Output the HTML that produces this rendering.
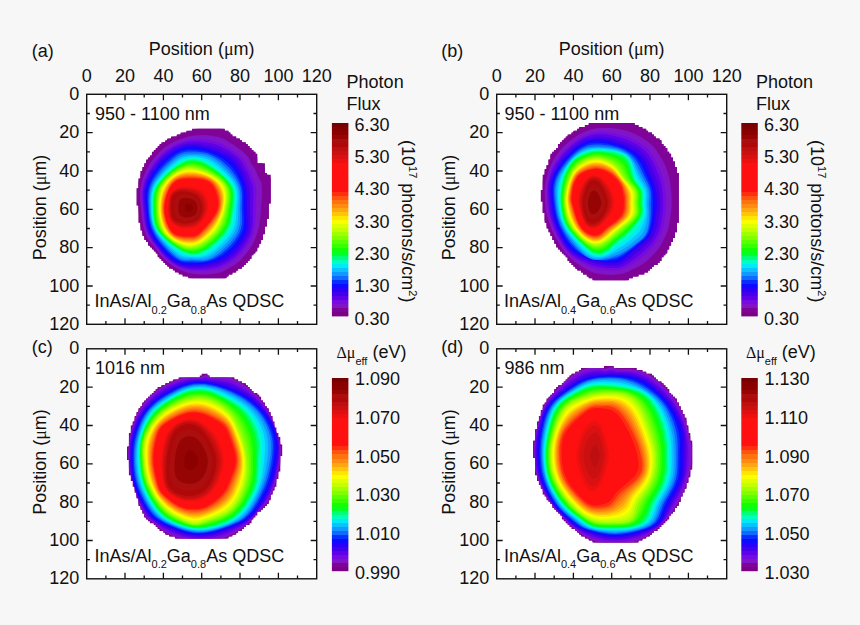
<!DOCTYPE html>
<html><head><meta charset="utf-8"><title>Figure</title>
<style>html,body{margin:0;padding:0;background:#f7f7f7;}svg{display:block;}</style></head>
<body><svg width="860" height="625" viewBox="0 0 860 625" font-family='"Liberation Sans", Arial, sans-serif' fill="#111">
<defs><clipPath id="clip0"><path d="M224.7,128.8 224.7,130.7 228.5,130.7 228.5,132.6 230.4,132.6 230.4,134.6 232.4,134.6 232.4,136.5 236.2,136.5 236.2,138.4 240.0,138.4 240.0,140.3 241.9,140.3 241.9,142.2 245.8,142.2 245.8,144.1 247.7,144.1 247.7,146.1 249.6,146.1 249.6,148.0 251.5,148.0 251.5,149.9 253.4,149.9 253.4,151.8 255.4,151.8 255.4,153.7 257.3,153.7 257.3,155.6 257.3,155.6 257.3,157.6 257.3,157.6 257.3,159.5 257.3,159.5 257.3,161.4 257.3,161.4 257.3,163.3 264.9,163.3 264.9,165.2 264.9,165.2 264.9,167.1 264.9,167.1 264.9,169.1 264.9,169.1 264.9,171.0 264.9,171.0 264.9,172.9 266.9,172.9 266.9,174.8 270.7,174.8 270.7,176.7 270.7,176.7 270.7,178.6 270.7,178.6 270.7,180.6 270.7,180.6 270.7,182.5 270.7,182.5 270.7,184.4 270.7,184.4 270.7,186.3 270.7,186.3 270.7,188.2 270.7,188.2 270.7,190.1 270.7,190.1 270.7,192.1 270.7,192.1 270.7,194.0 270.7,194.0 270.7,195.9 270.7,195.9 270.7,197.8 270.7,197.8 270.7,199.7 270.7,199.7 270.7,201.6 270.7,201.6 270.7,203.6 268.8,203.6 268.8,205.5 268.8,205.5 268.8,207.4 268.8,207.4 268.8,209.3 268.8,209.3 268.8,211.2 268.8,211.2 268.8,213.1 268.8,213.1 268.8,215.1 268.8,215.1 268.8,217.0 268.8,217.0 268.8,218.9 266.9,218.9 266.9,220.8 266.9,220.8 266.9,222.7 266.9,222.7 266.9,224.6 266.9,224.6 266.9,226.6 264.9,226.6 264.9,228.5 264.9,228.5 264.9,230.4 264.9,230.4 264.9,232.3 264.9,232.3 264.9,234.2 263.0,234.2 263.0,236.1 263.0,236.1 263.0,238.1 263.0,238.1 263.0,240.0 261.1,240.0 261.1,241.9 261.1,241.9 261.1,243.8 259.2,243.8 259.2,245.7 259.2,245.7 259.2,247.6 257.3,247.6 257.3,249.6 257.3,249.6 257.3,251.5 255.4,251.5 255.4,253.4 253.4,253.4 253.4,255.3 251.5,255.3 251.5,257.2 251.5,257.2 251.5,259.1 249.6,259.1 249.6,261.1 247.7,261.1 247.7,263.0 245.8,263.0 245.8,264.9 243.9,264.9 243.9,266.8 241.9,266.8 241.9,268.7 238.1,268.7 238.1,270.6 236.2,270.6 236.2,272.6 232.4,272.6 232.4,274.5 228.5,274.5 228.5,276.4 226.6,276.4 226.6,278.3 188.3,278.3 188.3,276.4 182.5,276.4 182.5,274.5 178.7,274.5 178.7,272.6 174.9,272.6 174.9,270.6 172.9,270.6 172.9,268.7 169.1,268.7 169.1,266.8 167.2,266.8 167.2,264.9 165.3,264.9 165.3,263.0 163.4,263.0 163.4,261.1 161.4,261.1 161.4,259.1 159.5,259.1 159.5,257.2 157.6,257.2 157.6,255.3 157.6,255.3 157.6,253.4 155.7,253.4 155.7,251.5 153.8,251.5 153.8,249.6 151.9,249.6 151.9,247.6 149.9,247.6 149.9,245.7 148.0,245.7 148.0,243.8 148.0,243.8 148.0,241.9 146.1,241.9 146.1,240.0 144.2,240.0 144.2,238.1 144.2,238.1 144.2,236.1 142.3,236.1 142.3,234.2 142.3,234.2 142.3,232.3 142.3,232.3 142.3,230.4 140.4,230.4 140.4,228.5 140.4,228.5 140.4,226.6 140.4,226.6 140.4,224.6 140.4,224.6 140.4,222.7 138.4,222.7 138.4,220.8 138.4,220.8 138.4,218.9 138.4,218.9 138.4,217.0 138.4,217.0 138.4,215.1 138.4,215.1 138.4,213.1 138.4,213.1 138.4,211.2 138.4,211.2 138.4,209.3 138.4,209.3 138.4,207.4 138.4,207.4 138.4,205.5 136.5,205.5 136.5,203.6 136.5,203.6 136.5,201.6 136.5,201.6 136.5,199.7 136.5,199.7 136.5,197.8 136.5,197.8 136.5,195.9 136.5,195.9 136.5,194.0 136.5,194.0 136.5,192.1 136.5,192.1 136.5,190.1 136.5,190.1 136.5,188.2 138.4,188.2 138.4,186.3 138.4,186.3 138.4,184.4 138.4,184.4 138.4,182.5 138.4,182.5 138.4,180.6 138.4,180.6 138.4,178.6 140.4,178.6 140.4,176.7 140.4,176.7 140.4,174.8 140.4,174.8 140.4,172.9 140.4,172.9 140.4,171.0 142.3,171.0 142.3,169.1 142.3,169.1 142.3,167.1 144.2,167.1 144.2,165.2 144.2,165.2 144.2,163.3 146.1,163.3 146.1,161.4 146.1,161.4 146.1,159.5 148.0,159.5 148.0,157.6 149.9,157.6 149.9,155.6 151.9,155.6 151.9,153.7 151.9,153.7 151.9,151.8 153.8,151.8 153.8,149.9 155.7,149.9 155.7,148.0 157.6,148.0 157.6,146.1 159.5,146.1 159.5,144.1 161.4,144.1 161.4,142.2 165.3,142.2 165.3,140.3 167.2,140.3 167.2,138.4 171.0,138.4 171.0,136.5 176.8,136.5 176.8,134.6 180.6,134.6 180.6,132.6 186.4,132.6 186.4,130.7 192.1,130.7 192.1,128.8Z"/></clipPath>
<linearGradient id="cb0" x1="0" y1="0" x2="0" y2="1"><stop offset="0.0000" stop-color="#770000"/><stop offset="0.0208" stop-color="#770000"/><stop offset="0.0208" stop-color="#850000"/><stop offset="0.0417" stop-color="#850000"/><stop offset="0.0417" stop-color="#8c0000"/><stop offset="0.0625" stop-color="#8c0000"/><stop offset="0.0625" stop-color="#970404"/><stop offset="0.0833" stop-color="#970404"/><stop offset="0.0833" stop-color="#aa0e0e"/><stop offset="0.1042" stop-color="#aa0e0e"/><stop offset="0.1042" stop-color="#b00808"/><stop offset="0.1250" stop-color="#b00808"/><stop offset="0.1250" stop-color="#bd0f0f"/><stop offset="0.1458" stop-color="#bd0f0f"/><stop offset="0.1458" stop-color="#ca1010"/><stop offset="0.1667" stop-color="#ca1010"/><stop offset="0.1667" stop-color="#db1010"/><stop offset="0.1875" stop-color="#db1010"/><stop offset="0.1875" stop-color="#ed1010"/><stop offset="0.2083" stop-color="#ed1010"/><stop offset="0.2083" stop-color="#fc1010"/><stop offset="0.2292" stop-color="#fc1010"/><stop offset="0.2292" stop-color="#ff1010"/><stop offset="0.2500" stop-color="#ff1010"/><stop offset="0.2500" stop-color="#ff1010"/><stop offset="0.2708" stop-color="#ff1010"/><stop offset="0.2708" stop-color="#ff1010"/><stop offset="0.2917" stop-color="#ff1010"/><stop offset="0.2917" stop-color="#ff1010"/><stop offset="0.3125" stop-color="#ff1010"/><stop offset="0.3125" stop-color="#ff1010"/><stop offset="0.3333" stop-color="#ff1010"/><stop offset="0.3333" stop-color="#ff1010"/><stop offset="0.3542" stop-color="#ff1010"/><stop offset="0.3542" stop-color="#ff2e10"/><stop offset="0.3750" stop-color="#ff2e10"/><stop offset="0.3750" stop-color="#ff5410"/><stop offset="0.3958" stop-color="#ff5410"/><stop offset="0.3958" stop-color="#ff7210"/><stop offset="0.4167" stop-color="#ff7210"/><stop offset="0.4167" stop-color="#ff8c10"/><stop offset="0.4375" stop-color="#ff8c10"/><stop offset="0.4375" stop-color="#ffa610"/><stop offset="0.4583" stop-color="#ffa610"/><stop offset="0.4583" stop-color="#ffc509"/><stop offset="0.4792" stop-color="#ffc509"/><stop offset="0.4792" stop-color="#ffe601"/><stop offset="0.5000" stop-color="#ffe601"/><stop offset="0.5000" stop-color="#faff00"/><stop offset="0.5208" stop-color="#faff00"/><stop offset="0.5208" stop-color="#deff00"/><stop offset="0.5417" stop-color="#deff00"/><stop offset="0.5417" stop-color="#c2ff00"/><stop offset="0.5625" stop-color="#c2ff00"/><stop offset="0.5625" stop-color="#a2ff00"/><stop offset="0.5833" stop-color="#a2ff00"/><stop offset="0.5833" stop-color="#7fff00"/><stop offset="0.6042" stop-color="#7fff00"/><stop offset="0.6042" stop-color="#5aff00"/><stop offset="0.6250" stop-color="#5aff00"/><stop offset="0.6250" stop-color="#36ff00"/><stop offset="0.6458" stop-color="#36ff00"/><stop offset="0.6458" stop-color="#11ff00"/><stop offset="0.6667" stop-color="#11ff00"/><stop offset="0.6667" stop-color="#03ff26"/><stop offset="0.6875" stop-color="#03ff26"/><stop offset="0.6875" stop-color="#00ff77"/><stop offset="0.7083" stop-color="#00ff77"/><stop offset="0.7083" stop-color="#00ffc0"/><stop offset="0.7292" stop-color="#00ffc0"/><stop offset="0.7292" stop-color="#00eaf5"/><stop offset="0.7500" stop-color="#00eaf5"/><stop offset="0.7500" stop-color="#0cc1ff"/><stop offset="0.7708" stop-color="#0cc1ff"/><stop offset="0.7708" stop-color="#1099ff"/><stop offset="0.7917" stop-color="#1099ff"/><stop offset="0.7917" stop-color="#106aff"/><stop offset="0.8125" stop-color="#106aff"/><stop offset="0.8125" stop-color="#062eff"/><stop offset="0.8333" stop-color="#062eff"/><stop offset="0.8333" stop-color="#0e09ff"/><stop offset="0.8542" stop-color="#0e09ff"/><stop offset="0.8542" stop-color="#2800f9"/><stop offset="0.8750" stop-color="#2800f9"/><stop offset="0.8750" stop-color="#4200e8"/><stop offset="0.8958" stop-color="#4200e8"/><stop offset="0.8958" stop-color="#5f00e8"/><stop offset="0.9167" stop-color="#5f00e8"/><stop offset="0.9167" stop-color="#750be1"/><stop offset="0.9375" stop-color="#750be1"/><stop offset="0.9375" stop-color="#8014c6"/><stop offset="0.9583" stop-color="#8014c6"/><stop offset="0.9583" stop-color="#800397"/><stop offset="0.9792" stop-color="#800397"/><stop offset="0.9792" stop-color="#7b0086"/><stop offset="1.0000" stop-color="#7b0086"/></linearGradient>
<clipPath id="clip1"><path d="M634.7,123.0 634.7,125.0 638.5,125.0 638.5,126.9 642.4,126.9 642.4,128.8 646.2,128.8 646.2,130.7 648.1,130.7 648.1,132.6 652.0,132.6 652.0,134.6 653.9,134.6 653.9,136.5 655.8,136.5 655.8,138.4 659.6,138.4 659.6,140.3 661.5,140.3 661.5,142.2 661.5,142.2 661.5,144.1 663.5,144.1 663.5,146.1 665.4,146.1 665.4,148.0 667.3,148.0 667.3,149.9 667.3,149.9 667.3,151.8 669.2,151.8 669.2,153.7 671.1,153.7 671.1,155.6 671.1,155.6 671.1,157.6 673.0,157.6 673.0,159.5 673.0,159.5 673.0,161.4 675.0,161.4 675.0,163.3 675.0,163.3 675.0,165.2 675.0,165.2 675.0,167.1 676.9,167.1 676.9,169.1 676.9,169.1 676.9,171.0 676.9,171.0 676.9,172.9 678.8,172.9 678.8,174.8 678.8,174.8 678.8,176.7 678.8,176.7 678.8,178.6 678.8,178.6 678.8,180.6 678.8,180.6 678.8,182.5 678.8,182.5 678.8,184.4 678.8,184.4 678.8,186.3 678.8,186.3 678.8,188.2 678.8,188.2 678.8,190.1 678.8,190.1 678.8,192.1 678.8,192.1 678.8,194.0 678.8,194.0 678.8,195.9 678.8,195.9 678.8,197.8 678.8,197.8 678.8,199.7 678.8,199.7 678.8,201.6 678.8,201.6 678.8,203.6 678.8,203.6 678.8,205.5 678.8,205.5 678.8,207.4 678.8,207.4 678.8,209.3 678.8,209.3 678.8,211.2 678.8,211.2 678.8,213.1 678.8,213.1 678.8,215.1 678.8,215.1 678.8,217.0 678.8,217.0 678.8,218.9 678.8,218.9 678.8,220.8 678.8,220.8 678.8,222.7 676.9,222.7 676.9,224.6 676.9,224.6 676.9,226.6 676.9,226.6 676.9,228.5 676.9,228.5 676.9,230.4 676.9,230.4 676.9,232.3 675.0,232.3 675.0,234.2 675.0,234.2 675.0,236.1 675.0,236.1 675.0,238.1 673.0,238.1 673.0,240.0 673.0,240.0 673.0,241.9 671.1,241.9 671.1,243.8 671.1,243.8 671.1,245.7 669.2,245.7 669.2,247.6 669.2,247.6 669.2,249.6 667.3,249.6 667.3,251.5 667.3,251.5 667.3,253.4 665.4,253.4 665.4,255.3 663.5,255.3 663.5,257.2 661.5,257.2 661.5,259.1 661.5,259.1 661.5,261.1 659.6,261.1 659.6,263.0 657.7,263.0 657.7,264.9 653.9,264.9 653.9,266.8 652.0,266.8 652.0,268.7 650.0,268.7 650.0,270.6 648.1,270.6 648.1,272.6 644.3,272.6 644.3,274.5 638.5,274.5 638.5,276.4 632.8,276.4 632.8,278.3 629.0,278.3 629.0,280.2 592.5,280.2 592.5,278.3 588.7,278.3 588.7,276.4 586.8,276.4 586.8,274.5 583.0,274.5 583.0,272.6 581.0,272.6 581.0,270.6 577.2,270.6 577.2,268.7 575.3,268.7 575.3,266.8 573.4,266.8 573.4,264.9 571.5,264.9 571.5,263.0 569.5,263.0 569.5,261.1 567.6,261.1 567.6,259.1 567.6,259.1 567.6,257.2 565.7,257.2 565.7,255.3 563.8,255.3 563.8,253.4 561.9,253.4 561.9,251.5 560.0,251.5 560.0,249.6 558.0,249.6 558.0,247.6 556.1,247.6 556.1,245.7 556.1,245.7 556.1,243.8 554.2,243.8 554.2,241.9 554.2,241.9 554.2,240.0 552.3,240.0 552.3,238.1 552.3,238.1 552.3,236.1 550.4,236.1 550.4,234.2 550.4,234.2 550.4,232.3 548.5,232.3 548.5,230.4 548.5,230.4 548.5,228.5 546.5,228.5 546.5,226.6 546.5,226.6 546.5,224.6 546.5,224.6 546.5,222.7 544.6,222.7 544.6,220.8 544.6,220.8 544.6,218.9 544.6,218.9 544.6,217.0 544.6,217.0 544.6,215.1 544.6,215.1 544.6,213.1 542.7,213.1 542.7,211.2 542.7,211.2 542.7,209.3 542.7,209.3 542.7,207.4 542.7,207.4 542.7,205.5 542.7,205.5 542.7,203.6 542.7,203.6 542.7,201.6 540.8,201.6 540.8,199.7 540.8,199.7 540.8,197.8 540.8,197.8 540.8,195.9 540.8,195.9 540.8,194.0 540.8,194.0 540.8,192.1 540.8,192.1 540.8,190.1 542.7,190.1 542.7,188.2 542.7,188.2 542.7,186.3 542.7,186.3 542.7,184.4 542.7,184.4 542.7,182.5 542.7,182.5 542.7,180.6 542.7,180.6 542.7,178.6 542.7,178.6 542.7,176.7 542.7,176.7 542.7,174.8 544.6,174.8 544.6,172.9 544.6,172.9 544.6,171.0 544.6,171.0 544.6,169.1 546.5,169.1 546.5,167.1 546.5,167.1 546.5,165.2 548.5,165.2 548.5,163.3 548.5,163.3 548.5,161.4 548.5,161.4 548.5,159.5 550.4,159.5 550.4,157.6 550.4,157.6 550.4,155.6 550.4,155.6 550.4,153.7 552.3,153.7 552.3,151.8 554.2,151.8 554.2,149.9 556.1,149.9 556.1,148.0 558.0,148.0 558.0,146.1 558.0,146.1 558.0,144.1 560.0,144.1 560.0,142.2 561.9,142.2 561.9,140.3 563.8,140.3 563.8,138.4 565.7,138.4 565.7,136.5 567.6,136.5 567.6,134.6 571.5,134.6 571.5,132.6 573.4,132.6 573.4,130.7 577.2,130.7 577.2,128.8 579.1,128.8 579.1,126.9 584.9,126.9 584.9,125.0 588.7,125.0 588.7,123.0Z"/></clipPath>
<linearGradient id="cb1" x1="0" y1="0" x2="0" y2="1"><stop offset="0.0000" stop-color="#770000"/><stop offset="0.0208" stop-color="#770000"/><stop offset="0.0208" stop-color="#850000"/><stop offset="0.0417" stop-color="#850000"/><stop offset="0.0417" stop-color="#8c0000"/><stop offset="0.0625" stop-color="#8c0000"/><stop offset="0.0625" stop-color="#970404"/><stop offset="0.0833" stop-color="#970404"/><stop offset="0.0833" stop-color="#aa0e0e"/><stop offset="0.1042" stop-color="#aa0e0e"/><stop offset="0.1042" stop-color="#b00808"/><stop offset="0.1250" stop-color="#b00808"/><stop offset="0.1250" stop-color="#bd0f0f"/><stop offset="0.1458" stop-color="#bd0f0f"/><stop offset="0.1458" stop-color="#ca1010"/><stop offset="0.1667" stop-color="#ca1010"/><stop offset="0.1667" stop-color="#db1010"/><stop offset="0.1875" stop-color="#db1010"/><stop offset="0.1875" stop-color="#ed1010"/><stop offset="0.2083" stop-color="#ed1010"/><stop offset="0.2083" stop-color="#fc1010"/><stop offset="0.2292" stop-color="#fc1010"/><stop offset="0.2292" stop-color="#ff1010"/><stop offset="0.2500" stop-color="#ff1010"/><stop offset="0.2500" stop-color="#ff1010"/><stop offset="0.2708" stop-color="#ff1010"/><stop offset="0.2708" stop-color="#ff1010"/><stop offset="0.2917" stop-color="#ff1010"/><stop offset="0.2917" stop-color="#ff1010"/><stop offset="0.3125" stop-color="#ff1010"/><stop offset="0.3125" stop-color="#ff1010"/><stop offset="0.3333" stop-color="#ff1010"/><stop offset="0.3333" stop-color="#ff1010"/><stop offset="0.3542" stop-color="#ff1010"/><stop offset="0.3542" stop-color="#ff2e10"/><stop offset="0.3750" stop-color="#ff2e10"/><stop offset="0.3750" stop-color="#ff5410"/><stop offset="0.3958" stop-color="#ff5410"/><stop offset="0.3958" stop-color="#ff7210"/><stop offset="0.4167" stop-color="#ff7210"/><stop offset="0.4167" stop-color="#ff8c10"/><stop offset="0.4375" stop-color="#ff8c10"/><stop offset="0.4375" stop-color="#ffa610"/><stop offset="0.4583" stop-color="#ffa610"/><stop offset="0.4583" stop-color="#ffc509"/><stop offset="0.4792" stop-color="#ffc509"/><stop offset="0.4792" stop-color="#ffe601"/><stop offset="0.5000" stop-color="#ffe601"/><stop offset="0.5000" stop-color="#faff00"/><stop offset="0.5208" stop-color="#faff00"/><stop offset="0.5208" stop-color="#deff00"/><stop offset="0.5417" stop-color="#deff00"/><stop offset="0.5417" stop-color="#c2ff00"/><stop offset="0.5625" stop-color="#c2ff00"/><stop offset="0.5625" stop-color="#a2ff00"/><stop offset="0.5833" stop-color="#a2ff00"/><stop offset="0.5833" stop-color="#7fff00"/><stop offset="0.6042" stop-color="#7fff00"/><stop offset="0.6042" stop-color="#5aff00"/><stop offset="0.6250" stop-color="#5aff00"/><stop offset="0.6250" stop-color="#36ff00"/><stop offset="0.6458" stop-color="#36ff00"/><stop offset="0.6458" stop-color="#11ff00"/><stop offset="0.6667" stop-color="#11ff00"/><stop offset="0.6667" stop-color="#03ff26"/><stop offset="0.6875" stop-color="#03ff26"/><stop offset="0.6875" stop-color="#00ff77"/><stop offset="0.7083" stop-color="#00ff77"/><stop offset="0.7083" stop-color="#00ffc0"/><stop offset="0.7292" stop-color="#00ffc0"/><stop offset="0.7292" stop-color="#00eaf5"/><stop offset="0.7500" stop-color="#00eaf5"/><stop offset="0.7500" stop-color="#0cc1ff"/><stop offset="0.7708" stop-color="#0cc1ff"/><stop offset="0.7708" stop-color="#1099ff"/><stop offset="0.7917" stop-color="#1099ff"/><stop offset="0.7917" stop-color="#106aff"/><stop offset="0.8125" stop-color="#106aff"/><stop offset="0.8125" stop-color="#062eff"/><stop offset="0.8333" stop-color="#062eff"/><stop offset="0.8333" stop-color="#0e09ff"/><stop offset="0.8542" stop-color="#0e09ff"/><stop offset="0.8542" stop-color="#2800f9"/><stop offset="0.8750" stop-color="#2800f9"/><stop offset="0.8750" stop-color="#4200e8"/><stop offset="0.8958" stop-color="#4200e8"/><stop offset="0.8958" stop-color="#5f00e8"/><stop offset="0.9167" stop-color="#5f00e8"/><stop offset="0.9167" stop-color="#750be1"/><stop offset="0.9375" stop-color="#750be1"/><stop offset="0.9375" stop-color="#8014c6"/><stop offset="0.9583" stop-color="#8014c6"/><stop offset="0.9583" stop-color="#800397"/><stop offset="0.9792" stop-color="#800397"/><stop offset="0.9792" stop-color="#7b0086"/><stop offset="1.0000" stop-color="#7b0086"/></linearGradient>
<clipPath id="clip2"><path d="M207.4,373.7 207.4,375.6 209.4,375.6 209.4,377.6 234.3,377.6 234.3,379.5 238.1,379.5 238.1,381.4 241.9,381.4 241.9,383.3 245.8,383.3 245.8,385.2 247.7,385.2 247.7,387.1 249.6,387.1 249.6,389.1 251.5,389.1 251.5,391.0 253.4,391.0 253.4,392.9 257.3,392.9 257.3,394.8 259.2,394.8 259.2,396.7 261.1,396.7 261.1,398.6 261.1,398.6 261.1,400.6 263.0,400.6 263.0,402.5 264.9,402.5 264.9,404.4 264.9,404.4 264.9,406.3 266.9,406.3 266.9,408.2 268.8,408.2 268.8,410.1 268.8,410.1 268.8,412.1 270.7,412.1 270.7,414.0 270.7,414.0 270.7,415.9 272.6,415.9 272.6,417.8 272.6,417.8 272.6,419.7 272.6,419.7 272.6,421.6 274.5,421.6 274.5,423.6 274.5,423.6 274.5,425.5 274.5,425.5 274.5,427.4 276.4,427.4 276.4,429.3 276.4,429.3 276.4,431.2 276.4,431.2 276.4,433.1 278.4,433.1 278.4,435.1 278.4,435.1 278.4,437.0 280.3,437.0 280.3,438.9 280.3,438.9 280.3,440.8 280.3,440.8 280.3,442.7 280.3,442.7 280.3,444.6 282.2,444.6 282.2,446.6 282.2,446.6 282.2,448.5 282.2,448.5 282.2,450.4 282.2,450.4 282.2,452.3 282.2,452.3 282.2,454.2 282.2,454.2 282.2,456.1 280.3,456.1 280.3,458.1 280.3,458.1 280.3,460.0 280.3,460.0 280.3,461.9 280.3,461.9 280.3,463.8 280.3,463.8 280.3,465.7 280.3,465.7 280.3,467.6 280.3,467.6 280.3,469.6 280.3,469.6 280.3,471.5 278.4,471.5 278.4,473.4 278.4,473.4 278.4,475.3 278.4,475.3 278.4,477.2 278.4,477.2 278.4,479.1 276.4,479.1 276.4,481.1 276.4,481.1 276.4,483.0 276.4,483.0 276.4,484.9 276.4,484.9 276.4,486.8 274.5,486.8 274.5,488.7 274.5,488.7 274.5,490.6 272.6,490.6 272.6,492.6 272.6,492.6 272.6,494.5 270.7,494.5 270.7,496.4 270.7,496.4 270.7,498.3 270.7,498.3 270.7,500.2 268.8,500.2 268.8,502.1 268.8,502.1 268.8,504.1 266.9,504.1 266.9,506.0 264.9,506.0 264.9,507.9 263.0,507.9 263.0,509.8 261.1,509.8 261.1,511.7 257.3,511.7 257.3,513.6 257.3,513.6 257.3,515.5 255.4,515.5 255.4,517.5 253.4,517.5 253.4,519.4 251.5,519.4 251.5,521.3 251.5,521.3 251.5,523.2 249.6,523.2 249.6,525.1 245.8,525.1 245.8,527.0 243.9,527.0 243.9,529.0 241.9,529.0 241.9,530.9 238.1,530.9 238.1,532.8 236.2,532.8 236.2,534.7 232.4,534.7 232.4,536.6 228.5,536.6 228.5,538.5 174.9,538.5 174.9,536.6 169.1,536.6 169.1,534.7 165.3,534.7 165.3,532.8 163.4,532.8 163.4,530.9 159.5,530.9 159.5,529.0 157.6,529.0 157.6,527.0 155.7,527.0 155.7,525.1 153.8,525.1 153.8,523.2 149.9,523.2 149.9,521.3 148.0,521.3 148.0,519.4 146.1,519.4 146.1,517.5 144.2,517.5 144.2,515.5 144.2,515.5 144.2,513.6 142.3,513.6 142.3,511.7 142.3,511.7 142.3,509.8 140.4,509.8 140.4,507.9 140.4,507.9 140.4,506.0 138.4,506.0 138.4,504.1 138.4,504.1 138.4,502.1 138.4,502.1 138.4,500.2 138.4,500.2 138.4,498.3 136.5,498.3 136.5,496.4 136.5,496.4 136.5,494.5 136.5,494.5 136.5,492.6 134.6,492.6 134.6,490.6 134.6,490.6 134.6,488.7 134.6,488.7 134.6,486.8 132.7,486.8 132.7,484.9 132.7,484.9 132.7,483.0 132.7,483.0 132.7,481.1 130.8,481.1 130.8,479.1 130.8,479.1 130.8,477.2 130.8,477.2 130.8,475.3 128.9,475.3 128.9,473.4 128.9,473.4 128.9,471.5 128.9,471.5 128.9,469.6 128.9,469.6 128.9,467.6 128.9,467.6 128.9,465.7 128.9,465.7 128.9,463.8 128.9,463.8 128.9,461.9 128.9,461.9 128.9,460.0 127.0,460.0 127.0,458.1 127.0,458.1 127.0,456.1 127.0,456.1 127.0,454.2 127.0,454.2 127.0,452.3 127.0,452.3 127.0,450.4 127.0,450.4 127.0,448.5 127.0,448.5 127.0,446.6 128.9,446.6 128.9,444.6 128.9,444.6 128.9,442.7 128.9,442.7 128.9,440.8 128.9,440.8 128.9,438.9 128.9,438.9 128.9,437.0 128.9,437.0 128.9,435.1 128.9,435.1 128.9,433.1 130.8,433.1 130.8,431.2 130.8,431.2 130.8,429.3 130.8,429.3 130.8,427.4 130.8,427.4 130.8,425.5 132.7,425.5 132.7,423.6 132.7,423.6 132.7,421.6 134.6,421.6 134.6,419.7 134.6,419.7 134.6,417.8 134.6,417.8 134.6,415.9 136.5,415.9 136.5,414.0 136.5,414.0 136.5,412.1 138.4,412.1 138.4,410.1 138.4,410.1 138.4,408.2 140.4,408.2 140.4,406.3 142.3,406.3 142.3,404.4 142.3,404.4 142.3,402.5 144.2,402.5 144.2,400.6 146.1,400.6 146.1,398.6 148.0,398.6 148.0,396.7 149.9,396.7 149.9,394.8 151.9,394.8 151.9,392.9 153.8,392.9 153.8,391.0 155.7,391.0 155.7,389.1 157.6,389.1 157.6,387.1 161.4,387.1 161.4,385.2 165.3,385.2 165.3,383.3 169.1,383.3 169.1,381.4 172.9,381.4 172.9,379.5 178.7,379.5 178.7,377.6 199.8,377.6 199.8,375.6 201.7,375.6 201.7,373.7Z"/></clipPath>
<linearGradient id="cb2" x1="0" y1="0" x2="0" y2="1"><stop offset="0.0000" stop-color="#770000"/><stop offset="0.0208" stop-color="#770000"/><stop offset="0.0208" stop-color="#850000"/><stop offset="0.0417" stop-color="#850000"/><stop offset="0.0417" stop-color="#8c0000"/><stop offset="0.0625" stop-color="#8c0000"/><stop offset="0.0625" stop-color="#970404"/><stop offset="0.0833" stop-color="#970404"/><stop offset="0.0833" stop-color="#aa0e0e"/><stop offset="0.1042" stop-color="#aa0e0e"/><stop offset="0.1042" stop-color="#b00808"/><stop offset="0.1250" stop-color="#b00808"/><stop offset="0.1250" stop-color="#bd0f0f"/><stop offset="0.1458" stop-color="#bd0f0f"/><stop offset="0.1458" stop-color="#ca1010"/><stop offset="0.1667" stop-color="#ca1010"/><stop offset="0.1667" stop-color="#db1010"/><stop offset="0.1875" stop-color="#db1010"/><stop offset="0.1875" stop-color="#ed1010"/><stop offset="0.2083" stop-color="#ed1010"/><stop offset="0.2083" stop-color="#fc1010"/><stop offset="0.2292" stop-color="#fc1010"/><stop offset="0.2292" stop-color="#ff1010"/><stop offset="0.2500" stop-color="#ff1010"/><stop offset="0.2500" stop-color="#ff1010"/><stop offset="0.2708" stop-color="#ff1010"/><stop offset="0.2708" stop-color="#ff1010"/><stop offset="0.2917" stop-color="#ff1010"/><stop offset="0.2917" stop-color="#ff1010"/><stop offset="0.3125" stop-color="#ff1010"/><stop offset="0.3125" stop-color="#ff1010"/><stop offset="0.3333" stop-color="#ff1010"/><stop offset="0.3333" stop-color="#ff1010"/><stop offset="0.3542" stop-color="#ff1010"/><stop offset="0.3542" stop-color="#ff2e10"/><stop offset="0.3750" stop-color="#ff2e10"/><stop offset="0.3750" stop-color="#ff5410"/><stop offset="0.3958" stop-color="#ff5410"/><stop offset="0.3958" stop-color="#ff7210"/><stop offset="0.4167" stop-color="#ff7210"/><stop offset="0.4167" stop-color="#ff8c10"/><stop offset="0.4375" stop-color="#ff8c10"/><stop offset="0.4375" stop-color="#ffa610"/><stop offset="0.4583" stop-color="#ffa610"/><stop offset="0.4583" stop-color="#ffc509"/><stop offset="0.4792" stop-color="#ffc509"/><stop offset="0.4792" stop-color="#ffe601"/><stop offset="0.5000" stop-color="#ffe601"/><stop offset="0.5000" stop-color="#faff00"/><stop offset="0.5208" stop-color="#faff00"/><stop offset="0.5208" stop-color="#deff00"/><stop offset="0.5417" stop-color="#deff00"/><stop offset="0.5417" stop-color="#c2ff00"/><stop offset="0.5625" stop-color="#c2ff00"/><stop offset="0.5625" stop-color="#a2ff00"/><stop offset="0.5833" stop-color="#a2ff00"/><stop offset="0.5833" stop-color="#7fff00"/><stop offset="0.6042" stop-color="#7fff00"/><stop offset="0.6042" stop-color="#5aff00"/><stop offset="0.6250" stop-color="#5aff00"/><stop offset="0.6250" stop-color="#36ff00"/><stop offset="0.6458" stop-color="#36ff00"/><stop offset="0.6458" stop-color="#11ff00"/><stop offset="0.6667" stop-color="#11ff00"/><stop offset="0.6667" stop-color="#03ff26"/><stop offset="0.6875" stop-color="#03ff26"/><stop offset="0.6875" stop-color="#00ff77"/><stop offset="0.7083" stop-color="#00ff77"/><stop offset="0.7083" stop-color="#00ffc0"/><stop offset="0.7292" stop-color="#00ffc0"/><stop offset="0.7292" stop-color="#00eaf5"/><stop offset="0.7500" stop-color="#00eaf5"/><stop offset="0.7500" stop-color="#0cc1ff"/><stop offset="0.7708" stop-color="#0cc1ff"/><stop offset="0.7708" stop-color="#1099ff"/><stop offset="0.7917" stop-color="#1099ff"/><stop offset="0.7917" stop-color="#106aff"/><stop offset="0.8125" stop-color="#106aff"/><stop offset="0.8125" stop-color="#062eff"/><stop offset="0.8333" stop-color="#062eff"/><stop offset="0.8333" stop-color="#0e09ff"/><stop offset="0.8542" stop-color="#0e09ff"/><stop offset="0.8542" stop-color="#2800f9"/><stop offset="0.8750" stop-color="#2800f9"/><stop offset="0.8750" stop-color="#4200e8"/><stop offset="0.8958" stop-color="#4200e8"/><stop offset="0.8958" stop-color="#5f00e8"/><stop offset="0.9167" stop-color="#5f00e8"/><stop offset="0.9167" stop-color="#750be1"/><stop offset="0.9375" stop-color="#750be1"/><stop offset="0.9375" stop-color="#8014c6"/><stop offset="0.9583" stop-color="#8014c6"/><stop offset="0.9583" stop-color="#800397"/><stop offset="0.9792" stop-color="#800397"/><stop offset="0.9792" stop-color="#7b0086"/><stop offset="1.0000" stop-color="#7b0086"/></linearGradient>
<clipPath id="clip3"><path d="M613.6,366.1 613.6,368.0 636.6,368.0 636.6,369.9 642.4,369.9 642.4,371.8 646.2,371.8 646.2,373.7 652.0,373.7 652.0,375.6 653.9,375.6 653.9,377.6 655.8,377.6 655.8,379.5 657.7,379.5 657.7,381.4 661.5,381.4 661.5,383.3 663.5,383.3 663.5,385.2 665.4,385.2 665.4,387.1 667.3,387.1 667.3,389.1 669.2,389.1 669.2,391.0 669.2,391.0 669.2,392.9 671.1,392.9 671.1,394.8 673.0,394.8 673.0,396.7 675.0,396.7 675.0,398.6 676.9,398.6 676.9,400.6 676.9,400.6 676.9,402.5 678.8,402.5 678.8,404.4 678.8,404.4 678.8,406.3 680.7,406.3 680.7,408.2 680.7,408.2 680.7,410.1 682.6,410.1 682.6,412.1 682.6,412.1 682.6,414.0 684.5,414.0 684.5,415.9 684.5,415.9 684.5,417.8 686.5,417.8 686.5,419.7 686.5,419.7 686.5,421.6 686.5,421.6 686.5,423.6 686.5,423.6 686.5,425.5 688.4,425.5 688.4,427.4 688.4,427.4 688.4,429.3 688.4,429.3 688.4,431.2 688.4,431.2 688.4,433.1 690.3,433.1 690.3,435.1 690.3,435.1 690.3,437.0 690.3,437.0 690.3,438.9 690.3,438.9 690.3,440.8 692.2,440.8 692.2,442.7 692.2,442.7 692.2,444.6 692.2,444.6 692.2,446.6 692.2,446.6 692.2,448.5 692.2,448.5 692.2,450.4 692.2,450.4 692.2,452.3 692.2,452.3 692.2,454.2 692.2,454.2 692.2,456.1 692.2,456.1 692.2,458.1 692.2,458.1 692.2,460.0 692.2,460.0 692.2,461.9 692.2,461.9 692.2,463.8 692.2,463.8 692.2,465.7 692.2,465.7 692.2,467.6 692.2,467.6 692.2,469.6 690.3,469.6 690.3,471.5 690.3,471.5 690.3,473.4 690.3,473.4 690.3,475.3 690.3,475.3 690.3,477.2 688.4,477.2 688.4,479.1 688.4,479.1 688.4,481.1 688.4,481.1 688.4,483.0 686.5,483.0 686.5,484.9 686.5,484.9 686.5,486.8 686.5,486.8 686.5,488.7 684.5,488.7 684.5,490.6 684.5,490.6 684.5,492.6 682.6,492.6 682.6,494.5 682.6,494.5 682.6,496.4 680.7,496.4 680.7,498.3 680.7,498.3 680.7,500.2 680.7,500.2 680.7,502.1 678.8,502.1 678.8,504.1 678.8,504.1 678.8,506.0 676.9,506.0 676.9,507.9 675.0,507.9 675.0,509.8 675.0,509.8 675.0,511.7 673.0,511.7 673.0,513.6 671.1,513.6 671.1,515.5 669.2,515.5 669.2,517.5 669.2,517.5 669.2,519.4 667.3,519.4 667.3,521.3 665.4,521.3 665.4,523.2 663.5,523.2 663.5,525.1 661.5,525.1 661.5,527.0 659.6,527.0 659.6,529.0 657.7,529.0 657.7,530.9 653.9,530.9 653.9,532.8 652.0,532.8 652.0,534.7 650.0,534.7 650.0,536.6 646.2,536.6 646.2,538.5 642.4,538.5 642.4,540.5 638.5,540.5 638.5,542.4 592.5,542.4 592.5,540.5 588.7,540.5 588.7,538.5 584.9,538.5 584.9,536.6 581.0,536.6 581.0,534.7 579.1,534.7 579.1,532.8 577.2,532.8 577.2,530.9 575.3,530.9 575.3,529.0 571.5,529.0 571.5,527.0 569.5,527.0 569.5,525.1 567.6,525.1 567.6,523.2 565.7,523.2 565.7,521.3 563.8,521.3 563.8,519.4 561.9,519.4 561.9,517.5 561.9,517.5 561.9,515.5 560.0,515.5 560.0,513.6 558.0,513.6 558.0,511.7 556.1,511.7 556.1,509.8 554.2,509.8 554.2,507.9 552.3,507.9 552.3,506.0 552.3,506.0 552.3,504.1 550.4,504.1 550.4,502.1 548.5,502.1 548.5,500.2 546.5,500.2 546.5,498.3 546.5,498.3 546.5,496.4 544.6,496.4 544.6,494.5 542.7,494.5 542.7,492.6 542.7,492.6 542.7,490.6 542.7,490.6 542.7,488.7 540.8,488.7 540.8,486.8 540.8,486.8 540.8,484.9 538.9,484.9 538.9,483.0 538.9,483.0 538.9,481.1 537.0,481.1 537.0,479.1 537.0,479.1 537.0,477.2 537.0,477.2 537.0,475.3 535.0,475.3 535.0,473.4 535.0,473.4 535.0,471.5 535.0,471.5 535.0,469.6 535.0,469.6 535.0,467.6 535.0,467.6 535.0,465.7 535.0,465.7 535.0,463.8 535.0,463.8 535.0,461.9 535.0,461.9 535.0,460.0 535.0,460.0 535.0,458.1 533.1,458.1 533.1,456.1 533.1,456.1 533.1,454.2 533.1,454.2 533.1,452.3 533.1,452.3 533.1,450.4 533.1,450.4 533.1,448.5 533.1,448.5 533.1,446.6 533.1,446.6 533.1,444.6 533.1,444.6 533.1,442.7 533.1,442.7 533.1,440.8 535.0,440.8 535.0,438.9 535.0,438.9 535.0,437.0 535.0,437.0 535.0,435.1 535.0,435.1 535.0,433.1 535.0,433.1 535.0,431.2 535.0,431.2 535.0,429.3 537.0,429.3 537.0,427.4 537.0,427.4 537.0,425.5 537.0,425.5 537.0,423.6 537.0,423.6 537.0,421.6 538.9,421.6 538.9,419.7 538.9,419.7 538.9,417.8 538.9,417.8 538.9,415.9 540.8,415.9 540.8,414.0 540.8,414.0 540.8,412.1 540.8,412.1 540.8,410.1 542.7,410.1 542.7,408.2 542.7,408.2 542.7,406.3 542.7,406.3 542.7,404.4 544.6,404.4 544.6,402.5 546.5,402.5 546.5,400.6 546.5,400.6 546.5,398.6 548.5,398.6 548.5,396.7 550.4,396.7 550.4,394.8 552.3,394.8 552.3,392.9 554.2,392.9 554.2,391.0 554.2,391.0 554.2,389.1 556.1,389.1 556.1,387.1 558.0,387.1 558.0,385.2 561.9,385.2 561.9,383.3 563.8,383.3 563.8,381.4 565.7,381.4 565.7,379.5 567.6,379.5 567.6,377.6 569.5,377.6 569.5,375.6 571.5,375.6 571.5,373.7 575.3,373.7 575.3,371.8 579.1,371.8 579.1,369.9 581.0,369.9 581.0,368.0 604.0,368.0 604.0,366.1Z"/></clipPath>
<linearGradient id="cb3" x1="0" y1="0" x2="0" y2="1"><stop offset="0.0000" stop-color="#770000"/><stop offset="0.0208" stop-color="#770000"/><stop offset="0.0208" stop-color="#850000"/><stop offset="0.0417" stop-color="#850000"/><stop offset="0.0417" stop-color="#8c0000"/><stop offset="0.0625" stop-color="#8c0000"/><stop offset="0.0625" stop-color="#970404"/><stop offset="0.0833" stop-color="#970404"/><stop offset="0.0833" stop-color="#aa0e0e"/><stop offset="0.1042" stop-color="#aa0e0e"/><stop offset="0.1042" stop-color="#b00808"/><stop offset="0.1250" stop-color="#b00808"/><stop offset="0.1250" stop-color="#bd0f0f"/><stop offset="0.1458" stop-color="#bd0f0f"/><stop offset="0.1458" stop-color="#ca1010"/><stop offset="0.1667" stop-color="#ca1010"/><stop offset="0.1667" stop-color="#db1010"/><stop offset="0.1875" stop-color="#db1010"/><stop offset="0.1875" stop-color="#ed1010"/><stop offset="0.2083" stop-color="#ed1010"/><stop offset="0.2083" stop-color="#fc1010"/><stop offset="0.2292" stop-color="#fc1010"/><stop offset="0.2292" stop-color="#ff1010"/><stop offset="0.2500" stop-color="#ff1010"/><stop offset="0.2500" stop-color="#ff1010"/><stop offset="0.2708" stop-color="#ff1010"/><stop offset="0.2708" stop-color="#ff1010"/><stop offset="0.2917" stop-color="#ff1010"/><stop offset="0.2917" stop-color="#ff1010"/><stop offset="0.3125" stop-color="#ff1010"/><stop offset="0.3125" stop-color="#ff1010"/><stop offset="0.3333" stop-color="#ff1010"/><stop offset="0.3333" stop-color="#ff1010"/><stop offset="0.3542" stop-color="#ff1010"/><stop offset="0.3542" stop-color="#ff2e10"/><stop offset="0.3750" stop-color="#ff2e10"/><stop offset="0.3750" stop-color="#ff5410"/><stop offset="0.3958" stop-color="#ff5410"/><stop offset="0.3958" stop-color="#ff7210"/><stop offset="0.4167" stop-color="#ff7210"/><stop offset="0.4167" stop-color="#ff8c10"/><stop offset="0.4375" stop-color="#ff8c10"/><stop offset="0.4375" stop-color="#ffa610"/><stop offset="0.4583" stop-color="#ffa610"/><stop offset="0.4583" stop-color="#ffc509"/><stop offset="0.4792" stop-color="#ffc509"/><stop offset="0.4792" stop-color="#ffe601"/><stop offset="0.5000" stop-color="#ffe601"/><stop offset="0.5000" stop-color="#faff00"/><stop offset="0.5208" stop-color="#faff00"/><stop offset="0.5208" stop-color="#deff00"/><stop offset="0.5417" stop-color="#deff00"/><stop offset="0.5417" stop-color="#c2ff00"/><stop offset="0.5625" stop-color="#c2ff00"/><stop offset="0.5625" stop-color="#a2ff00"/><stop offset="0.5833" stop-color="#a2ff00"/><stop offset="0.5833" stop-color="#7fff00"/><stop offset="0.6042" stop-color="#7fff00"/><stop offset="0.6042" stop-color="#5aff00"/><stop offset="0.6250" stop-color="#5aff00"/><stop offset="0.6250" stop-color="#36ff00"/><stop offset="0.6458" stop-color="#36ff00"/><stop offset="0.6458" stop-color="#11ff00"/><stop offset="0.6667" stop-color="#11ff00"/><stop offset="0.6667" stop-color="#03ff26"/><stop offset="0.6875" stop-color="#03ff26"/><stop offset="0.6875" stop-color="#00ff77"/><stop offset="0.7083" stop-color="#00ff77"/><stop offset="0.7083" stop-color="#00ffc0"/><stop offset="0.7292" stop-color="#00ffc0"/><stop offset="0.7292" stop-color="#00eaf5"/><stop offset="0.7500" stop-color="#00eaf5"/><stop offset="0.7500" stop-color="#0cc1ff"/><stop offset="0.7708" stop-color="#0cc1ff"/><stop offset="0.7708" stop-color="#1099ff"/><stop offset="0.7917" stop-color="#1099ff"/><stop offset="0.7917" stop-color="#106aff"/><stop offset="0.8125" stop-color="#106aff"/><stop offset="0.8125" stop-color="#062eff"/><stop offset="0.8333" stop-color="#062eff"/><stop offset="0.8333" stop-color="#0e09ff"/><stop offset="0.8542" stop-color="#0e09ff"/><stop offset="0.8542" stop-color="#2800f9"/><stop offset="0.8750" stop-color="#2800f9"/><stop offset="0.8750" stop-color="#4200e8"/><stop offset="0.8958" stop-color="#4200e8"/><stop offset="0.8958" stop-color="#5f00e8"/><stop offset="0.9167" stop-color="#5f00e8"/><stop offset="0.9167" stop-color="#750be1"/><stop offset="0.9375" stop-color="#750be1"/><stop offset="0.9375" stop-color="#8014c6"/><stop offset="0.9583" stop-color="#8014c6"/><stop offset="0.9583" stop-color="#800397"/><stop offset="0.9792" stop-color="#800397"/><stop offset="0.9792" stop-color="#7b0086"/><stop offset="1.0000" stop-color="#7b0086"/></linearGradient></defs>
<rect width="860" height="625" fill="#f7f7f7"/>
<rect x="86.7" y="94.3" width="230" height="230" fill="#fff"/>
<g clip-path="url(#clip0)">
<rect x="86" y="94" width="231" height="231" fill="#7b0086"/>
<path d="M270.4,208.0 269.5,213.6 268.6,219.0 267.3,224.4 265.8,229.7 264.2,235.0 262.2,240.1 259.9,245.1 257.2,250.0 254.2,254.6 250.8,259.0 247.2,263.2 243.2,267.1 238.8,270.5 234.1,273.4 229.2,275.9 224.5,278.8 219.1,280.0 213.6,280.6 208.2,280.8 202.8,280.6 197.6,280.0 192.5,279.0 187.6,277.2 182.9,275.1 178.5,273.0 174.4,270.6 170.5,268.1 166.8,265.3 163.5,262.4 160.5,259.2 157.8,255.8 155.4,252.3 152.9,249.2 150.2,246.4 147.7,243.5 145.4,240.4 143.5,237.0 142.2,233.4 141.1,229.8 140.2,226.1 139.5,222.5 139.1,218.8 138.9,215.2 138.5,211.6 137.9,208.0 137.5,204.3 137.3,200.6 137.0,196.7 137.0,192.8 137.2,188.8 137.8,184.7 138.6,180.7 139.7,176.6 141.1,172.5 142.8,168.4 144.7,164.3 147.0,160.3 149.6,156.3 152.6,152.6 155.9,148.9 159.4,145.3 163.4,142.1 167.7,139.2 172.2,136.8 177.1,134.8 182.1,133.1 187.3,131.0 192.8,129.2 198.4,128.1 204.2,127.5 210.1,127.3 216.1,127.6 222.2,128.3 227.9,130.3 232.6,134.2 237.8,137.2 242.4,141.0 247.6,144.0 252.0,148.1 256.1,152.5 258.0,158.6 262.2,162.9 264.9,168.2 267.5,173.5 271.4,178.4 271.9,184.5 271.9,190.6 271.5,196.5 270.9,202.3Z" fill="#800397"/>
<path d="M261.1,208.0 260.7,212.9 260.3,217.9 259.6,222.8 258.8,227.7 257.6,232.6 255.9,237.3 253.8,241.9 251.4,246.4 248.6,250.6 245.5,254.6 242.1,258.4 238.5,261.9 234.5,265.0 230.2,267.6 225.7,269.9 221.3,272.2 216.4,273.4 211.5,274.1 206.6,274.5 201.7,274.6 197.0,274.3 192.3,273.8 187.7,272.7 183.4,271.2 179.2,269.5 175.2,267.4 171.5,265.1 168.0,262.5 164.8,259.6 161.9,256.6 159.3,253.5 157.0,250.2 154.7,247.3 152.2,244.5 149.9,241.6 147.9,238.6 146.2,235.4 144.8,232.0 143.8,228.6 143.0,225.1 142.4,221.7 141.9,218.2 141.7,214.8 141.4,211.4 140.9,208.0 140.6,204.5 140.4,201.0 140.1,197.4 140.1,193.7 140.3,189.9 140.8,186.1 141.6,182.3 142.7,178.5 144.2,174.7 145.9,171.0 147.8,167.3 150.0,163.6 152.5,160.1 155.3,156.6 158.4,153.3 161.7,150.0 165.3,147.0 169.3,144.3 173.5,141.9 178.0,140.0 182.7,138.4 187.5,136.8 192.5,135.7 197.7,135.2 202.9,135.1 208.1,135.3 213.4,135.9 218.7,136.9 223.8,138.7 228.3,141.7 232.9,144.3 237.2,147.6 241.7,150.5 245.6,154.3 249.1,158.4 251.1,163.6 254.3,167.8 256.6,172.6 258.6,177.4 261.4,182.0 261.9,187.4 262.0,192.7 261.8,197.9 261.4,203.0Z" fill="#8014c6"/>
<path d="M255.7,208.0 255.6,212.6 255.5,217.2 255.2,221.9 254.7,226.5 253.7,231.2 252.3,235.7 250.3,240.1 248.0,244.2 245.3,248.2 242.4,252.0 239.2,255.6 235.8,258.9 232.0,261.8 228.0,264.3 223.7,266.4 219.5,268.4 214.9,269.6 210.3,270.3 205.7,270.8 201.1,271.1 196.6,271.1 192.2,270.8 187.8,270.0 183.6,268.9 179.5,267.5 175.6,265.6 172.0,263.4 168.7,260.8 165.6,258.1 162.8,255.1 160.2,252.1 157.9,249.1 155.6,246.2 153.4,243.4 151.3,240.5 149.3,237.5 147.7,234.4 146.4,231.2 145.4,227.9 144.6,224.5 144.0,221.2 143.6,217.9 143.4,214.6 143.1,211.3 142.7,208.0 142.4,204.7 142.2,201.3 141.9,197.8 141.9,194.2 142.1,190.5 142.6,186.9 143.4,183.2 144.5,179.6 146.0,176.0 147.7,172.5 149.6,169.0 151.8,165.6 154.2,162.2 156.9,159.0 159.9,155.8 163.0,152.7 166.5,149.8 170.3,147.2 174.3,144.9 178.5,143.0 183.0,141.5 187.6,140.2 192.4,139.5 197.2,139.3 202.1,139.5 207.0,140.0 211.8,140.8 216.7,141.8 221.4,143.5 225.7,146.1 230.1,148.5 234.2,151.4 238.3,154.3 241.9,157.9 245.0,161.8 247.0,166.6 249.7,170.7 251.7,175.2 253.5,179.7 255.6,184.1 256.1,189.0 256.3,193.9 256.1,198.7 255.9,203.4Z" fill="#750be1"/>
<path d="M252.9,208.0 252.9,212.4 253.0,216.9 252.9,221.4 252.6,225.9 251.8,230.5 250.4,234.9 248.5,239.1 246.2,243.1 243.7,247.0 240.8,250.6 237.7,254.1 234.4,257.3 230.7,260.1 226.8,262.6 222.7,264.6 218.5,266.4 214.1,267.6 209.6,268.4 205.2,269.0 200.8,269.3 196.5,269.4 192.1,269.2 187.9,268.7 183.7,267.8 179.7,266.5 175.9,264.7 172.3,262.5 169.0,259.9 166.0,257.2 163.2,254.4 160.7,251.4 158.4,248.5 156.2,245.6 154.0,242.8 151.9,239.9 150.1,237.0 148.5,233.9 147.2,230.8 146.2,227.5 145.4,224.2 144.8,221.0 144.4,217.7 144.2,214.4 143.9,211.2 143.6,208.0 143.3,204.7 143.1,201.4 142.8,198.0 142.8,194.5 143.0,190.9 143.5,187.3 144.3,183.7 145.4,180.1 146.9,176.7 148.6,173.3 150.5,169.9 152.7,166.6 155.1,163.3 157.7,160.2 160.6,157.1 163.7,154.1 167.1,151.3 170.7,148.7 174.6,146.4 178.8,144.5 183.2,143.1 187.7,142.0 192.3,141.4 197.0,141.4 201.7,141.8 206.4,142.4 211.0,143.3 215.7,144.4 220.2,146.1 224.4,148.4 228.7,150.6 232.7,153.4 236.6,156.3 240.0,159.8 242.9,163.6 245.0,168.1 247.4,172.1 249.2,176.5 250.9,180.9 252.6,185.2 253.1,189.9 253.3,194.5 253.2,199.1 253.0,203.6Z" fill="#5f00e8"/>
<path d="M250.0,208.0 250.1,212.2 250.4,216.5 250.5,220.9 250.3,225.3 249.7,229.7 248.4,234.0 246.6,238.1 244.4,242.0 241.9,245.7 239.1,249.2 236.2,252.6 232.9,255.7 229.4,258.4 225.6,260.7 221.6,262.7 217.5,264.3 213.2,265.5 209.0,266.3 204.7,267.0 200.5,267.4 196.3,267.6 192.1,267.6 187.9,267.3 183.8,266.5 179.9,265.4 176.1,263.7 172.6,261.5 169.4,259.0 166.4,256.4 163.7,253.6 161.2,250.7 158.9,247.8 156.7,245.0 154.6,242.2 152.7,239.3 150.9,236.4 149.3,233.4 148.1,230.3 147.0,227.1 146.3,223.9 145.7,220.7 145.3,217.5 145.1,214.3 144.8,211.2 144.5,208.0 144.3,204.8 144.0,201.5 143.8,198.2 143.8,194.7 143.9,191.2 144.4,187.7 145.2,184.2 146.4,180.8 147.9,177.4 149.6,174.1 151.5,170.8 153.7,167.6 156.0,164.5 158.6,161.5 161.4,158.5 164.4,155.6 167.7,152.9 171.3,150.3 175.0,148.0 179.1,146.2 183.4,144.8 187.8,143.9 192.3,143.5 196.8,143.7 201.3,144.2 205.7,144.9 210.2,145.9 214.6,147.1 218.9,148.7 223.0,150.8 227.2,152.9 231.0,155.5 234.7,158.3 237.9,161.7 240.7,165.5 242.8,169.7 244.9,173.7 246.6,177.9 248.1,182.1 249.5,186.4 250.0,190.8 250.2,195.2 250.1,199.6 250.0,203.8Z" fill="#4200e8"/>
<path d="M247.0,208.0 247.2,212.0 247.6,216.1 248.0,220.3 248.0,224.6 247.5,228.9 246.4,233.1 244.6,237.0 242.5,240.8 240.1,244.4 237.4,247.8 234.5,251.0 231.4,254.0 228.0,256.6 224.3,258.9 220.4,260.7 216.4,262.2 212.4,263.3 208.3,264.2 204.2,264.9 200.1,265.4 196.1,265.8 192.0,265.9 188.0,265.8 184.0,265.3 180.1,264.2 176.4,262.6 172.9,260.5 169.8,258.1 166.8,255.5 164.2,252.8 161.7,250.0 159.4,247.2 157.3,244.4 155.3,241.6 153.4,238.7 151.7,235.8 150.2,232.9 148.9,229.8 147.9,226.7 147.2,223.6 146.6,220.4 146.3,217.3 146.0,214.2 145.8,211.1 145.5,208.0 145.3,204.9 145.0,201.7 144.8,198.4 144.8,195.0 144.9,191.6 145.4,188.1 146.2,184.7 147.4,181.4 148.9,178.1 150.6,174.9 152.5,171.8 154.7,168.7 157.0,165.7 159.5,162.8 162.2,159.9 165.2,157.1 168.4,154.5 171.8,152.0 175.5,149.7 179.4,147.8 183.5,146.5 187.8,145.8 192.2,145.6 196.5,146.0 200.8,146.6 205.1,147.6 209.3,148.7 213.5,149.9 217.6,151.4 221.6,153.2 225.6,155.2 229.4,157.6 232.8,160.4 235.8,163.7 238.4,167.4 240.5,171.3 242.3,175.3 243.9,179.3 245.2,183.4 246.2,187.5 246.7,191.7 246.9,195.9 246.9,200.0 246.9,204.0Z" fill="#2800f9"/>
<path d="M245.0,208.0 245.3,211.9 245.6,215.8 245.9,219.9 246.0,224.1 245.5,228.2 244.4,232.2 242.7,236.0 240.6,239.6 238.3,243.1 235.7,246.3 232.9,249.4 229.9,252.3 226.6,254.9 223.2,257.2 219.5,259.1 215.7,260.7 211.8,261.9 207.8,262.9 203.9,263.6 199.9,264.0 195.9,264.3 192.0,264.3 188.0,264.3 184.1,263.9 180.3,263.0 176.7,261.4 173.3,259.3 170.3,256.8 167.4,254.3 164.8,251.6 162.4,248.9 160.2,246.2 158.1,243.5 156.1,240.7 154.3,238.0 152.6,235.2 151.2,232.3 149.9,229.3 148.9,226.3 148.2,223.2 147.6,220.1 147.3,217.1 147.0,214.0 146.8,211.0 146.6,208.0 146.3,204.9 146.1,201.8 146.0,198.6 145.9,195.4 146.1,192.0 146.6,188.7 147.4,185.4 148.6,182.1 150.1,179.0 151.8,175.9 153.7,172.9 155.8,170.0 158.1,167.1 160.5,164.3 163.2,161.5 166.0,158.9 169.1,156.3 172.4,153.8 175.9,151.5 179.7,149.6 183.7,148.3 187.9,147.7 192.1,147.6 196.3,147.9 200.5,148.5 204.6,149.4 208.7,150.5 212.7,151.8 216.6,153.4 220.5,155.2 224.3,157.2 227.8,159.6 231.1,162.4 234.0,165.5 236.5,169.0 238.6,172.7 240.5,176.5 242.1,180.3 243.4,184.2 244.3,188.2 244.8,192.3 245.0,196.3 245.0,200.3 245.0,204.2Z" fill="#0e09ff"/>
<path d="M243.4,208.0 243.5,211.7 243.8,215.6 244.0,219.5 244.0,223.5 243.5,227.5 242.4,231.3 240.8,235.0 238.8,238.5 236.5,241.8 234.0,244.9 231.3,247.8 228.4,250.6 225.3,253.2 222.1,255.5 218.6,257.6 215.0,259.3 211.3,260.8 207.5,261.8 203.6,262.5 199.7,262.8 195.8,262.9 191.9,262.8 188.1,262.8 184.3,262.6 180.5,261.8 177.0,260.1 173.8,257.9 170.8,255.5 168.1,252.9 165.6,250.3 163.2,247.7 161.0,245.1 158.9,242.5 157.0,239.9 155.2,237.2 153.6,234.5 152.2,231.6 150.9,228.8 150.0,225.8 149.2,222.8 148.7,219.8 148.3,216.9 148.0,213.9 147.8,211.0 147.6,208.0 147.4,205.0 147.2,202.0 147.1,198.9 147.1,195.7 147.4,192.5 147.9,189.2 148.7,186.0 149.9,182.9 151.3,179.9 153.0,177.0 154.9,174.1 157.0,171.3 159.2,168.6 161.6,165.9 164.2,163.2 166.9,160.6 169.8,158.1 173.0,155.6 176.4,153.3 180.0,151.4 183.9,150.2 188.0,149.6 192.0,149.5 196.1,149.8 200.2,150.3 204.2,151.0 208.2,152.0 212.1,153.4 215.8,155.0 219.5,156.9 223.0,159.1 226.3,161.5 229.4,164.2 232.2,167.2 234.7,170.5 236.9,173.9 238.9,177.5 240.5,181.1 241.9,184.9 242.8,188.8 243.3,192.7 243.5,196.6 243.4,200.5 243.4,204.3Z" fill="#062eff"/>
<path d="M241.7,208.0 241.8,211.6 242.0,215.3 242.1,219.1 242.0,222.9 241.5,226.7 240.4,230.5 238.9,234.0 236.9,237.3 234.7,240.5 232.2,243.4 229.6,246.3 226.9,249.0 224.0,251.5 221.0,253.9 217.8,256.1 214.4,258.0 210.8,259.6 207.1,260.8 203.3,261.4 199.4,261.6 195.6,261.5 191.9,261.3 188.1,261.4 184.4,261.3 180.7,260.5 177.3,258.8 174.2,256.6 171.4,254.1 168.7,251.6 166.3,249.1 164.0,246.6 161.8,244.1 159.8,241.5 157.9,239.0 156.1,236.4 154.5,233.8 153.1,231.0 152.0,228.2 151.0,225.4 150.3,222.5 149.7,219.6 149.3,216.6 149.0,213.8 148.8,210.9 148.6,208.0 148.5,205.1 148.3,202.1 148.3,199.1 148.4,196.1 148.6,192.9 149.2,189.8 150.0,186.7 151.1,183.7 152.6,180.8 154.3,178.0 156.1,175.3 158.2,172.7 160.4,170.1 162.7,167.5 165.1,164.9 167.8,162.4 170.6,159.9 173.6,157.4 176.8,155.1 180.3,153.2 184.1,152.1 188.0,151.6 192.0,151.5 195.9,151.6 199.9,152.0 203.8,152.6 207.7,153.6 211.4,154.9 215.0,156.7 218.5,158.7 221.7,161.0 224.8,163.4 227.7,166.1 230.5,168.9 232.9,172.0 235.2,175.2 237.2,178.5 239.0,182.0 240.4,185.6 241.3,189.3 241.8,193.1 242.0,197.0 241.9,200.7 241.8,204.4Z" fill="#106aff"/>
<path d="M240.1,208.0 240.1,211.5 240.2,215.1 240.2,218.7 240.1,222.4 239.5,226.0 238.5,229.6 237.0,233.0 235.1,236.2 232.9,239.1 230.5,242.0 228.0,244.7 225.4,247.3 222.7,249.8 219.9,252.3 216.9,254.6 213.7,256.7 210.4,258.4 206.8,259.7 203.0,260.3 199.2,260.3 195.5,260.1 191.8,259.8 188.2,259.9 184.5,259.9 181.0,259.3 177.6,257.6 174.6,255.2 171.9,252.8 169.4,250.3 167.0,247.8 164.8,245.4 162.7,243.0 160.7,240.6 158.8,238.1 157.1,235.6 155.5,233.1 154.1,230.4 153.0,227.7 152.1,224.9 151.3,222.1 150.7,219.3 150.3,216.4 150.0,213.6 149.8,210.8 149.7,208.0 149.5,205.2 149.4,202.3 149.4,199.4 149.6,196.4 149.9,193.4 150.4,190.4 151.3,187.4 152.4,184.5 153.8,181.7 155.5,179.1 157.4,176.5 159.4,174.0 161.5,171.5 163.7,169.1 166.1,166.6 168.6,164.2 171.3,161.7 174.2,159.3 177.3,157.0 180.7,155.1 184.3,153.9 188.1,153.5 191.9,153.4 195.7,153.5 199.6,153.7 203.4,154.2 207.2,155.1 210.8,156.5 214.2,158.3 217.4,160.5 220.5,162.8 223.3,165.3 226.1,167.9 228.7,170.6 231.1,173.5 233.5,176.4 235.6,179.5 237.4,182.8 238.9,186.2 239.8,189.9 240.3,193.6 240.4,197.3 240.3,200.9 240.2,204.5Z" fill="#1099ff"/>
<path d="M238.3,208.0 238.3,211.4 238.3,214.8 238.2,218.2 237.9,221.7 237.3,225.2 236.3,228.6 234.9,231.9 233.0,234.9 230.9,237.7 228.7,240.4 226.3,243.0 223.8,245.5 221.2,248.0 218.5,250.3 215.7,252.6 212.8,254.7 209.6,256.5 206.2,257.9 202.6,258.6 199.0,258.8 195.3,258.7 191.8,258.5 188.2,258.4 184.7,258.2 181.3,257.4 178.1,255.7 175.2,253.6 172.5,251.2 170.0,248.9 167.7,246.6 165.5,244.3 163.4,242.0 161.4,239.7 159.5,237.4 157.8,235.0 156.2,232.6 154.8,230.0 153.7,227.3 152.7,224.6 152.0,221.8 151.5,219.0 151.1,216.3 150.8,213.5 150.7,210.8 150.5,208.0 150.4,205.2 150.4,202.4 150.4,199.6 150.5,196.7 150.8,193.7 151.4,190.8 152.2,187.9 153.4,185.1 154.8,182.4 156.5,179.9 158.3,177.4 160.3,175.0 162.4,172.7 164.6,170.3 166.9,168.0 169.4,165.7 172.0,163.3 174.7,161.0 177.7,158.8 181.0,156.9 184.5,155.7 188.2,155.2 191.9,155.0 195.6,155.0 199.3,155.3 203.0,155.9 206.6,156.9 210.0,158.4 213.3,160.2 216.4,162.3 219.3,164.6 222.1,167.0 224.7,169.5 227.3,172.0 229.7,174.7 232.0,177.5 234.2,180.4 236.0,183.5 237.4,186.9 238.4,190.4 238.8,194.0 238.9,197.6 238.7,201.2 238.5,204.6Z" fill="#0cc1ff"/>
<path d="M236.6,208.0 236.4,211.2 236.3,214.5 236.1,217.8 235.7,221.1 235.1,224.4 234.1,227.6 232.7,230.7 230.9,233.6 228.9,236.3 226.8,238.9 224.5,241.3 222.2,243.7 219.7,246.0 217.2,248.3 214.5,250.5 211.7,252.5 208.7,254.3 205.5,255.8 202.2,256.8 198.7,257.3 195.2,257.3 191.7,257.1 188.3,256.8 184.9,256.4 181.6,255.4 178.6,253.7 175.8,251.7 173.2,249.6 170.7,247.5 168.4,245.4 166.2,243.3 164.1,241.1 162.1,239.0 160.2,236.8 158.4,234.5 156.8,232.1 155.4,229.6 154.2,227.0 153.3,224.4 152.6,221.6 152.1,218.9 151.8,216.1 151.6,213.4 151.4,210.7 151.3,208.0 151.3,205.3 151.2,202.5 151.2,199.8 151.3,196.9 151.7,194.0 152.2,191.2 153.1,188.4 154.3,185.7 155.7,183.1 157.4,180.6 159.2,178.3 161.2,176.0 163.2,173.7 165.4,171.5 167.7,169.3 170.0,167.1 172.6,164.9 175.3,162.7 178.2,160.6 181.3,158.8 184.7,157.5 188.2,156.8 191.8,156.5 195.4,156.5 199.0,156.9 202.5,157.7 206.0,158.8 209.3,160.3 212.4,162.1 215.3,164.1 218.1,166.3 220.8,168.5 223.4,170.9 225.9,173.3 228.3,175.8 230.6,178.5 232.8,181.3 234.6,184.3 236.0,187.5 236.9,190.9 237.3,194.4 237.3,197.9 237.1,201.4 236.8,204.7Z" fill="#00eaf5"/>
<path d="M234.8,208.0 234.5,211.1 234.3,214.2 234.0,217.4 233.6,220.5 232.9,223.6 231.8,226.6 230.5,229.5 228.8,232.3 226.9,234.8 224.9,237.3 222.7,239.6 220.5,241.9 218.2,244.1 215.8,246.3 213.3,248.4 210.7,250.3 207.8,252.2 204.9,253.7 201.7,254.9 198.4,255.7 195.0,256.0 191.7,255.8 188.3,255.3 185.1,254.5 182.0,253.3 179.1,251.8 176.4,249.9 173.8,248.0 171.4,246.1 169.1,244.2 166.9,242.2 164.8,240.2 162.8,238.2 160.9,236.1 159.0,234.0 157.4,231.7 155.9,229.3 154.7,226.7 153.8,224.1 153.2,221.4 152.7,218.7 152.5,216.0 152.3,213.3 152.2,210.6 152.1,208.0 152.1,205.3 152.0,202.7 152.0,199.9 152.2,197.2 152.5,194.4 153.1,191.6 154.0,188.8 155.1,186.2 156.6,183.7 158.3,181.4 160.1,179.1 162.1,177.0 164.1,174.8 166.2,172.7 168.4,170.6 170.7,168.5 173.2,166.4 175.8,164.4 178.6,162.4 181.7,160.7 184.9,159.3 188.3,158.4 191.7,157.9 195.3,158.0 198.7,158.5 202.1,159.5 205.4,160.7 208.5,162.3 211.4,164.0 214.3,166.0 217.0,168.0 219.6,170.1 222.1,172.3 224.6,174.6 227.0,177.0 229.3,179.5 231.4,182.1 233.2,185.0 234.6,188.1 235.4,191.5 235.8,194.9 235.7,198.3 235.4,201.6 235.1,204.8Z" fill="#00ffc0"/>
<path d="M233.1,208.0 232.7,211.0 232.4,214.0 232.0,216.9 231.5,219.9 230.7,222.8 229.7,225.7 228.4,228.4 226.8,231.0 225.0,233.4 223.1,235.7 221.0,238.0 218.9,240.1 216.8,242.3 214.5,244.3 212.1,246.3 209.6,248.3 207.0,250.1 204.2,251.7 201.2,253.1 198.1,254.1 194.9,254.6 191.6,254.5 188.4,253.8 185.3,252.8 182.3,251.4 179.6,249.9 176.9,248.2 174.4,246.5 172.1,244.8 169.8,243.0 167.6,241.2 165.5,239.3 163.5,237.5 161.5,235.5 159.7,233.5 158.0,231.3 156.5,228.9 155.3,226.5 154.4,223.9 153.8,221.2 153.4,218.5 153.1,215.8 153.0,213.2 153.0,210.6 153.0,208.0 152.9,205.4 152.9,202.8 152.9,200.1 153.0,197.4 153.4,194.7 153.9,191.9 154.8,189.3 156.0,186.8 157.5,184.4 159.2,182.1 161.0,180.0 162.9,177.9 164.9,175.8 166.9,173.8 169.1,171.8 171.4,169.8 173.8,167.9 176.3,166.0 179.1,164.2 182.0,162.5 185.1,161.0 188.3,160.0 191.7,159.4 195.1,159.5 198.4,160.1 201.7,161.2 204.8,162.6 207.7,164.2 210.5,165.9 213.3,167.7 215.9,169.6 218.4,171.6 220.9,173.7 223.3,175.8 225.7,178.0 228.0,180.4 230.1,183.0 231.9,185.7 233.2,188.8 234.0,192.0 234.3,195.3 234.2,198.6 233.8,201.8 233.4,205.0Z" fill="#00ff77"/>
<path d="M231.9,208.0 231.5,210.9 231.2,213.8 230.7,216.7 230.2,219.5 229.4,222.3 228.4,225.1 227.1,227.7 225.6,230.3 223.9,232.7 222.1,234.9 220.1,237.1 218.1,239.2 216.0,241.3 213.8,243.3 211.5,245.2 209.1,247.1 206.5,248.9 203.8,250.5 200.9,251.8 197.9,252.9 194.8,253.4 191.6,253.4 188.4,252.8 185.4,251.8 182.5,250.6 179.7,249.1 177.1,247.6 174.7,245.9 172.3,244.2 170.1,242.5 167.9,240.7 165.9,238.9 163.9,237.0 162.0,235.1 160.2,233.0 158.6,230.8 157.2,228.5 156.0,226.1 155.2,223.5 154.6,220.9 154.2,218.3 154.0,215.7 153.8,213.1 153.8,210.5 153.7,208.0 153.7,205.5 153.7,202.9 153.7,200.3 153.8,197.6 154.2,195.0 154.7,192.3 155.5,189.7 156.7,187.2 158.1,184.8 159.7,182.5 161.4,180.4 163.3,178.3 165.2,176.3 167.3,174.3 169.4,172.4 171.7,170.5 174.1,168.6 176.6,166.8 179.3,165.0 182.1,163.5 185.2,162.1 188.4,161.2 191.7,160.7 195.0,160.8 198.2,161.4 201.4,162.5 204.4,163.8 207.3,165.3 210.1,166.9 212.7,168.6 215.3,170.4 217.9,172.3 220.3,174.3 222.7,176.4 225.1,178.6 227.3,180.9 229.3,183.4 231.0,186.2 232.2,189.2 232.9,192.4 233.2,195.6 233.0,198.9 232.7,202.0 232.3,205.0Z" fill="#03ff26"/>
<path d="M230.7,208.0 230.3,210.8 229.9,213.6 229.5,216.4 228.9,219.1 228.1,221.9 227.1,224.5 225.9,227.1 224.5,229.5 222.8,231.9 221.1,234.1 219.2,236.2 217.3,238.3 215.2,240.3 213.1,242.2 210.9,244.1 208.5,245.9 206.0,247.6 203.4,249.2 200.6,250.6 197.7,251.6 194.6,252.2 191.5,252.3 188.5,251.8 185.5,250.9 182.6,249.8 179.9,248.4 177.4,246.9 174.9,245.3 172.6,243.7 170.4,242.0 168.2,240.2 166.2,238.4 164.3,236.6 162.4,234.6 160.7,232.6 159.1,230.4 157.8,228.1 156.8,225.7 156.0,223.2 155.4,220.6 155.0,218.0 154.8,215.5 154.6,213.0 154.6,210.5 154.5,208.0 154.5,205.5 154.5,203.0 154.5,200.5 154.6,197.9 155.0,195.2 155.5,192.6 156.3,190.1 157.3,187.6 158.6,185.2 160.2,183.0 161.9,180.8 163.7,178.8 165.6,176.8 167.6,174.9 169.8,173.0 172.0,171.1 174.4,169.3 176.9,167.5 179.5,165.9 182.3,164.4 185.3,163.2 188.4,162.4 191.6,162.0 194.8,162.1 198.0,162.7 201.0,163.7 204.0,165.0 206.8,166.4 209.6,167.9 212.2,169.5 214.8,171.2 217.3,173.1 219.7,175.0 222.1,177.0 224.4,179.1 226.6,181.4 228.5,183.9 230.1,186.7 231.2,189.6 231.9,192.8 232.0,195.9 231.9,199.1 231.5,202.2 231.1,205.1Z" fill="#11ff00"/>
<path d="M229.5,208.0 229.1,210.7 228.7,213.4 228.2,216.1 227.5,218.8 226.8,221.4 225.8,223.9 224.6,226.4 223.3,228.8 221.8,231.1 220.1,233.2 218.3,235.3 216.4,237.3 214.4,239.3 212.4,241.2 210.2,243.0 207.9,244.8 205.5,246.4 203.0,248.0 200.3,249.3 197.5,250.3 194.5,251.0 191.5,251.1 188.5,250.8 185.6,250.0 182.8,248.9 180.1,247.7 177.6,246.2 175.2,244.7 172.9,243.1 170.7,241.5 168.6,239.8 166.6,238.0 164.7,236.2 162.9,234.2 161.2,232.2 159.7,230.0 158.5,227.7 157.5,225.3 156.7,222.8 156.2,220.3 155.8,217.8 155.6,215.3 155.4,212.9 155.3,210.4 155.3,208.0 155.3,205.6 155.2,203.1 155.3,200.6 155.4,198.1 155.8,195.5 156.3,193.0 157.0,190.4 158.0,188.0 159.2,185.6 160.7,183.4 162.3,181.3 164.1,179.2 166.0,177.3 168.0,175.4 170.1,173.5 172.3,171.7 174.6,170.0 177.1,168.3 179.7,166.8 182.5,165.4 185.4,164.3 188.4,163.6 191.6,163.3 194.7,163.4 197.7,164.1 200.7,165.0 203.6,166.1 206.4,167.5 209.1,168.9 211.7,170.4 214.2,172.1 216.7,173.8 219.2,175.6 221.5,177.6 223.8,179.6 225.9,181.9 227.8,184.4 229.2,187.1 230.2,190.1 230.8,193.2 230.9,196.3 230.7,199.3 230.4,202.3 230.0,205.2Z" fill="#36ff00"/>
<path d="M228.4,208.0 227.9,210.7 227.5,213.3 226.9,215.8 226.2,218.4 225.5,220.9 224.5,223.4 223.4,225.8 222.1,228.1 220.7,230.3 219.1,232.4 217.4,234.4 215.6,236.4 213.7,238.3 211.7,240.1 209.6,241.9 207.4,243.6 205.0,245.2 202.6,246.7 200.0,248.0 197.2,249.1 194.4,249.8 191.5,250.0 188.5,249.8 185.7,249.1 182.9,248.1 180.3,246.9 177.8,245.6 175.4,244.1 173.1,242.6 171.0,241.0 168.9,239.3 166.9,237.5 165.0,235.7 163.3,233.8 161.7,231.7 160.3,229.6 159.2,227.3 158.2,224.9 157.5,222.5 157.0,220.0 156.6,217.6 156.4,215.1 156.2,212.7 156.1,210.4 156.1,208.0 156.0,205.6 156.0,203.2 156.1,200.8 156.3,198.3 156.6,195.8 157.0,193.3 157.7,190.8 158.6,188.4 159.8,186.0 161.2,183.8 162.8,181.7 164.5,179.7 166.4,177.8 168.3,175.9 170.4,174.1 172.6,172.3 174.9,170.7 177.4,169.1 179.9,167.7 182.7,166.4 185.5,165.4 188.5,164.8 191.5,164.5 194.5,164.8 197.5,165.4 200.4,166.2 203.2,167.3 205.9,168.6 208.6,169.9 211.2,171.3 213.7,172.9 216.2,174.5 218.6,176.3 220.9,178.1 223.2,180.2 225.2,182.4 227.0,184.9 228.4,187.6 229.3,190.5 229.7,193.5 229.8,196.6 229.6,199.6 229.2,202.5 228.8,205.3Z" fill="#5aff00"/>
<path d="M227.2,208.0 226.7,210.6 226.2,213.1 225.6,215.6 224.9,218.0 224.1,220.4 223.2,222.8 222.2,225.1 220.9,227.3 219.6,229.5 218.1,231.6 216.5,233.6 214.7,235.5 212.9,237.3 211.0,239.1 208.9,240.8 206.8,242.4 204.6,244.0 202.2,245.5 199.7,246.8 197.0,247.8 194.3,248.6 191.4,248.9 188.6,248.7 185.8,248.2 183.1,247.3 180.5,246.2 178.0,244.9 175.7,243.5 173.4,242.0 171.3,240.5 169.2,238.8 167.3,237.1 165.4,235.3 163.7,233.4 162.2,231.3 160.9,229.1 159.8,226.8 159.0,224.5 158.3,222.1 157.8,219.7 157.4,217.3 157.2,215.0 157.0,212.6 156.9,210.3 156.9,208.0 156.8,205.7 156.8,203.3 156.9,201.0 157.1,198.6 157.4,196.1 157.8,193.7 158.4,191.2 159.3,188.8 160.4,186.5 161.7,184.2 163.2,182.1 164.9,180.1 166.8,178.2 168.7,176.4 170.8,174.7 172.9,173.0 175.2,171.4 177.6,169.9 180.2,168.6 182.8,167.4 185.6,166.5 188.5,166.0 191.5,165.8 194.4,166.1 197.3,166.7 200.1,167.5 202.8,168.5 205.5,169.7 208.1,170.9 210.6,172.3 213.1,173.7 215.6,175.2 218.0,176.9 220.3,178.7 222.5,180.7 224.5,182.9 226.2,185.4 227.5,188.1 228.3,191.0 228.6,193.9 228.7,196.9 228.4,199.8 228.1,202.6 227.6,205.4Z" fill="#7fff00"/>
<path d="M226.0,208.0 225.5,210.5 225.0,212.9 224.4,215.3 223.6,217.6 222.8,220.0 221.9,222.2 220.9,224.4 219.8,226.6 218.5,228.7 217.1,230.7 215.6,232.7 213.9,234.5 212.1,236.3 210.3,238.0 208.3,239.7 206.2,241.3 204.1,242.8 201.8,244.2 199.3,245.5 196.8,246.6 194.1,247.3 191.4,247.7 188.6,247.7 185.9,247.3 183.2,246.5 180.7,245.4 178.2,244.2 175.9,242.9 173.7,241.5 171.6,240.0 169.5,238.3 167.6,236.6 165.8,234.8 164.2,232.9 162.7,230.9 161.5,228.7 160.5,226.4 159.7,224.1 159.1,221.8 158.6,219.4 158.2,217.1 158.0,214.8 157.8,212.5 157.7,210.3 157.6,208.0 157.6,205.7 157.6,203.5 157.7,201.1 157.9,198.8 158.2,196.4 158.6,194.0 159.1,191.6 159.9,189.2 160.9,186.9 162.2,184.7 163.7,182.6 165.3,180.6 167.1,178.7 169.0,176.9 171.1,175.2 173.2,173.6 175.5,172.1 177.9,170.7 180.4,169.4 183.0,168.4 185.8,167.6 188.6,167.2 191.4,167.1 194.3,167.4 197.1,168.0 199.8,168.8 202.4,169.7 205.0,170.8 207.6,171.9 210.1,173.2 212.6,174.5 215.0,176.0 217.4,177.6 219.7,179.3 221.9,181.2 223.9,183.4 225.5,185.8 226.6,188.5 227.3,191.4 227.6,194.3 227.5,197.2 227.3,200.1 226.9,202.8 226.5,205.4Z" fill="#a2ff00"/>
<path d="M225.1,208.0 224.6,210.4 224.1,212.8 223.4,215.1 222.7,217.4 221.8,219.6 220.9,221.8 219.9,223.9 218.8,226.0 217.6,228.0 216.2,230.0 214.7,231.9 213.1,233.7 211.4,235.4 209.6,237.1 207.7,238.7 205.7,240.3 203.6,241.8 201.4,243.2 199.1,244.4 196.6,245.5 194.0,246.3 191.4,246.7 188.6,246.7 186.0,246.3 183.4,245.6 180.9,244.7 178.5,243.5 176.1,242.3 173.9,240.9 171.8,239.5 169.8,237.9 168.0,236.2 166.2,234.4 164.6,232.5 163.3,230.4 162.1,228.3 161.1,226.0 160.4,223.8 159.8,221.5 159.3,219.2 158.9,216.9 158.7,214.7 158.5,212.4 158.4,210.2 158.3,208.0 158.3,205.8 158.3,203.5 158.4,201.3 158.6,199.0 158.9,196.7 159.3,194.3 159.9,192.0 160.6,189.6 161.6,187.3 162.8,185.1 164.2,183.1 165.8,181.1 167.5,179.3 169.4,177.5 171.4,175.8 173.5,174.2 175.8,172.8 178.1,171.5 180.6,170.3 183.2,169.3 185.9,168.6 188.6,168.3 191.4,168.3 194.1,168.5 196.9,169.1 199.5,169.8 202.1,170.7 204.7,171.6 207.2,172.7 209.7,173.9 212.1,175.2 214.5,176.6 216.9,178.2 219.1,179.9 221.2,181.8 223.1,183.9 224.6,186.4 225.7,189.0 226.3,191.8 226.6,194.7 226.6,197.5 226.4,200.3 226.0,202.9 225.6,205.5Z" fill="#c2ff00"/>
<path d="M224.4,208.0 223.9,210.4 223.3,212.7 222.6,214.9 221.9,217.1 221.0,219.3 220.1,221.4 219.1,223.5 218.0,225.5 216.8,227.5 215.5,229.4 214.0,231.2 212.5,232.9 210.8,234.6 209.1,236.3 207.2,237.9 205.3,239.4 203.3,240.9 201.1,242.3 198.9,243.5 196.4,244.5 193.9,245.3 191.3,245.7 188.7,245.7 186.1,245.3 183.5,244.7 181.1,243.8 178.7,242.8 176.4,241.7 174.2,240.4 172.1,239.0 170.2,237.4 168.3,235.7 166.6,233.9 165.1,232.0 163.8,230.0 162.6,227.9 161.7,225.7 161.0,223.4 160.4,221.2 159.9,219.0 159.6,216.7 159.3,214.5 159.1,212.3 159.0,210.2 158.9,208.0 158.9,205.8 159.0,203.6 159.1,201.4 159.3,199.2 159.6,196.9 160.0,194.6 160.6,192.3 161.3,190.1 162.2,187.8 163.4,185.7 164.7,183.6 166.3,181.7 168.0,179.8 169.8,178.1 171.8,176.4 173.8,174.9 176.1,173.5 178.4,172.2 180.8,171.1 183.3,170.3 186.0,169.6 188.6,169.3 191.4,169.3 194.0,169.5 196.7,170.0 199.3,170.7 201.9,171.5 204.4,172.4 206.9,173.4 209.3,174.5 211.7,175.8 214.1,177.2 216.4,178.7 218.5,180.4 220.6,182.4 222.4,184.5 223.8,186.9 224.8,189.5 225.5,192.2 225.7,195.0 225.8,197.7 225.6,200.4 225.3,203.0 224.9,205.6Z" fill="#deff00"/>
<path d="M223.7,208.0 223.2,210.3 222.6,212.6 221.9,214.8 221.1,216.9 220.2,219.0 219.3,221.0 218.3,223.0 217.2,225.0 216.0,226.9 214.7,228.7 213.3,230.5 211.8,232.2 210.2,233.8 208.5,235.4 206.7,237.0 204.9,238.5 202.9,240.0 200.8,241.4 198.6,242.6 196.3,243.6 193.8,244.3 191.3,244.6 188.7,244.7 186.2,244.4 183.7,243.8 181.3,243.0 178.9,242.1 176.7,241.0 174.5,239.8 172.4,238.5 170.5,236.9 168.7,235.3 167.0,233.5 165.6,231.6 164.3,229.6 163.2,227.5 162.3,225.3 161.6,223.1 161.0,220.9 160.5,218.7 160.2,216.6 159.9,214.4 159.7,212.3 159.6,210.1 159.5,208.0 159.5,205.9 159.6,203.7 159.7,201.6 160.0,199.4 160.3,197.2 160.7,195.0 161.3,192.7 162.0,190.5 162.9,188.3 164.0,186.2 165.3,184.2 166.8,182.2 168.4,180.4 170.2,178.6 172.1,177.0 174.2,175.5 176.3,174.2 178.6,173.0 181.0,172.0 183.5,171.2 186.1,170.6 188.7,170.3 191.3,170.3 193.9,170.5 196.5,171.0 199.1,171.6 201.6,172.3 204.1,173.1 206.5,174.1 209.0,175.2 211.3,176.4 213.6,177.7 215.9,179.3 217.9,181.0 219.9,182.9 221.6,185.1 223.0,187.4 224.0,189.9 224.6,192.6 224.9,195.3 224.9,198.0 224.8,200.6 224.5,203.1 224.2,205.6Z" fill="#faff00"/>
<path d="M223.0,208.0 222.5,210.3 221.9,212.5 221.1,214.6 220.3,216.7 219.4,218.7 218.5,220.7 217.5,222.6 216.4,224.5 215.2,226.3 213.9,228.1 212.5,229.8 211.1,231.4 209.5,233.0 207.9,234.6 206.2,236.1 204.4,237.6 202.6,239.1 200.5,240.5 198.4,241.7 196.1,242.7 193.7,243.3 191.2,243.6 188.8,243.6 186.3,243.4 183.8,242.9 181.5,242.2 179.2,241.4 176.9,240.4 174.8,239.3 172.7,238.0 170.8,236.5 169.0,234.8 167.5,233.0 166.0,231.1 164.8,229.1 163.8,227.1 162.9,224.9 162.2,222.8 161.6,220.6 161.2,218.5 160.8,216.4 160.5,214.3 160.3,212.2 160.2,210.1 160.2,208.0 160.2,205.9 160.3,203.8 160.4,201.7 160.6,199.6 161.0,197.4 161.4,195.3 162.0,193.1 162.7,190.9 163.5,188.8 164.6,186.7 165.9,184.7 167.3,182.8 168.9,180.9 170.6,179.2 172.5,177.6 174.5,176.2 176.6,174.9 178.9,173.8 181.2,172.8 183.7,172.1 186.2,171.6 188.7,171.3 191.3,171.3 193.8,171.5 196.4,171.9 198.9,172.5 201.3,173.1 203.8,173.9 206.2,174.8 208.6,175.8 210.9,177.0 213.2,178.3 215.3,179.8 217.4,181.6 219.2,183.5 220.8,185.6 222.1,187.9 223.1,190.4 223.7,193.0 224.0,195.6 224.1,198.2 224.0,200.8 223.8,203.3 223.5,205.7Z" fill="#ffe601"/>
<path d="M222.3,208.0 221.8,210.2 221.1,212.4 220.4,214.5 219.5,216.5 218.6,218.4 217.7,220.3 216.6,222.2 215.5,224.0 214.4,225.7 213.1,227.4 211.8,229.0 210.4,230.6 208.9,232.2 207.3,233.7 205.7,235.2 204.0,236.7 202.2,238.2 200.3,239.6 198.2,240.8 195.9,241.7 193.6,242.3 191.2,242.6 188.8,242.6 186.4,242.4 184.0,242.0 181.7,241.4 179.4,240.7 177.2,239.8 175.0,238.7 173.0,237.5 171.1,236.0 169.4,234.4 167.9,232.6 166.5,230.7 165.3,228.7 164.3,226.7 163.5,224.6 162.8,222.5 162.2,220.4 161.8,218.3 161.4,216.2 161.1,214.1 160.9,212.1 160.8,210.0 160.8,208.0 160.8,206.0 160.9,203.9 161.1,201.9 161.3,199.8 161.7,197.7 162.1,195.6 162.7,193.5 163.4,191.4 164.2,189.3 165.2,187.2 166.4,185.2 167.8,183.3 169.3,181.5 171.0,179.8 172.8,178.2 174.8,176.8 176.9,175.6 179.1,174.5 181.4,173.7 183.8,173.1 186.3,172.6 188.8,172.4 191.2,172.4 193.7,172.5 196.2,172.9 198.6,173.3 201.1,173.9 203.5,174.6 205.9,175.4 208.2,176.4 210.5,177.5 212.8,178.9 214.8,180.4 216.8,182.2 218.5,184.1 220.0,186.2 221.3,188.5 222.2,190.9 222.8,193.4 223.2,195.9 223.3,198.5 223.2,200.9 223.1,203.4 222.7,205.7Z" fill="#ffc509"/>
<path d="M221.6,208.0 221.1,210.2 220.4,212.3 219.6,214.3 218.8,216.2 217.8,218.1 216.9,220.0 215.8,221.7 214.7,223.4 213.6,225.1 212.3,226.8 211.1,228.3 209.7,229.9 208.3,231.4 206.8,232.9 205.2,234.4 203.6,235.8 201.8,237.3 200.0,238.7 197.9,239.9 195.8,240.8 193.5,241.3 191.2,241.6 188.8,241.6 186.5,241.4 184.2,241.1 181.9,240.6 179.6,239.9 177.4,239.1 175.3,238.2 173.3,237.0 171.4,235.5 169.8,233.9 168.3,232.1 167.0,230.2 165.8,228.3 164.9,226.2 164.1,224.2 163.4,222.1 162.8,220.1 162.4,218.0 162.0,216.0 161.8,214.0 161.6,212.0 161.4,210.0 161.4,208.0 161.4,206.0 161.5,204.0 161.7,202.0 162.0,200.0 162.4,197.9 162.8,195.9 163.4,193.8 164.0,191.8 164.9,189.7 165.9,187.7 167.0,185.8 168.3,183.9 169.7,182.1 171.4,180.4 173.1,178.8 175.1,177.4 177.2,176.3 179.4,175.3 181.7,174.5 184.0,174.0 186.4,173.6 188.8,173.4 191.2,173.4 193.6,173.5 196.0,173.8 198.4,174.2 200.8,174.7 203.2,175.4 205.5,176.1 207.9,177.0 210.2,178.1 212.3,179.4 214.3,181.0 216.2,182.7 217.8,184.7 219.2,186.8 220.4,189.0 221.3,191.4 221.9,193.8 222.3,196.2 222.5,198.7 222.5,201.1 222.3,203.5 222.0,205.8Z" fill="#ffa610"/>
<path d="M220.9,208.0 220.4,210.1 219.7,212.2 218.9,214.1 218.0,216.0 217.0,217.8 216.0,219.6 215.0,221.3 213.9,222.9 212.8,224.5 211.6,226.1 210.3,227.6 209.0,229.1 207.6,230.6 206.2,232.0 204.7,233.5 203.1,234.9 201.5,236.4 199.7,237.8 197.7,239.0 195.6,239.8 193.4,240.4 191.1,240.6 188.9,240.6 186.6,240.4 184.3,240.2 182.1,239.8 179.9,239.2 177.7,238.5 175.6,237.6 173.6,236.5 171.7,235.1 170.1,233.5 168.7,231.7 167.4,229.8 166.4,227.8 165.4,225.8 164.7,223.8 164.0,221.8 163.5,219.8 163.0,217.8 162.7,215.8 162.4,213.9 162.2,211.9 162.0,210.0 162.0,208.0 162.0,206.0 162.2,204.1 162.4,202.1 162.7,200.2 163.0,198.2 163.5,196.2 164.1,194.2 164.7,192.2 165.5,190.2 166.5,188.3 167.6,186.3 168.8,184.4 170.2,182.6 171.7,180.9 173.5,179.4 175.4,178.1 177.5,177.0 179.6,176.1 181.9,175.4 184.2,174.9 186.5,174.6 188.8,174.4 191.2,174.4 193.5,174.5 195.9,174.8 198.2,175.1 200.5,175.6 202.9,176.1 205.2,176.8 207.5,177.7 209.8,178.7 211.9,180.0 213.8,181.5 215.6,183.3 217.1,185.2 218.5,187.3 219.6,189.5 220.4,191.8 221.0,194.2 221.4,196.6 221.6,198.9 221.7,201.3 221.6,203.6 221.3,205.8Z" fill="#ff8c10"/>
<path d="M220.2,208.0 219.7,210.1 219.0,212.1 218.1,214.0 217.2,215.8 216.2,217.5 215.2,219.2 214.2,220.9 213.1,222.4 212.0,224.0 210.8,225.4 209.6,226.9 208.3,228.3 207.0,229.8 205.6,231.2 204.2,232.6 202.7,234.0 201.1,235.5 199.4,236.9 197.5,238.0 195.4,238.9 193.3,239.4 191.1,239.6 188.9,239.6 186.7,239.5 184.5,239.3 182.3,239.0 180.1,238.5 177.9,237.9 175.8,237.0 173.9,236.0 172.1,234.6 170.5,233.0 169.1,231.2 167.9,229.3 166.9,227.4 166.0,225.4 165.3,223.5 164.6,221.5 164.1,219.5 163.6,217.6 163.3,215.7 163.0,213.7 162.8,211.8 162.7,209.9 162.6,208.0 162.7,206.1 162.8,204.2 163.0,202.3 163.4,200.4 163.7,198.4 164.2,196.5 164.8,194.6 165.4,192.6 166.2,190.7 167.1,188.8 168.1,186.9 169.3,185.0 170.6,183.2 172.1,181.5 173.8,180.0 175.7,178.7 177.7,177.7 179.9,176.8 182.1,176.3 184.3,175.8 186.6,175.6 188.9,175.5 191.1,175.4 193.4,175.5 195.7,175.7 198.0,176.0 200.3,176.4 202.6,176.9 204.9,177.5 207.2,178.3 209.4,179.3 211.4,180.6 213.3,182.1 215.0,183.9 216.4,185.8 217.7,187.9 218.7,190.0 219.6,192.3 220.2,194.6 220.6,196.9 220.8,199.2 220.9,201.4 220.8,203.7 220.6,205.9Z" fill="#ff7210"/>
<path d="M219.5,208.0 219.0,210.0 218.2,212.0 217.4,213.8 216.4,215.6 215.4,217.3 214.4,218.9 213.4,220.4 212.3,221.9 211.2,223.4 210.0,224.8 208.8,226.2 207.6,227.6 206.4,229.0 205.1,230.3 203.7,231.7 202.3,233.1 200.7,234.6 199.1,236.0 197.3,237.1 195.3,238.0 193.2,238.4 191.1,238.5 188.9,238.5 186.8,238.5 184.6,238.4 182.5,238.1 180.3,237.8 178.2,237.2 176.1,236.5 174.1,235.5 172.4,234.1 170.8,232.5 169.5,230.8 168.4,228.9 167.4,227.0 166.6,225.0 165.8,223.1 165.2,221.2 164.7,219.3 164.3,217.4 163.9,215.5 163.6,213.6 163.4,211.7 163.3,209.9 163.2,208.0 163.3,206.1 163.5,204.3 163.7,202.4 164.0,200.6 164.4,198.7 164.9,196.8 165.5,195.0 166.1,193.1 166.9,191.2 167.7,189.3 168.7,187.4 169.8,185.6 171.1,183.8 172.5,182.1 174.2,180.6 176.0,179.3 178.0,178.3 180.1,177.6 182.3,177.1 184.5,176.8 186.7,176.6 188.9,176.5 191.1,176.5 193.3,176.5 195.5,176.7 197.8,176.9 200.0,177.2 202.3,177.6 204.5,178.2 206.8,178.9 209.0,179.9 211.0,181.1 212.8,182.7 214.4,184.4 215.8,186.4 216.9,188.4 217.9,190.6 218.7,192.8 219.3,195.0 219.7,197.2 220.0,199.4 220.1,201.6 220.1,203.8 219.9,205.9Z" fill="#ff5410"/>
<path d="M218.8,208.0 218.2,210.0 217.5,211.9 216.6,213.7 215.6,215.4 214.6,217.0 213.6,218.5 212.5,220.0 211.5,221.4 210.4,222.8 209.2,224.1 208.1,225.5 206.9,226.8 205.7,228.1 204.5,229.5 203.2,230.9 201.8,232.3 200.4,233.7 198.8,235.0 197.0,236.2 195.1,237.0 193.1,237.4 191.0,237.5 189.0,237.5 186.9,237.5 184.8,237.5 182.7,237.3 180.6,237.1 178.4,236.6 176.4,235.9 174.4,235.0 172.7,233.7 171.2,232.1 169.9,230.3 168.8,228.4 167.9,226.5 167.1,224.6 166.4,222.7 165.8,220.9 165.3,219.0 164.9,217.1 164.5,215.3 164.2,213.5 164.0,211.7 163.9,209.8 163.8,208.0 163.9,206.2 164.1,204.4 164.4,202.6 164.7,200.7 165.1,198.9 165.6,197.1 166.2,195.3 166.8,193.5 167.5,191.7 168.3,189.8 169.2,188.0 170.3,186.1 171.5,184.3 172.9,182.6 174.5,181.2 176.3,180.0 178.3,179.0 180.4,178.4 182.5,178.0 184.7,177.7 186.8,177.6 188.9,177.5 191.1,177.5 193.2,177.5 195.4,177.6 197.5,177.8 199.7,178.0 202.0,178.4 204.2,178.9 206.4,179.5 208.6,180.5 210.6,181.7 212.3,183.2 213.8,185.0 215.1,187.0 216.1,189.0 217.0,191.1 217.8,193.2 218.4,195.4 218.9,197.5 219.2,199.6 219.3,201.8 219.3,203.9 219.2,206.0Z" fill="#ff2e10"/>
<path d="M217.6,208.0 217.1,209.9 216.4,211.7 215.5,213.4 214.6,215.1 213.6,216.6 212.6,218.1 211.6,219.5 210.6,220.9 209.6,222.2 208.5,223.5 207.4,224.8 206.3,226.1 205.1,227.4 203.9,228.7 202.7,230.0 201.4,231.3 200.0,232.7 198.4,234.0 196.8,235.1 194.9,235.9 193.0,236.2 191.0,236.4 189.0,236.4 187.0,236.4 185.0,236.4 183.0,236.3 180.9,236.0 178.8,235.6 176.8,235.0 174.9,234.1 173.2,232.9 171.7,231.4 170.5,229.7 169.4,227.9 168.5,226.1 167.7,224.2 167.0,222.4 166.4,220.6 165.8,218.8 165.4,217.0 165.0,215.2 164.8,213.4 164.6,211.6 164.4,209.8 164.4,208.0 164.5,206.2 164.7,204.4 164.9,202.7 165.2,200.9 165.6,199.1 166.1,197.4 166.7,195.6 167.3,193.8 168.0,192.0 168.8,190.2 169.7,188.4 170.8,186.6 172.0,184.9 173.4,183.3 175.0,182.0 176.7,180.8 178.7,180.0 180.7,179.4 182.8,179.0 184.9,178.8 186.9,178.7 189.0,178.7 191.0,178.7 193.1,178.7 195.1,178.8 197.2,179.0 199.3,179.2 201.5,179.6 203.6,180.1 205.7,180.7 207.8,181.6 209.7,182.8 211.3,184.3 212.8,186.0 214.0,187.9 215.0,189.9 215.8,191.9 216.5,193.9 217.1,195.9 217.6,198.0 217.9,200.0 218.1,202.0 218.1,204.1 217.9,206.0Z" fill="#ff1010"/>
<path d="M216.2,208.0 215.7,209.8 215.1,211.5 214.3,213.2 213.5,214.7 212.6,216.2 211.6,217.6 210.7,219.0 209.7,220.3 208.7,221.6 207.7,222.9 206.7,224.1 205.6,225.4 204.5,226.6 203.4,227.9 202.2,229.1 200.9,230.4 199.6,231.7 198.1,232.9 196.5,233.9 194.7,234.7 192.8,235.0 190.9,235.1 189.1,235.2 187.1,235.2 185.2,235.2 183.2,235.1 181.3,234.9 179.3,234.6 177.3,234.0 175.5,233.1 173.8,232.0 172.3,230.6 171.1,229.0 170.0,227.3 169.0,225.6 168.2,223.9 167.5,222.1 166.8,220.3 166.3,218.5 165.9,216.8 165.6,215.0 165.3,213.3 165.1,211.5 165.0,209.7 165.0,208.0 165.0,206.3 165.2,204.5 165.4,202.8 165.7,201.0 166.1,199.3 166.6,197.6 167.1,195.8 167.7,194.1 168.4,192.3 169.2,190.5 170.1,188.8 171.2,187.2 172.5,185.6 173.9,184.1 175.5,182.8 177.2,181.8 179.1,181.0 181.1,180.5 183.1,180.1 185.1,180.0 187.0,179.9 189.0,179.9 191.0,179.9 192.9,180.0 194.9,180.1 196.9,180.3 198.9,180.6 200.9,180.9 203.0,181.4 205.0,182.1 206.9,183.0 208.7,184.1 210.2,185.5 211.6,187.2 212.7,189.0 213.7,190.8 214.5,192.7 215.1,194.6 215.7,196.6 216.1,198.5 216.4,200.4 216.6,202.3 216.7,204.3 216.5,206.1Z" fill="#ff1010"/>
<path d="M214.9,208.0 214.4,209.7 213.8,211.3 213.1,212.9 212.3,214.4 211.5,215.8 210.7,217.2 209.8,218.5 208.9,219.8 207.9,221.0 207.0,222.3 206.0,223.5 205.0,224.7 203.9,225.9 202.8,227.0 201.7,228.2 200.5,229.4 199.1,230.6 197.7,231.8 196.2,232.8 194.5,233.4 192.7,233.8 190.9,233.9 189.1,234.0 187.3,234.0 185.4,234.1 183.5,234.0 181.6,233.8 179.7,233.5 177.8,232.9 176.0,232.2 174.4,231.1 172.9,229.8 171.7,228.4 170.5,226.8 169.6,225.2 168.7,223.5 168.0,221.8 167.3,220.0 166.8,218.3 166.4,216.6 166.1,214.9 165.8,213.1 165.6,211.4 165.5,209.7 165.5,208.0 165.6,206.3 165.7,204.6 165.9,202.9 166.2,201.2 166.6,199.5 167.0,197.8 167.5,196.0 168.1,194.3 168.8,192.6 169.6,190.9 170.6,189.2 171.7,187.7 172.9,186.2 174.4,184.8 175.9,183.6 177.7,182.7 179.5,182.0 181.4,181.5 183.3,181.2 185.3,181.1 187.2,181.1 189.1,181.1 190.9,181.2 192.8,181.3 194.7,181.4 196.6,181.6 198.5,181.9 200.4,182.3 202.3,182.8 204.2,183.5 206.0,184.3 207.6,185.4 209.1,186.8 210.4,188.3 211.4,190.0 212.3,191.8 213.1,193.6 213.8,195.4 214.3,197.2 214.7,199.0 215.0,200.8 215.2,202.6 215.2,204.5 215.1,206.2Z" fill="#ff1010"/>
<path d="M213.5,208.0 213.1,209.6 212.5,211.2 211.9,212.7 211.2,214.1 210.4,215.4 209.7,216.8 208.8,218.0 208.0,219.3 207.1,220.5 206.3,221.6 205.3,222.8 204.4,224.0 203.4,225.1 202.3,226.2 201.2,227.4 200.0,228.5 198.7,229.6 197.4,230.7 195.9,231.6 194.3,232.2 192.6,232.6 190.9,232.7 189.1,232.8 187.4,232.9 185.6,232.9 183.8,232.8 182.0,232.7 180.1,232.4 178.3,231.9 176.6,231.2 175.0,230.2 173.6,229.0 172.3,227.7 171.1,226.2 170.1,224.7 169.2,223.1 168.5,221.5 167.8,219.8 167.3,218.1 166.9,216.4 166.6,214.7 166.3,213.0 166.2,211.4 166.1,209.7 166.0,208.0 166.1,206.3 166.2,204.7 166.4,203.0 166.7,201.3 167.0,199.6 167.4,198.0 167.9,196.3 168.5,194.6 169.2,192.9 170.0,191.2 171.0,189.7 172.2,188.2 173.4,186.8 174.9,185.5 176.4,184.5 178.1,183.6 179.9,183.0 181.8,182.6 183.6,182.4 185.5,182.3 187.3,182.3 189.1,182.3 190.9,182.4 192.7,182.6 194.5,182.7 196.2,183.0 198.0,183.3 199.8,183.7 201.6,184.2 203.4,184.8 205.1,185.7 206.6,186.7 208.0,188.0 209.2,189.5 210.2,191.1 211.0,192.7 211.8,194.4 212.4,196.1 212.9,197.8 213.3,199.5 213.6,201.2 213.7,203.0 213.8,204.7 213.7,206.3Z" fill="#ff1010"/>
<path d="M212.1,208.0 211.8,209.5 211.3,211.0 210.7,212.4 210.1,213.8 209.4,215.1 208.7,216.3 207.9,217.5 207.1,218.7 206.3,219.9 205.5,221.0 204.6,222.1 203.7,223.2 202.8,224.3 201.7,225.4 200.7,226.5 199.5,227.5 198.3,228.6 197.0,229.6 195.6,230.4 194.1,231.0 192.5,231.4 190.8,231.5 189.2,231.6 187.5,231.7 185.8,231.7 184.1,231.7 182.3,231.6 180.6,231.3 178.8,230.9 177.2,230.2 175.6,229.3 174.2,228.3 172.9,227.0 171.7,225.7 170.7,224.2 169.7,222.7 169.0,221.1 168.3,219.5 167.8,217.9 167.4,216.2 167.1,214.6 166.9,212.9 166.7,211.3 166.6,209.6 166.6,208.0 166.6,206.4 166.8,204.7 166.9,203.1 167.2,201.5 167.5,199.8 167.9,198.2 168.3,196.5 168.9,194.8 169.6,193.2 170.4,191.6 171.5,190.1 172.6,188.7 173.9,187.4 175.4,186.3 176.9,185.3 178.6,184.6 180.3,184.0 182.1,183.7 183.9,183.5 185.7,183.4 187.4,183.4 189.1,183.5 190.8,183.7 192.5,183.8 194.2,184.0 195.9,184.3 197.6,184.6 199.3,185.0 201.0,185.5 202.6,186.2 204.2,187.0 205.6,188.0 206.9,189.2 208.0,190.6 208.9,192.1 209.7,193.7 210.4,195.2 211.0,196.8 211.5,198.4 211.8,200.0 212.1,201.7 212.3,203.3 212.4,204.9 212.3,206.4Z" fill="#ff1010"/>
<path d="M210.7,208.0 210.4,209.4 210.0,210.8 209.5,212.1 208.9,213.4 208.3,214.7 207.7,215.9 207.0,217.0 206.3,218.2 205.5,219.3 204.8,220.4 203.9,221.5 203.1,222.5 202.2,223.6 201.2,224.6 200.2,225.6 199.1,226.6 197.9,227.6 196.6,228.5 195.3,229.2 193.8,229.8 192.3,230.1 190.8,230.3 189.2,230.4 187.6,230.5 186.0,230.6 184.4,230.6 182.7,230.4 181.0,230.2 179.4,229.8 177.7,229.2 176.2,228.5 174.8,227.5 173.5,226.3 172.3,225.1 171.2,223.8 170.3,222.3 169.5,220.8 168.8,219.3 168.3,217.7 167.9,216.0 167.6,214.4 167.4,212.8 167.2,211.2 167.1,209.6 167.1,208.0 167.2,206.4 167.3,204.8 167.4,203.2 167.7,201.6 168.0,200.0 168.3,198.3 168.8,196.7 169.3,195.1 170.0,193.5 170.9,191.9 171.9,190.5 173.1,189.2 174.4,188.0 175.8,187.0 177.4,186.2 179.0,185.5 180.7,185.1 182.4,184.8 184.2,184.6 185.9,184.6 187.5,184.6 189.2,184.8 190.8,184.9 192.4,185.1 194.0,185.3 195.6,185.6 197.2,186.0 198.7,186.4 200.3,186.9 201.8,187.5 203.3,188.3 204.6,189.3 205.8,190.5 206.8,191.8 207.7,193.2 208.4,194.6 209.1,196.1 209.6,197.6 210.1,199.1 210.4,200.6 210.7,202.1 210.9,203.6 210.9,205.1 210.9,206.5Z" fill="#ff1010"/>
<path d="M209.4,208.0 209.1,209.3 208.7,210.6 208.3,211.9 207.8,213.1 207.3,214.3 206.7,215.4 206.1,216.5 205.4,217.6 204.7,218.7 204.0,219.8 203.3,220.8 202.4,221.8 201.6,222.8 200.7,223.8 199.7,224.7 198.6,225.6 197.5,226.5 196.3,227.4 195.0,228.1 193.6,228.6 192.2,228.9 190.7,229.1 189.3,229.3 187.8,229.4 186.2,229.4 184.7,229.4 183.1,229.3 181.5,229.1 179.9,228.8 178.3,228.3 176.8,227.6 175.4,226.7 174.1,225.7 172.9,224.5 171.8,223.3 170.8,222.0 170.0,220.5 169.3,219.0 168.8,217.4 168.4,215.9 168.1,214.3 167.9,212.7 167.8,211.1 167.7,209.6 167.7,208.0 167.7,206.4 167.8,204.9 168.0,203.3 168.2,201.7 168.4,200.1 168.8,198.5 169.2,196.9 169.7,195.3 170.4,193.8 171.3,192.3 172.3,190.9 173.5,189.7 174.9,188.7 176.3,187.8 177.9,187.0 179.5,186.5 181.1,186.1 182.8,185.8 184.4,185.7 186.1,185.7 187.7,185.8 189.2,186.0 190.8,186.2 192.3,186.4 193.8,186.6 195.3,186.9 196.7,187.3 198.2,187.7 199.6,188.3 201.0,188.9 202.4,189.7 203.6,190.6 204.7,191.7 205.6,192.9 206.4,194.2 207.1,195.6 207.7,196.9 208.2,198.3 208.6,199.7 209.0,201.1 209.2,202.5 209.4,203.9 209.5,205.3 209.5,206.6Z" fill="#fc1010"/>
<path d="M208.0,208.0 207.8,209.2 207.5,210.5 207.1,211.6 206.7,212.8 206.2,213.9 205.7,215.0 205.1,216.0 204.5,217.1 203.9,218.1 203.3,219.1 202.6,220.1 201.8,221.1 201.0,222.1 200.1,223.0 199.2,223.9 198.1,224.7 197.1,225.5 195.9,226.2 194.7,226.9 193.4,227.4 192.1,227.7 190.7,227.9 189.3,228.1 187.9,228.2 186.4,228.3 184.9,228.3 183.4,228.2 181.9,228.0 180.4,227.7 178.9,227.3 177.4,226.7 176.0,225.9 174.7,225.0 173.4,224.0 172.3,222.8 171.3,221.6 170.5,220.2 169.8,218.7 169.3,217.2 168.9,215.7 168.6,214.1 168.4,212.6 168.3,211.0 168.2,209.5 168.2,208.0 168.2,206.5 168.3,205.0 168.5,203.4 168.7,201.9 168.9,200.3 169.2,198.7 169.6,197.2 170.1,195.6 170.8,194.1 171.7,192.6 172.8,191.3 174.0,190.2 175.4,189.3 176.8,188.5 178.4,187.9 179.9,187.4 181.5,187.1 183.1,186.9 184.7,186.8 186.3,186.9 187.8,187.0 189.3,187.2 190.7,187.4 192.1,187.6 193.5,187.9 194.9,188.3 196.3,188.6 197.6,189.1 199.0,189.6 200.2,190.3 201.5,191.0 202.6,191.9 203.6,192.9 204.4,194.1 205.2,195.3 205.8,196.5 206.4,197.8 206.8,199.1 207.2,200.3 207.6,201.6 207.8,202.9 208.0,204.2 208.1,205.5 208.1,206.7Z" fill="#ed1010"/>
<path d="M206.6,208.0 206.4,209.1 206.2,210.3 205.9,211.4 205.5,212.5 205.1,213.5 204.7,214.5 204.2,215.6 203.7,216.6 203.1,217.5 202.5,218.5 201.9,219.5 201.2,220.4 200.4,221.3 199.6,222.2 198.7,223.0 197.7,223.8 196.7,224.5 195.6,225.1 194.4,225.7 193.2,226.2 191.9,226.5 190.7,226.7 189.3,226.9 188.0,227.0 186.6,227.1 185.2,227.1 183.8,227.1 182.3,227.0 180.9,226.7 179.4,226.3 178.0,225.8 176.6,225.1 175.3,224.3 174.0,223.4 172.9,222.4 171.8,221.2 171.0,219.9 170.3,218.5 169.8,217.0 169.4,215.5 169.1,214.0 169.0,212.5 168.8,211.0 168.8,209.5 168.8,208.0 168.8,206.5 168.9,205.0 169.0,203.5 169.1,202.0 169.4,200.5 169.7,198.9 170.0,197.4 170.5,195.8 171.2,194.4 172.1,193.0 173.2,191.8 174.5,190.7 175.9,189.9 177.3,189.2 178.9,188.7 180.4,188.3 182.0,188.1 183.5,188.0 185.0,188.0 186.5,188.1 187.9,188.2 189.3,188.4 190.7,188.6 192.0,188.9 193.3,189.2 194.6,189.6 195.9,190.0 197.1,190.5 198.3,191.0 199.5,191.6 200.5,192.4 201.6,193.2 202.4,194.2 203.2,195.2 203.9,196.3 204.5,197.5 205.0,198.6 205.4,199.8 205.8,201.0 206.1,202.1 206.4,203.3 206.5,204.5 206.6,205.7 206.7,206.8Z" fill="#db1010"/>
<path d="M205.2,208.0 205.1,209.1 204.9,210.1 204.7,211.1 204.4,212.1 204.1,213.1 203.7,214.1 203.3,215.1 202.8,216.0 202.3,217.0 201.8,217.9 201.2,218.8 200.5,219.7 199.8,220.5 199.0,221.4 198.1,222.1 197.2,222.8 196.2,223.5 195.2,224.0 194.1,224.5 193.0,225.0 191.8,225.3 190.6,225.5 189.4,225.7 188.1,225.8 186.8,225.9 185.5,226.0 184.2,226.0 182.8,225.9 181.4,225.7 180.0,225.4 178.6,224.9 177.2,224.4 175.9,223.7 174.6,222.9 173.4,221.9 172.4,220.8 171.5,219.6 170.8,218.2 170.3,216.8 169.9,215.3 169.7,213.8 169.5,212.4 169.4,210.9 169.3,209.4 169.3,208.0 169.3,206.6 169.4,205.1 169.5,203.6 169.6,202.2 169.8,200.7 170.1,199.1 170.5,197.6 171.0,196.1 171.6,194.6 172.5,193.3 173.6,192.2 174.9,191.3 176.3,190.5 177.8,190.0 179.3,189.5 180.9,189.3 182.4,189.1 183.8,189.1 185.3,189.1 186.7,189.2 188.0,189.4 189.4,189.6 190.6,189.9 191.9,190.2 193.1,190.5 194.3,190.9 195.4,191.3 196.5,191.8 197.6,192.4 198.7,193.0 199.6,193.7 200.5,194.5 201.3,195.4 202.0,196.4 202.7,197.4 203.2,198.4 203.7,199.5 204.1,200.5 204.4,201.6 204.7,202.7 204.9,203.7 205.1,204.8 205.2,205.9 205.3,206.9Z" fill="#ca1010"/>
<path d="M203.8,208.0 203.8,209.0 203.7,209.9 203.5,210.9 203.3,211.8 203.0,212.7 202.7,213.7 202.3,214.6 202.0,215.5 201.5,216.4 201.0,217.3 200.5,218.1 199.9,219.0 199.2,219.8 198.5,220.5 197.6,221.2 196.8,221.9 195.8,222.4 194.9,222.9 193.8,223.4 192.8,223.7 191.7,224.0 190.6,224.3 189.4,224.5 188.2,224.7 187.0,224.8 185.8,224.9 184.5,224.9 183.2,224.8 181.9,224.6 180.5,224.4 179.2,224.0 177.8,223.6 176.5,223.0 175.2,222.3 174.0,221.5 172.9,220.4 172.0,219.3 171.3,218.0 170.8,216.6 170.4,215.1 170.2,213.7 170.0,212.2 169.9,210.8 169.9,209.4 169.8,208.0 169.9,206.6 169.9,205.2 170.0,203.7 170.1,202.3 170.3,200.8 170.5,199.3 170.9,197.8 171.4,196.4 172.0,194.9 172.9,193.7 174.1,192.6 175.4,191.8 176.8,191.1 178.3,190.7 179.8,190.4 181.3,190.2 182.8,190.1 184.2,190.1 185.6,190.2 186.9,190.4 188.2,190.6 189.4,190.8 190.6,191.1 191.7,191.5 192.9,191.8 193.9,192.2 195.0,192.7 196.0,193.2 197.0,193.7 197.9,194.4 198.7,195.0 199.5,195.8 200.2,196.6 200.8,197.5 201.4,198.4 201.9,199.4 202.3,200.3 202.7,201.3 203.0,202.2 203.3,203.2 203.5,204.1 203.7,205.1 203.8,206.1 203.8,207.0Z" fill="#bd0f0f"/>
<path d="M202.3,208.0 202.3,208.9 202.2,209.7 202.1,210.6 202.0,211.4 201.8,212.3 201.5,213.1 201.2,214.0 200.9,214.8 200.5,215.6 200.1,216.5 199.6,217.3 199.1,218.1 198.5,218.8 197.8,219.5 197.0,220.1 196.2,220.7 195.3,221.2 194.4,221.6 193.5,222.0 192.5,222.3 191.5,222.6 190.5,222.8 189.5,223.0 188.4,223.2 187.3,223.3 186.2,223.4 185.0,223.4 183.8,223.4 182.5,223.3 181.3,223.1 180.0,222.8 178.7,222.5 177.4,222.0 176.1,221.4 174.9,220.6 173.9,219.7 173.0,218.6 172.3,217.4 171.8,216.1 171.5,214.7 171.3,213.4 171.1,212.0 171.0,210.7 171.0,209.3 171.0,208.0 171.0,206.7 171.0,205.3 171.1,204.0 171.2,202.6 171.3,201.2 171.6,199.8 171.9,198.4 172.3,197.0 173.0,195.6 173.8,194.4 174.9,193.5 176.2,192.7 177.7,192.2 179.1,191.8 180.5,191.6 182.0,191.5 183.3,191.5 184.7,191.5 185.9,191.7 187.2,191.8 188.3,192.1 189.5,192.3 190.5,192.6 191.6,193.0 192.6,193.4 193.5,193.8 194.5,194.2 195.4,194.7 196.2,195.2 197.0,195.8 197.8,196.5 198.4,197.2 199.0,198.0 199.6,198.7 200.1,199.6 200.5,200.4 200.9,201.2 201.2,202.0 201.5,202.9 201.7,203.7 202.0,204.6 202.1,205.4 202.2,206.3 202.3,207.1Z" fill="#b00808"/>
<path d="M200.2,208.0 200.2,208.7 200.2,209.4 200.1,210.1 199.9,210.8 199.7,211.5 199.5,212.3 199.3,212.9 199.0,213.6 198.7,214.3 198.4,215.0 198.0,215.7 197.5,216.3 197.0,217.0 196.4,217.5 195.8,218.1 195.1,218.5 194.4,218.9 193.7,219.3 192.9,219.6 192.1,219.8 191.3,220.1 190.4,220.3 189.6,220.5 188.7,220.6 187.8,220.7 186.8,220.8 185.8,220.8 184.8,220.8 183.8,220.7 182.8,220.5 181.7,220.3 180.6,220.0 179.6,219.6 178.5,219.1 177.5,218.5 176.6,217.7 175.9,216.8 175.3,215.8 174.9,214.7 174.6,213.6 174.5,212.5 174.3,211.3 174.3,210.2 174.2,209.1 174.2,208.0 174.2,206.9 174.3,205.8 174.3,204.7 174.4,203.5 174.5,202.4 174.7,201.2 175.0,200.0 175.3,198.8 175.9,197.7 176.6,196.8 177.5,195.9 178.6,195.3 179.8,194.9 181.0,194.6 182.2,194.4 183.3,194.3 184.5,194.3 185.6,194.4 186.6,194.5 187.6,194.6 188.6,194.8 189.5,195.0 190.4,195.3 191.3,195.5 192.1,195.9 192.9,196.2 193.7,196.6 194.5,197.0 195.2,197.4 195.8,197.9 196.4,198.5 197.0,199.0 197.5,199.7 197.9,200.3 198.3,201.0 198.7,201.7 199.0,202.4 199.3,203.1 199.5,203.8 199.7,204.5 199.9,205.2 200.1,205.9 200.2,206.6 200.2,207.3Z" fill="#aa0e0e"/>
<path d="M197.6,208.0 197.5,208.5 197.5,209.1 197.4,209.6 197.3,210.1 197.2,210.6 197.1,211.1 196.9,211.7 196.7,212.2 196.4,212.7 196.2,213.2 195.9,213.7 195.6,214.2 195.2,214.6 194.8,215.0 194.3,215.4 193.8,215.8 193.3,216.1 192.7,216.3 192.1,216.5 191.5,216.8 190.9,216.9 190.3,217.1 189.7,217.2 189.0,217.3 188.3,217.4 187.6,217.4 186.9,217.5 186.2,217.4 185.4,217.4 184.7,217.2 183.9,217.1 183.1,216.9 182.3,216.6 181.5,216.2 180.8,215.7 180.1,215.2 179.6,214.5 179.2,213.8 178.9,213.0 178.7,212.1 178.5,211.3 178.4,210.5 178.4,209.6 178.4,208.8 178.3,208.0 178.3,207.2 178.4,206.4 178.4,205.5 178.5,204.7 178.6,203.8 178.7,203.0 178.9,202.1 179.2,201.2 179.6,200.4 180.1,199.7 180.8,199.1 181.6,198.6 182.4,198.3 183.3,198.1 184.2,198.0 185.1,197.9 185.9,197.9 186.7,197.9 187.5,198.0 188.3,198.1 189.0,198.2 189.7,198.4 190.3,198.6 191.0,198.8 191.6,199.0 192.2,199.3 192.7,199.6 193.3,199.9 193.8,200.2 194.3,200.6 194.8,201.0 195.2,201.4 195.5,201.8 195.9,202.3 196.2,202.8 196.4,203.3 196.7,203.8 196.9,204.4 197.0,204.9 197.2,205.4 197.3,205.9 197.4,206.4 197.5,206.9 197.5,207.5Z" fill="#970404"/>
<path d="M193.1,208.0 193.1,208.2 193.1,208.4 193.0,208.6 193.0,208.9 192.9,209.1 192.9,209.3 192.8,209.5 192.7,209.7 192.6,209.9 192.5,210.1 192.4,210.3 192.3,210.5 192.1,210.7 191.9,210.9 191.8,211.0 191.5,211.2 191.3,211.3 191.1,211.4 190.9,211.5 190.6,211.6 190.4,211.6 190.1,211.7 189.9,211.8 189.6,211.8 189.3,211.8 189.0,211.9 188.7,211.9 188.4,211.8 188.1,211.8 187.8,211.8 187.5,211.7 187.2,211.6 186.9,211.5 186.5,211.3 186.2,211.2 186.0,210.9 185.7,210.7 185.6,210.4 185.5,210.0 185.4,209.7 185.3,209.3 185.3,209.0 185.3,208.7 185.2,208.3 185.2,208.0 185.2,207.7 185.3,207.3 185.3,207.0 185.3,206.7 185.3,206.3 185.4,205.9 185.5,205.6 185.6,205.2 185.7,204.9 186.0,204.6 186.2,204.4 186.6,204.2 186.9,204.1 187.3,204.0 187.6,203.9 188.0,203.9 188.3,203.9 188.7,203.9 189.0,203.9 189.3,204.0 189.6,204.0 189.9,204.1 190.1,204.2 190.4,204.2 190.6,204.3 190.9,204.4 191.1,204.6 191.3,204.7 191.6,204.8 191.8,205.0 191.9,205.1 192.1,205.3 192.3,205.5 192.4,205.7 192.5,205.9 192.6,206.1 192.7,206.3 192.8,206.5 192.9,206.7 192.9,206.9 193.0,207.1 193.0,207.4 193.1,207.6 193.1,207.8Z" fill="#8c0000"/>
</g>
<rect x="86.7" y="94.3" width="230" height="230" fill="none" stroke="#111" stroke-width="1.4"/>
<path d="M105.9,94.3v3.2M105.9,324.3v-3.2M86.7,113.5h3.2M316.7,113.5h-3.2M125.0,94.3v6.0M125.0,324.3v-6.0M86.7,132.6h6.0M316.7,132.6h-6.0M144.2,94.3v3.2M144.2,324.3v-3.2M86.7,151.8h3.2M316.7,151.8h-3.2M163.4,94.3v6.0M163.4,324.3v-6.0M86.7,171.0h6.0M316.7,171.0h-6.0M182.5,94.3v3.2M182.5,324.3v-3.2M86.7,190.1h3.2M316.7,190.1h-3.2M201.7,94.3v6.0M201.7,324.3v-6.0M86.7,209.3h6.0M316.7,209.3h-6.0M220.9,94.3v3.2M220.9,324.3v-3.2M86.7,228.5h3.2M316.7,228.5h-3.2M240.0,94.3v6.0M240.0,324.3v-6.0M86.7,247.6h6.0M316.7,247.6h-6.0M259.2,94.3v3.2M259.2,324.3v-3.2M86.7,266.8h3.2M316.7,266.8h-3.2M278.4,94.3v6.0M278.4,324.3v-6.0M86.7,286.0h6.0M316.7,286.0h-6.0M297.5,94.3v3.2M297.5,324.3v-3.2M86.7,305.1h3.2M316.7,305.1h-3.2" stroke="#111" stroke-width="1.3" fill="none"/>
<text x="79.2" y="99.9" text-anchor="end" font-size="18.0">0</text>
<text x="86.7" y="82.0" text-anchor="middle" font-size="18.0">0</text>
<text x="79.2" y="138.2" text-anchor="end" font-size="18.0">20</text>
<text x="125.0" y="82.0" text-anchor="middle" font-size="18.0">20</text>
<text x="79.2" y="176.6" text-anchor="end" font-size="18.0">40</text>
<text x="163.4" y="82.0" text-anchor="middle" font-size="18.0">40</text>
<text x="79.2" y="214.9" text-anchor="end" font-size="18.0">60</text>
<text x="201.7" y="82.0" text-anchor="middle" font-size="18.0">60</text>
<text x="79.2" y="253.2" text-anchor="end" font-size="18.0">80</text>
<text x="240.0" y="82.0" text-anchor="middle" font-size="18.0">80</text>
<text x="79.2" y="291.6" text-anchor="end" font-size="18.0">100</text>
<text x="278.4" y="82.0" text-anchor="middle" font-size="18.0">100</text>
<text x="79.2" y="329.9" text-anchor="end" font-size="18.0">120</text>
<text x="316.7" y="82.0" text-anchor="middle" font-size="18.0">120</text>
<text x="31.8" y="57.0" font-size="18.0">(a)</text>
<text transform="translate(46.0,207.5) rotate(-90)" text-anchor="middle" font-size="18.0">Position (<tspan font-family="Liberation Serif">μ</tspan>m)</text>
<text x="201.7" y="54.7" text-anchor="middle" font-size="18.0">Position (<tspan font-family="Liberation Serif">μ</tspan>m)</text>
<text x="95.0" y="119.8" font-size="18.0">950 - 1100 nm</text>
<text x="346.6" y="87.8" font-size="18.0">Photon</text>
<text x="346.6" y="110.0" font-size="18.0">Flux</text>
<rect x="331.9" y="123.0" width="16.5" height="193.4" fill="url(#cb0)"/>
<text x="354.5" y="130.6" font-size="18.0">6.30</text>
<text x="354.5" y="162.9" font-size="18.0">5.30</text>
<text x="354.5" y="195.3" font-size="18.0">4.30</text>
<text x="354.5" y="227.6" font-size="18.0">3.30</text>
<text x="354.5" y="259.9" font-size="18.0">2.30</text>
<text x="354.5" y="292.2" font-size="18.0">1.30</text>
<text x="354.5" y="324.6" font-size="18.0">0.30</text>
<text transform="translate(401.5,140.0) rotate(90)" font-size="18.0">(10<tspan font-size="11" dy="-7">17</tspan><tspan dy="7"> photons/s/cm</tspan><tspan font-size="11" dy="-7">2</tspan><tspan dy="7">)</tspan></text>
<text x="94.5" y="307.1" font-size="18.0">InAs/Al<tspan font-size="11" dy="6.5">0.2</tspan><tspan dy="-6.5">Ga</tspan><tspan font-size="11" dy="6.5">0.8</tspan><tspan dy="-6.5">As QDSC</tspan></text>
<rect x="496.7" y="94.3" width="230" height="230" fill="#fff"/>
<g clip-path="url(#clip1)">
<rect x="496" y="94" width="231" height="231" fill="#7b0086"/>
<path d="M681.4,203.0 681.0,209.1 680.4,215.1 679.7,221.2 678.5,227.2 676.8,233.2 674.3,238.8 671.4,244.2 668.8,249.7 665.7,255.1 662.1,260.2 658.0,264.8 653.3,268.9 648.4,272.6 642.8,275.3 636.8,277.0 631.2,279.2 625.5,281.1 619.7,282.1 613.8,282.6 608.1,282.7 602.3,282.4 596.7,281.7 591.3,279.6 586.3,276.7 581.6,273.5 577.3,270.0 573.3,266.7 569.6,263.4 566.2,260.0 563.2,256.4 560.5,252.6 558.2,248.8 556.0,245.2 553.6,242.0 551.5,238.6 549.7,235.2 548.2,231.6 547.0,228.0 545.9,224.4 544.5,221.0 543.3,217.5 542.3,214.0 541.6,210.4 541.2,206.7 541.0,203.0 541.1,199.3 541.1,195.6 540.9,191.7 541.1,187.8 541.6,183.9 542.4,180.0 543.4,176.1 544.2,171.9 545.3,167.6 546.7,163.3 548.5,159.1 550.7,154.9 553.2,150.8 556.1,146.8 559.4,143.0 563.0,139.4 566.9,135.9 571.1,132.7 575.7,129.7 580.6,127.0 585.8,124.7 591.2,122.9 596.8,121.6 602.7,120.7 608.6,120.2 614.7,120.1 620.8,120.5 627.0,121.4 633.2,122.7 639.0,125.1 644.7,127.9 650.1,131.2 655.4,134.9 660.4,138.9 664.3,144.0 668.0,149.2 671.9,154.3 675.0,159.9 677.2,166.0 678.8,172.1 679.9,178.4 680.5,184.6 680.9,190.8 681.4,196.9Z" fill="#800397"/>
<path d="M671.7,203.0 671.5,208.4 670.9,213.8 670.2,219.2 669.2,224.6 667.9,229.9 666.0,235.0 663.5,240.0 661.0,244.9 657.9,249.4 654.4,253.6 650.5,257.6 646.4,261.2 642.1,264.5 637.4,267.3 632.4,269.5 627.6,271.9 622.6,273.8 617.3,274.6 611.9,274.9 606.7,274.8 601.5,274.3 596.5,273.5 591.6,271.9 587.0,269.7 582.7,267.2 578.7,264.5 574.9,261.9 571.3,259.1 568.1,256.1 565.2,252.9 562.7,249.5 560.5,245.9 558.4,242.5 556.4,239.3 554.6,236.1 552.9,232.8 551.5,229.5 550.4,226.2 549.3,222.9 548.1,219.7 547.1,216.4 546.3,213.1 545.7,209.8 545.3,206.4 545.0,203.0 545.0,199.6 544.8,196.1 544.7,192.5 544.7,188.9 545.1,185.2 545.7,181.5 546.6,177.8 547.5,173.9 548.7,170.1 550.2,166.2 552.0,162.4 554.1,158.7 556.5,155.0 559.2,151.4 562.2,148.0 565.5,144.7 569.1,141.5 573.0,138.4 577.2,135.6 581.7,133.0 586.4,130.9 591.4,129.3 596.6,128.3 601.9,127.9 607.3,127.8 612.7,128.2 618.1,128.9 623.5,130.0 628.9,131.4 634.1,133.5 639.2,136.0 644.1,138.9 648.7,142.3 653.0,146.0 656.5,150.6 659.6,155.4 662.6,160.1 665.2,165.1 667.1,170.4 668.7,175.8 669.9,181.2 670.7,186.7 671.2,192.1 671.7,197.6Z" fill="#8014c6"/>
<path d="M666.1,203.0 665.9,208.0 665.4,213.0 664.8,218.0 663.9,223.0 662.8,228.0 661.1,232.9 659.0,237.5 656.5,242.0 653.3,246.1 649.8,249.9 646.2,253.4 642.3,256.7 638.4,259.8 634.2,262.7 629.9,265.2 625.6,267.7 620.9,269.6 615.9,270.3 610.8,270.4 605.8,270.2 601.0,269.6 596.3,268.8 591.8,267.4 587.4,265.6 583.3,263.6 579.4,261.4 575.8,259.1 572.3,256.6 569.2,253.9 566.4,250.8 563.9,247.6 561.8,244.2 559.9,240.9 558.0,237.8 556.3,234.6 554.8,231.5 553.5,228.3 552.3,225.2 551.3,222.0 550.3,218.9 549.4,215.8 548.6,212.6 548.1,209.5 547.7,206.2 547.4,203.0 547.2,199.7 547.0,196.4 546.8,193.0 546.8,189.5 547.1,185.9 547.6,182.3 548.4,178.8 549.4,175.1 550.6,171.5 552.2,167.9 554.0,164.4 556.1,160.9 558.4,157.5 561.0,154.1 563.9,150.9 567.0,147.7 570.4,144.7 574.1,141.7 578.0,139.0 582.3,136.5 586.8,134.5 591.6,133.0 596.5,132.3 601.5,132.1 606.5,132.3 611.5,132.9 616.5,133.8 621.5,135.0 626.5,136.4 631.3,138.4 636.0,140.8 640.5,143.4 644.8,146.5 648.8,150.1 651.9,154.4 654.7,158.9 657.3,163.5 659.5,168.2 661.3,173.0 662.9,177.9 664.2,182.9 665.0,187.9 665.6,192.9 666.0,198.0Z" fill="#750be1"/>
<path d="M663.2,203.0 663.0,207.8 662.6,212.6 662.0,217.4 661.1,222.2 660.1,227.1 658.6,231.8 656.6,236.3 654.1,240.6 651.0,244.4 647.5,247.9 643.9,251.2 640.3,254.4 636.5,257.4 632.6,260.2 628.6,262.9 624.5,265.6 620.0,267.4 615.2,268.1 610.2,268.1 605.4,267.8 600.7,267.1 596.2,266.3 591.8,265.1 587.6,263.5 583.6,261.7 579.8,259.8 576.2,257.7 572.8,255.4 569.7,252.7 567.0,249.8 564.6,246.6 562.5,243.4 560.6,240.1 558.8,237.0 557.2,233.9 555.8,230.8 554.5,227.7 553.3,224.6 552.3,221.6 551.3,218.5 550.5,215.5 549.8,212.4 549.3,209.3 548.9,206.2 548.6,203.0 548.4,199.8 548.1,196.6 547.9,193.2 547.9,189.8 548.1,186.3 548.6,182.8 549.4,179.3 550.4,175.7 551.7,172.2 553.2,168.8 555.0,165.4 557.1,162.0 559.4,158.7 562.0,155.5 564.8,152.3 567.8,149.3 571.1,146.3 574.6,143.4 578.5,140.7 582.6,138.3 587.0,136.3 591.6,135.0 596.4,134.3 601.2,134.2 606.1,134.6 610.9,135.3 615.7,136.3 620.4,137.5 625.2,139.0 629.8,141.0 634.3,143.2 638.7,145.8 642.8,148.8 646.6,152.2 649.6,156.4 652.2,160.7 654.5,165.2 656.5,169.7 658.3,174.4 659.9,179.0 661.2,183.7 662.1,188.5 662.7,193.3 663.1,198.2Z" fill="#5f00e8"/>
<path d="M660.2,203.0 660.0,207.6 659.6,212.2 659.0,216.8 658.2,221.4 657.3,226.0 656.0,230.6 654.1,235.0 651.6,239.0 648.5,242.6 645.1,245.8 641.6,248.9 638.1,251.9 634.5,254.8 630.9,257.7 627.2,260.6 623.4,263.3 619.1,265.1 614.4,265.8 609.6,265.7 605.0,265.3 600.5,264.6 596.1,263.8 591.9,262.6 587.9,261.3 584.0,259.7 580.3,258.0 576.7,256.2 573.4,254.0 570.3,251.5 567.6,248.7 565.2,245.6 563.2,242.4 561.4,239.2 559.7,236.1 558.2,233.1 556.8,230.0 555.5,227.1 554.4,224.1 553.4,221.1 552.5,218.1 551.7,215.1 551.1,212.1 550.6,209.1 550.2,206.1 549.9,203.0 549.6,199.9 549.3,196.7 549.1,193.5 549.0,190.1 549.2,186.7 549.6,183.2 550.4,179.8 551.4,176.4 552.7,173.0 554.3,169.7 556.1,166.4 558.2,163.2 560.4,160.1 562.9,156.9 565.7,153.9 568.6,151.0 571.8,148.1 575.2,145.3 578.9,142.6 582.9,140.2 587.2,138.3 591.7,137.0 596.3,136.4 601.0,136.5 605.6,137.0 610.2,137.8 614.8,138.9 619.4,140.3 623.9,141.8 628.3,143.7 632.6,145.8 636.8,148.2 640.7,151.1 644.2,154.5 647.1,158.4 649.5,162.7 651.6,167.0 653.4,171.4 655.1,175.8 656.7,180.2 658.0,184.6 659.0,189.2 659.6,193.8 660.1,198.4Z" fill="#4200e8"/>
<path d="M657.0,203.0 656.9,207.4 656.5,211.8 655.9,216.2 655.2,220.6 654.4,225.0 653.2,229.4 651.5,233.6 649.1,237.4 645.9,240.7 642.5,243.7 639.1,246.6 635.8,249.4 632.4,252.2 629.1,255.1 625.8,258.1 622.2,260.9 618.1,262.7 613.6,263.4 609.0,263.2 604.5,262.7 600.2,261.9 596.0,261.1 592.0,260.1 588.1,259.0 584.4,257.7 580.7,256.3 577.2,254.6 574.0,252.6 571.0,250.2 568.3,247.5 566.0,244.6 563.9,241.5 562.2,238.4 560.6,235.3 559.2,232.2 557.8,229.3 556.6,226.4 555.5,223.5 554.5,220.6 553.7,217.7 553.0,214.8 552.4,211.8 551.9,208.9 551.5,206.0 551.2,203.0 550.9,200.0 550.6,196.9 550.3,193.7 550.2,190.4 550.3,187.1 550.7,183.7 551.4,180.4 552.5,177.1 553.8,173.8 555.4,170.6 557.3,167.5 559.3,164.5 561.5,161.4 563.9,158.4 566.6,155.5 569.5,152.7 572.5,149.9 575.8,147.1 579.4,144.5 583.3,142.1 587.4,140.3 591.8,139.1 596.2,138.7 600.7,138.8 605.2,139.5 609.6,140.5 613.9,141.7 618.2,143.1 622.5,144.6 626.7,146.4 630.8,148.4 634.8,150.8 638.6,153.5 641.8,156.8 644.6,160.6 646.7,164.7 648.6,168.9 650.2,173.1 651.8,177.2 653.4,181.4 654.8,185.6 655.8,189.9 656.5,194.2 656.9,198.6Z" fill="#2800f9"/>
<path d="M654.8,203.0 654.7,207.2 654.4,211.5 654.0,215.8 653.4,220.0 652.7,224.4 651.6,228.7 650.1,232.8 647.8,236.6 644.7,239.9 641.4,242.7 638.0,245.5 634.7,248.2 631.4,250.9 628.2,253.7 624.9,256.6 621.4,259.1 617.4,260.9 613.1,261.6 608.6,261.7 604.3,261.4 600.1,261.0 596.0,260.3 592.0,259.4 588.2,258.2 584.5,256.8 581.0,255.1 577.7,253.3 574.5,251.2 571.7,248.7 569.1,246.1 566.9,243.2 564.9,240.3 563.2,237.3 561.6,234.3 560.2,231.4 558.9,228.5 557.7,225.7 556.6,222.9 555.6,220.1 554.8,217.3 554.2,214.4 553.6,211.6 553.2,208.7 552.8,205.9 552.4,203.0 552.1,200.1 551.8,197.1 551.6,194.0 551.5,190.8 551.5,187.5 551.9,184.3 552.6,181.0 553.6,177.8 554.9,174.6 556.5,171.5 558.3,168.5 560.3,165.5 562.4,162.6 564.8,159.7 567.3,156.8 570.1,154.0 573.1,151.3 576.3,148.6 579.8,146.0 583.6,143.8 587.6,142.1 591.8,141.0 596.2,140.7 600.5,140.9 604.9,141.4 609.1,142.3 613.4,143.4 617.5,144.7 621.7,146.2 625.8,147.9 629.8,150.0 633.6,152.4 637.0,155.2 640.1,158.5 642.6,162.2 644.7,166.2 646.4,170.2 648.1,174.2 649.7,178.2 651.4,182.1 652.8,186.1 653.8,190.3 654.4,194.5 654.7,198.8Z" fill="#0e09ff"/>
<path d="M652.8,203.0 652.8,207.1 652.7,211.3 652.4,215.4 652.0,219.6 651.3,223.9 650.4,228.1 649.0,232.3 646.9,236.0 644.0,239.3 640.7,242.1 637.3,244.8 634.0,247.4 630.8,250.0 627.5,252.6 624.2,255.2 620.6,257.5 616.7,259.2 612.6,260.1 608.3,260.5 604.2,260.7 600.0,260.5 596.0,260.1 592.0,259.3 588.2,258.0 584.6,256.2 581.2,254.2 578.1,252.0 575.1,249.7 572.5,247.2 570.0,244.5 567.9,241.7 565.9,238.9 564.2,236.1 562.7,233.3 561.2,230.5 559.9,227.7 558.7,225.0 557.7,222.3 556.8,219.6 556.0,216.8 555.4,214.1 554.8,211.3 554.3,208.6 554.0,205.8 553.6,203.0 553.3,200.2 553.0,197.2 552.8,194.2 552.7,191.2 552.8,188.0 553.1,184.8 553.8,181.6 554.7,178.5 556.0,175.4 557.5,172.4 559.3,169.4 561.2,166.5 563.3,163.7 565.6,160.8 568.0,158.0 570.7,155.3 573.6,152.6 576.7,149.9 580.1,147.4 583.8,145.4 587.8,143.8 591.9,142.9 596.1,142.6 600.3,142.7 604.5,143.2 608.7,143.9 612.9,144.9 617.0,146.0 621.1,147.4 625.1,149.1 629.0,151.2 632.5,153.7 635.7,156.6 638.5,160.0 640.9,163.7 642.8,167.5 644.6,171.4 646.3,175.2 648.0,179.0 649.7,182.7 651.2,186.6 652.2,190.6 652.7,194.7 652.8,198.9Z" fill="#062eff"/>
<path d="M650.9,203.0 650.9,207.0 651.0,211.0 650.9,215.1 650.6,219.2 650.0,223.4 649.2,227.6 647.9,231.7 646.0,235.5 643.2,238.7 639.9,241.6 636.6,244.1 633.3,246.7 630.1,249.2 626.8,251.6 623.4,253.9 619.8,256.0 616.0,257.5 612.1,258.6 608.1,259.4 604.0,259.9 600.0,260.1 596.0,260.0 592.0,259.3 588.2,257.8 584.7,255.7 581.5,253.3 578.5,250.8 575.7,248.2 573.2,245.6 570.9,243.0 568.9,240.3 567.0,237.6 565.3,234.9 563.7,232.3 562.3,229.6 561.0,227.0 559.8,224.4 558.8,221.7 557.9,219.1 557.2,216.4 556.5,213.7 556.0,211.1 555.5,208.4 555.2,205.7 554.8,203.0 554.5,200.2 554.3,197.4 554.1,194.5 554.0,191.5 554.0,188.5 554.4,185.4 555.0,182.2 555.9,179.2 557.1,176.2 558.5,173.2 560.2,170.4 562.1,167.6 564.1,164.8 566.3,162.0 568.7,159.2 571.3,156.5 574.1,153.8 577.2,151.2 580.5,148.9 584.1,146.9 588.0,145.6 592.0,144.8 596.0,144.5 600.1,144.6 604.2,145.0 608.3,145.5 612.4,146.3 616.5,147.3 620.5,148.6 624.5,150.2 628.2,152.4 631.5,155.0 634.4,158.1 637.0,161.5 639.1,165.1 641.0,168.9 642.7,172.5 644.5,176.2 646.3,179.7 648.1,183.3 649.6,187.1 650.7,191.0 651.0,195.0 651.0,199.0Z" fill="#106aff"/>
<path d="M648.9,203.0 649.0,206.8 649.3,210.8 649.4,214.8 649.1,218.8 648.7,222.9 648.0,227.0 646.9,231.1 645.0,234.9 642.4,238.2 639.2,241.0 635.9,243.4 632.6,245.9 629.4,248.3 626.1,250.6 622.6,252.6 619.1,254.4 615.3,255.8 611.6,257.1 607.8,258.2 603.9,259.1 600.0,259.7 596.0,259.8 592.0,259.2 588.3,257.5 584.8,255.1 581.7,252.3 578.9,249.5 576.3,246.7 574.0,244.0 571.8,241.4 569.8,238.8 568.0,236.3 566.3,233.8 564.7,231.3 563.3,228.8 562.0,226.2 560.9,223.7 559.9,221.1 559.0,218.6 558.3,216.0 557.7,213.4 557.2,210.8 556.7,208.2 556.4,205.6 556.0,203.0 555.7,200.3 555.5,197.6 555.3,194.8 555.2,191.9 555.3,188.9 555.6,185.9 556.1,182.9 557.0,179.9 558.2,177.0 559.6,174.1 561.2,171.3 563.0,168.6 565.0,165.9 567.1,163.2 569.4,160.4 571.9,157.7 574.6,155.1 577.6,152.6 580.9,150.3 584.4,148.5 588.1,147.3 592.0,146.7 596.0,146.5 599.9,146.5 603.9,146.8 607.9,147.2 612.0,147.8 616.0,148.6 620.0,149.8 623.8,151.4 627.4,153.5 630.5,156.3 633.1,159.5 635.4,163.0 637.4,166.6 639.2,170.2 640.9,173.7 642.6,177.1 644.5,180.5 646.4,183.9 648.0,187.5 649.1,191.3 649.4,195.2 649.1,199.1Z" fill="#1099ff"/>
<path d="M647.2,203.0 647.4,206.7 647.7,210.5 647.7,214.4 647.3,218.3 646.6,222.1 645.6,226.0 644.3,229.8 642.5,233.3 640.0,236.4 637.0,239.1 633.9,241.5 630.8,243.9 627.7,246.2 624.6,248.3 621.3,250.3 617.9,252.1 614.5,253.7 611.0,255.3 607.4,256.7 603.7,257.8 599.8,258.5 595.9,258.6 592.1,257.8 588.4,256.0 585.1,253.5 582.1,250.7 579.4,247.9 576.9,245.2 574.7,242.6 572.6,240.1 570.6,237.7 568.8,235.3 567.1,232.9 565.6,230.5 564.1,228.0 562.9,225.6 561.8,223.1 560.8,220.6 560.0,218.1 559.3,215.6 558.7,213.1 558.3,210.6 557.8,208.1 557.5,205.6 557.2,203.0 557.0,200.4 556.8,197.8 556.6,195.1 556.6,192.3 556.7,189.4 557.0,186.5 557.5,183.6 558.3,180.7 559.3,177.8 560.6,175.0 562.1,172.2 563.8,169.4 565.6,166.7 567.6,163.9 569.8,161.2 572.3,158.5 575.0,155.9 577.9,153.5 581.1,151.4 584.6,149.8 588.3,148.6 592.1,147.9 595.9,147.7 599.8,147.7 603.7,147.9 607.6,148.3 611.6,148.8 615.6,149.6 619.5,150.7 623.3,152.2 626.8,154.3 629.8,157.2 632.3,160.5 634.3,164.1 635.9,167.8 637.5,171.4 639.1,174.8 640.8,178.1 642.7,181.3 644.7,184.6 646.4,188.0 647.4,191.6 647.7,195.5 647.4,199.3Z" fill="#0cc1ff"/>
<path d="M645.6,203.0 645.8,206.6 646.1,210.3 646.0,214.0 645.3,217.7 644.2,221.3 642.9,224.8 641.3,228.2 639.4,231.4 637.0,234.2 634.3,236.8 631.5,239.2 628.6,241.5 625.8,243.7 622.8,245.7 619.8,247.6 616.7,249.5 613.6,251.5 610.4,253.4 607.0,255.2 603.4,256.5 599.7,257.1 595.9,257.1 592.1,256.1 588.6,254.1 585.4,251.6 582.6,248.9 579.9,246.3 577.5,243.7 575.3,241.3 573.2,238.9 571.3,236.6 569.5,234.3 567.8,232.1 566.3,229.7 564.9,227.4 563.7,225.0 562.6,222.6 561.7,220.2 560.9,217.7 560.3,215.3 559.8,212.8 559.3,210.4 559.0,207.9 558.6,205.5 558.4,203.0 558.2,200.5 558.0,197.9 557.9,195.3 558.0,192.7 558.1,189.9 558.4,187.2 558.9,184.3 559.6,181.5 560.5,178.6 561.6,175.8 562.9,173.0 564.4,170.2 566.1,167.3 568.1,164.5 570.2,161.7 572.6,159.0 575.2,156.5 578.2,154.4 581.4,152.5 584.8,151.0 588.4,149.8 592.1,149.0 595.9,148.7 599.7,148.7 603.5,148.9 607.4,149.2 611.3,149.8 615.2,150.5 619.1,151.5 622.9,153.0 626.4,155.0 629.3,157.8 631.6,161.3 633.3,165.1 634.6,168.9 635.9,172.5 637.3,175.9 639.0,179.1 640.9,182.1 642.9,185.2 644.7,188.5 645.7,192.0 646.0,195.7 645.7,199.4Z" fill="#00eaf5"/>
<path d="M644.0,203.0 644.2,206.5 644.5,210.1 644.3,213.7 643.3,217.1 641.9,220.4 640.2,223.6 638.3,226.6 636.3,229.4 634.0,232.1 631.6,234.6 629.1,236.9 626.5,239.1 623.8,241.1 621.0,243.1 618.3,245.0 615.5,247.0 612.7,249.3 609.8,251.6 606.6,253.7 603.2,255.1 599.5,255.8 595.8,255.6 592.2,254.4 588.8,252.2 585.8,249.6 583.0,247.1 580.5,244.6 578.1,242.2 576.0,240.0 573.9,237.8 572.0,235.6 570.2,233.4 568.6,231.2 567.0,229.0 565.7,226.8 564.5,224.4 563.5,222.1 562.6,219.7 561.9,217.3 561.3,214.9 560.8,212.5 560.4,210.1 560.1,207.8 559.8,205.4 559.6,203.0 559.4,200.6 559.3,198.1 559.3,195.6 559.4,193.1 559.5,190.5 559.8,187.8 560.3,185.1 560.9,182.3 561.6,179.5 562.6,176.7 563.8,173.8 565.1,170.9 566.7,168.0 568.5,165.2 570.5,162.3 572.8,159.6 575.5,157.2 578.5,155.2 581.7,153.6 585.0,152.1 588.5,150.9 592.2,150.1 595.9,149.7 599.6,149.7 603.4,149.9 607.2,150.2 611.0,150.7 614.9,151.4 618.7,152.3 622.5,153.7 625.9,155.7 628.8,158.5 630.8,162.1 632.3,166.1 633.3,170.0 634.3,173.7 635.6,177.0 637.2,180.0 639.1,182.9 641.2,185.8 643.0,189.0 644.0,192.4 644.3,195.9 644.1,199.5Z" fill="#00ffc0"/>
<path d="M642.4,203.0 642.7,206.4 643.0,209.9 642.6,213.3 641.4,216.6 639.6,219.6 637.6,222.4 635.5,225.1 633.4,227.6 631.2,230.0 629.0,232.4 626.8,234.7 624.4,236.8 621.9,238.7 619.4,240.6 616.8,242.5 614.3,244.6 611.8,247.1 609.2,249.8 606.3,252.1 602.9,253.7 599.4,254.4 595.8,254.1 592.3,252.7 589.0,250.3 586.1,247.7 583.5,245.3 581.0,243.0 578.7,240.8 576.6,238.7 574.6,236.6 572.7,234.6 570.9,232.5 569.3,230.5 567.8,228.3 566.4,226.1 565.3,223.9 564.3,221.6 563.5,219.2 562.8,216.9 562.2,214.6 561.8,212.2 561.4,209.9 561.1,207.6 560.9,205.3 560.7,203.0 560.6,200.7 560.5,198.3 560.6,195.9 560.7,193.5 560.9,191.0 561.2,188.4 561.6,185.8 562.1,183.1 562.8,180.3 563.6,177.5 564.6,174.6 565.8,171.7 567.2,168.7 568.9,165.8 570.9,162.9 573.1,160.2 575.8,157.9 578.7,156.1 581.9,154.6 585.2,153.3 588.6,152.1 592.2,151.1 595.8,150.7 599.5,150.6 603.2,150.9 606.9,151.2 610.7,151.7 614.5,152.3 618.3,153.2 622.0,154.5 625.4,156.5 628.2,159.3 630.1,163.0 631.2,167.1 632.0,171.1 632.8,174.8 633.9,178.1 635.5,181.0 637.4,183.7 639.5,186.4 641.3,189.4 642.4,192.7 642.7,196.2 642.5,199.6Z" fill="#00ff77"/>
<path d="M641.2,203.0 641.5,206.3 641.8,209.7 641.5,213.1 640.4,216.3 638.6,219.2 636.6,222.0 634.5,224.5 632.3,227.0 630.2,229.3 628.0,231.5 625.8,233.7 623.5,235.8 621.1,237.7 618.6,239.5 616.2,241.4 613.7,243.5 611.3,245.9 608.7,248.4 605.9,250.6 602.7,252.2 599.2,252.9 595.7,252.7 592.3,251.4 589.1,249.3 586.3,246.9 583.6,244.6 581.2,242.3 579.0,240.2 576.9,238.1 574.9,236.1 573.1,234.0 571.3,232.0 569.7,229.9 568.3,227.8 567.0,225.7 565.9,223.4 564.9,221.2 564.1,218.9 563.4,216.6 562.9,214.3 562.4,212.1 562.1,209.8 561.8,207.5 561.5,205.3 561.4,203.0 561.2,200.7 561.2,198.4 561.3,196.0 561.4,193.7 561.6,191.2 562.0,188.7 562.4,186.2 562.9,183.6 563.5,180.9 564.3,178.1 565.3,175.3 566.5,172.4 567.9,169.5 569.5,166.7 571.4,163.9 573.6,161.3 576.2,159.0 579.1,157.2 582.2,155.7 585.4,154.4 588.8,153.2 592.2,152.2 595.8,151.8 599.4,151.8 603.0,152.1 606.6,152.5 610.2,153.1 613.8,153.9 617.5,154.9 620.9,156.3 624.1,158.3 626.7,161.1 628.6,164.6 629.8,168.4 630.7,172.2 631.7,175.6 632.9,178.7 634.5,181.4 636.5,184.1 638.5,186.8 640.3,189.7 641.3,192.9 641.5,196.3 641.3,199.7Z" fill="#03ff26"/>
<path d="M640.0,203.0 640.3,206.2 640.6,209.6 640.4,212.9 639.3,216.0 637.6,218.9 635.6,221.5 633.5,224.0 631.3,226.3 629.2,228.5 627.0,230.7 624.8,232.8 622.6,234.7 620.3,236.6 617.9,238.4 615.5,240.3 613.2,242.3 610.8,244.6 608.3,247.0 605.5,249.1 602.4,250.7 599.1,251.4 595.7,251.3 592.4,250.2 589.2,248.2 586.4,246.0 583.8,243.8 581.4,241.6 579.2,239.5 577.2,237.5 575.3,235.5 573.5,233.5 571.8,231.5 570.2,229.4 568.8,227.3 567.5,225.2 566.5,223.0 565.5,220.8 564.7,218.6 564.1,216.3 563.5,214.1 563.1,211.9 562.7,209.7 562.4,207.4 562.2,205.2 562.0,203.0 561.9,200.8 561.9,198.5 561.9,196.2 562.1,193.9 562.4,191.5 562.7,189.1 563.1,186.6 563.6,184.0 564.3,181.4 565.1,178.7 566.0,176.0 567.1,173.2 568.5,170.3 570.1,167.6 572.0,164.8 574.2,162.3 576.7,160.1 579.5,158.3 582.5,156.8 585.6,155.4 588.9,154.2 592.3,153.3 595.7,152.9 599.3,153.0 602.8,153.3 606.3,153.8 609.7,154.5 613.2,155.4 616.6,156.6 619.9,158.1 622.9,160.2 625.3,162.9 627.1,166.2 628.4,169.8 629.4,173.3 630.5,176.5 631.9,179.3 633.6,181.9 635.6,184.5 637.6,187.1 639.3,190.0 640.2,193.2 640.4,196.5 640.1,199.8Z" fill="#11ff00"/>
<path d="M638.9,203.0 639.1,206.2 639.5,209.4 639.3,212.6 638.3,215.7 636.6,218.5 634.6,221.1 632.5,223.5 630.3,225.7 628.1,227.8 626.0,229.8 623.8,231.8 621.7,233.7 619.4,235.6 617.2,237.4 614.9,239.2 612.6,241.2 610.3,243.4 607.8,245.6 605.1,247.6 602.1,249.1 598.9,249.9 595.6,249.9 592.4,248.9 589.4,247.2 586.6,245.1 584.0,243.0 581.7,241.0 579.5,238.9 577.5,236.9 575.6,234.9 573.8,232.9 572.2,230.9 570.7,228.9 569.3,226.8 568.1,224.7 567.0,222.6 566.1,220.4 565.3,218.2 564.7,216.0 564.2,213.9 563.7,211.7 563.4,209.5 563.1,207.3 562.8,205.2 562.7,203.0 562.6,200.8 562.6,198.6 562.6,196.3 562.8,194.1 563.1,191.7 563.4,189.4 563.8,187.0 564.4,184.5 565.0,181.9 565.8,179.3 566.7,176.6 567.8,173.9 569.1,171.2 570.7,168.4 572.5,165.8 574.7,163.3 577.1,161.2 579.8,159.4 582.7,157.8 585.8,156.5 589.0,155.3 592.3,154.4 595.7,154.0 599.1,154.1 602.5,154.5 605.9,155.1 609.3,156.0 612.6,157.0 615.8,158.3 618.9,159.9 621.6,162.0 623.9,164.7 625.7,167.8 627.0,171.2 628.1,174.3 629.4,177.3 630.9,179.9 632.7,182.4 634.7,184.9 636.6,187.5 638.2,190.3 639.1,193.4 639.2,196.6 639.0,199.9Z" fill="#36ff00"/>
<path d="M637.7,203.0 637.9,206.1 638.3,209.2 638.2,212.4 637.2,215.4 635.6,218.2 633.6,220.7 631.5,222.9 629.3,225.1 627.1,227.1 625.0,229.0 622.9,230.9 620.7,232.7 618.6,234.5 616.5,236.3 614.3,238.1 612.1,240.1 609.8,242.1 607.4,244.2 604.8,246.1 601.9,247.6 598.8,248.5 595.6,248.5 592.4,247.7 589.5,246.1 586.7,244.3 584.2,242.3 581.9,240.3 579.8,238.3 577.8,236.3 575.9,234.3 574.2,232.3 572.6,230.4 571.1,228.4 569.8,226.4 568.6,224.3 567.6,222.2 566.7,220.0 566.0,217.9 565.3,215.8 564.8,213.6 564.4,211.5 564.0,209.4 563.7,207.3 563.5,205.1 563.3,203.0 563.2,200.8 563.2,198.7 563.3,196.5 563.5,194.3 563.8,192.0 564.1,189.7 564.6,187.4 565.1,185.0 565.8,182.5 566.5,179.9 567.4,177.3 568.5,174.7 569.8,172.0 571.3,169.3 573.1,166.8 575.2,164.4 577.5,162.3 580.2,160.5 583.0,158.9 586.0,157.6 589.1,156.4 592.3,155.5 595.7,155.2 599.0,155.3 602.3,155.7 605.6,156.5 608.8,157.4 612.0,158.5 615.0,159.9 617.9,161.7 620.4,163.9 622.5,166.5 624.2,169.5 625.6,172.5 626.9,175.4 628.3,178.1 629.9,180.6 631.7,182.9 633.7,185.3 635.7,187.8 637.2,190.6 638.0,193.6 638.1,196.8 637.8,199.9Z" fill="#5aff00"/>
<path d="M636.5,203.0 636.8,206.0 637.1,209.1 637.1,212.2 636.2,215.1 634.6,217.8 632.7,220.2 630.5,222.4 628.3,224.4 626.1,226.3 624.0,228.1 621.9,229.9 619.8,231.7 617.8,233.4 615.7,235.2 613.6,237.0 611.5,238.9 609.3,240.9 606.9,242.8 604.4,244.6 601.6,246.1 598.6,247.0 595.5,247.1 592.5,246.5 589.6,245.1 586.9,243.4 584.4,241.5 582.1,239.6 580.0,237.6 578.1,235.7 576.3,233.7 574.6,231.8 573.0,229.8 571.6,227.9 570.3,225.9 569.2,223.8 568.2,221.7 567.3,219.7 566.6,217.6 566.0,215.5 565.5,213.4 565.0,211.3 564.7,209.2 564.4,207.2 564.1,205.1 564.0,203.0 563.9,200.9 563.9,198.8 564.0,196.6 564.2,194.5 564.5,192.3 564.9,190.0 565.3,187.8 565.9,185.4 566.5,183.0 567.2,180.5 568.1,178.0 569.1,175.4 570.4,172.8 571.9,170.2 573.6,167.7 575.7,165.4 578.0,163.4 580.5,161.6 583.3,160.0 586.2,158.6 589.2,157.5 592.4,156.7 595.6,156.3 598.9,156.4 602.1,156.9 605.3,157.8 608.4,158.8 611.3,160.1 614.2,161.6 616.8,163.5 619.1,165.7 621.1,168.3 622.7,171.1 624.2,173.9 625.6,176.5 627.1,178.9 628.9,181.2 630.8,183.4 632.8,185.7 634.7,188.2 636.2,190.9 636.9,193.9 637.0,197.0 636.7,200.0Z" fill="#7fff00"/>
<path d="M635.4,203.0 635.6,205.9 636.0,208.9 635.9,211.9 635.2,214.8 633.7,217.4 631.7,219.8 629.5,221.9 627.3,223.8 625.1,225.6 622.9,227.3 620.9,229.0 618.9,230.7 617.0,232.4 615.0,234.1 613.0,235.9 611.0,237.8 608.8,239.6 606.5,241.4 604.0,243.1 601.3,244.6 598.5,245.5 595.5,245.7 592.5,245.2 589.7,244.1 587.0,242.5 584.6,240.8 582.3,238.9 580.3,237.0 578.4,235.0 576.6,233.1 575.0,231.2 573.5,229.3 572.1,227.3 570.8,225.4 569.7,223.4 568.8,221.3 568.0,219.3 567.2,217.2 566.6,215.2 566.1,213.2 565.7,211.1 565.3,209.1 565.0,207.1 564.8,205.0 564.6,203.0 564.5,200.9 564.6,198.9 564.7,196.8 564.9,194.7 565.2,192.5 565.6,190.4 566.1,188.1 566.6,185.9 567.2,183.6 568.0,181.2 568.8,178.7 569.8,176.1 571.0,173.6 572.5,171.1 574.2,168.7 576.2,166.5 578.4,164.5 580.9,162.7 583.5,161.1 586.4,159.7 589.3,158.5 592.4,157.8 595.6,157.4 598.8,157.6 601.9,158.2 605.0,159.1 607.9,160.3 610.7,161.6 613.4,163.3 615.8,165.3 617.9,167.6 619.7,170.1 621.3,172.7 622.7,175.2 624.3,177.6 626.0,179.7 627.9,181.8 629.9,183.9 631.9,186.1 633.8,188.5 635.2,191.2 635.8,194.1 635.8,197.1 635.5,200.1Z" fill="#a2ff00"/>
<path d="M634.3,203.0 634.5,205.8 634.8,208.7 634.8,211.7 634.1,214.5 632.6,217.1 630.7,219.4 628.6,221.4 626.4,223.3 624.3,225.0 622.2,226.6 620.1,228.2 618.2,229.9 616.3,231.6 614.4,233.3 612.5,235.0 610.5,236.8 608.4,238.6 606.1,240.4 603.7,242.0 601.1,243.4 598.3,244.4 595.5,244.6 592.6,244.2 589.8,243.1 587.2,241.7 584.8,240.0 582.6,238.2 580.5,236.3 578.7,234.4 577.0,232.5 575.4,230.6 573.9,228.7 572.6,226.8 571.4,224.8 570.3,222.9 569.4,220.9 568.6,218.9 567.9,216.9 567.3,214.9 566.8,212.9 566.4,210.9 566.0,209.0 565.7,207.0 565.5,205.0 565.3,203.0 565.2,201.0 565.2,199.0 565.3,196.9 565.6,194.8 565.9,192.8 566.2,190.6 566.7,188.5 567.2,186.3 567.8,184.0 568.5,181.6 569.4,179.2 570.3,176.7 571.5,174.2 572.9,171.8 574.6,169.4 576.6,167.3 578.8,165.4 581.2,163.6 583.8,162.0 586.5,160.7 589.4,159.6 592.5,158.8 595.6,158.5 598.7,158.7 601.7,159.3 604.7,160.2 607.5,161.4 610.2,162.8 612.8,164.5 615.1,166.4 617.1,168.7 618.9,171.2 620.4,173.7 621.9,176.0 623.5,178.2 625.3,180.3 627.1,182.3 629.1,184.3 631.0,186.5 632.8,188.9 634.1,191.5 634.7,194.3 634.7,197.3 634.4,200.2Z" fill="#c2ff00"/>
<path d="M633.3,203.0 633.5,205.8 633.7,208.6 633.7,211.4 633.0,214.2 631.6,216.7 629.8,218.9 627.8,221.0 625.7,222.8 623.6,224.5 621.5,226.1 619.6,227.7 617.7,229.3 615.8,230.9 613.9,232.5 612.0,234.2 610.1,235.9 608.0,237.7 605.8,239.5 603.5,241.1 601.0,242.5 598.3,243.4 595.4,243.7 592.6,243.3 589.9,242.3 587.3,240.9 585.0,239.3 582.8,237.5 580.8,235.7 579.0,233.8 577.3,231.9 575.8,230.0 574.4,228.1 573.1,226.2 572.0,224.3 570.9,222.3 570.1,220.4 569.3,218.4 568.6,216.5 568.0,214.6 567.5,212.6 567.1,210.7 566.7,208.8 566.4,206.9 566.2,204.9 566.0,203.0 565.8,201.0 565.8,199.0 565.9,197.0 566.1,195.0 566.4,193.0 566.8,190.9 567.2,188.8 567.7,186.6 568.3,184.3 569.0,182.0 569.8,179.6 570.8,177.2 571.9,174.7 573.3,172.3 575.0,170.1 576.9,168.0 579.1,166.1 581.5,164.5 584.0,163.0 586.7,161.7 589.5,160.6 592.5,159.9 595.5,159.6 598.5,159.7 601.5,160.3 604.4,161.2 607.2,162.3 609.9,163.7 612.4,165.3 614.7,167.2 616.7,169.4 618.4,171.7 620.0,174.1 621.5,176.4 623.1,178.6 624.8,180.6 626.6,182.6 628.4,184.7 630.2,186.9 631.8,189.2 633.0,191.8 633.6,194.6 633.7,197.4 633.4,200.2Z" fill="#deff00"/>
<path d="M632.3,203.0 632.4,205.7 632.6,208.4 632.6,211.2 631.9,213.9 630.6,216.3 628.9,218.5 627.0,220.5 624.9,222.3 622.9,224.0 620.9,225.6 619.0,227.1 617.1,228.7 615.3,230.2 613.4,231.8 611.6,233.4 609.7,235.1 607.7,236.8 605.6,238.6 603.3,240.2 600.8,241.6 598.2,242.5 595.4,242.8 592.6,242.4 590.0,241.5 587.5,240.1 585.1,238.6 583.0,236.9 581.0,235.1 579.3,233.2 577.6,231.3 576.2,229.4 574.8,227.5 573.6,225.6 572.5,223.7 571.6,221.8 570.7,219.9 570.0,218.0 569.3,216.1 568.8,214.2 568.3,212.4 567.8,210.5 567.5,208.6 567.1,206.8 566.9,204.9 566.6,203.0 566.5,201.1 566.5,199.1 566.5,197.2 566.7,195.2 567.0,193.2 567.4,191.1 567.8,189.0 568.2,186.9 568.8,184.7 569.5,182.4 570.3,180.1 571.2,177.7 572.3,175.3 573.7,172.9 575.3,170.7 577.3,168.7 579.4,166.9 581.8,165.3 584.2,163.9 586.9,162.7 589.7,161.7 592.5,160.9 595.5,160.6 598.4,160.8 601.4,161.3 604.2,162.1 606.9,163.2 609.5,164.5 612.0,166.1 614.3,167.9 616.3,170.0 618.0,172.3 619.6,174.6 621.1,176.8 622.7,178.9 624.3,181.0 626.0,183.0 627.7,185.1 629.4,187.3 630.9,189.6 632.0,192.1 632.5,194.8 632.6,197.6 632.4,200.3Z" fill="#faff00"/>
<path d="M631.3,203.0 631.4,205.6 631.5,208.3 631.4,211.0 630.8,213.6 629.6,216.0 628.0,218.1 626.2,220.1 624.2,221.9 622.2,223.5 620.3,225.1 618.4,226.6 616.5,228.0 614.7,229.5 612.9,231.1 611.1,232.6 609.2,234.2 607.3,235.9 605.3,237.7 603.0,239.3 600.6,240.7 598.1,241.6 595.4,241.9 592.7,241.5 590.0,240.6 587.6,239.3 585.3,237.8 583.2,236.2 581.3,234.4 579.6,232.6 578.0,230.7 576.6,228.8 575.3,226.9 574.1,225.1 573.1,223.2 572.2,221.3 571.4,219.4 570.7,217.6 570.0,215.7 569.5,213.9 569.0,212.1 568.6,210.3 568.2,208.5 567.9,206.7 567.6,204.8 567.3,203.0 567.1,201.1 567.1,199.2 567.1,197.3 567.3,195.3 567.6,193.4 567.9,191.4 568.3,189.3 568.7,187.2 569.3,185.0 569.9,182.8 570.7,180.5 571.6,178.1 572.7,175.8 574.1,173.5 575.7,171.3 577.6,169.4 579.7,167.7 582.0,166.2 584.5,164.8 587.1,163.6 589.8,162.7 592.6,162.0 595.4,161.7 598.3,161.8 601.2,162.3 603.9,163.1 606.6,164.2 609.2,165.4 611.6,166.9 613.8,168.6 615.8,170.7 617.6,172.8 619.2,175.1 620.7,177.2 622.3,179.3 623.9,181.3 625.5,183.3 627.0,185.4 628.5,187.6 629.9,189.9 630.9,192.4 631.4,195.0 631.5,197.7 631.4,200.4Z" fill="#ffe601"/>
<path d="M630.3,203.0 630.3,205.5 630.5,208.1 630.3,210.7 629.7,213.2 628.6,215.6 627.1,217.7 625.4,219.7 623.5,221.4 621.5,223.0 619.7,224.5 617.8,226.0 616.0,227.4 614.2,228.9 612.4,230.3 610.6,231.8 608.8,233.4 607.0,235.1 605.0,236.8 602.8,238.4 600.5,239.8 598.0,240.7 595.3,241.0 592.7,240.7 590.1,239.8 587.7,238.6 585.5,237.1 583.4,235.5 581.6,233.8 579.9,232.0 578.3,230.1 577.0,228.2 575.7,226.4 574.7,224.5 573.7,222.6 572.8,220.8 572.0,219.0 571.4,217.1 570.8,215.4 570.2,213.6 569.7,211.8 569.3,210.1 568.9,208.3 568.6,206.6 568.3,204.8 568.0,203.0 567.8,201.2 567.7,199.3 567.7,197.4 567.9,195.5 568.2,193.6 568.5,191.6 568.8,189.6 569.3,187.5 569.8,185.4 570.4,183.2 571.2,180.9 572.1,178.6 573.1,176.3 574.5,174.0 576.1,171.9 577.9,170.1 580.0,168.5 582.3,167.0 584.7,165.7 587.2,164.6 589.9,163.7 592.6,163.1 595.4,162.8 598.2,162.9 601.0,163.3 603.7,164.1 606.3,165.1 608.8,166.3 611.2,167.7 613.4,169.4 615.4,171.3 617.1,173.4 618.7,175.5 620.3,177.6 621.8,179.6 623.4,181.7 624.9,183.7 626.3,185.8 627.7,188.0 628.9,190.3 629.8,192.7 630.3,195.3 630.4,197.9 630.3,200.5Z" fill="#ffc509"/>
<path d="M629.3,203.0 629.3,205.5 629.4,208.0 629.2,210.5 628.6,212.9 627.6,215.2 626.2,217.3 624.5,219.2 622.7,221.0 620.9,222.5 619.0,224.0 617.2,225.4 615.4,226.8 613.7,228.2 611.9,229.6 610.2,231.0 608.4,232.5 606.6,234.2 604.7,235.9 602.6,237.5 600.3,238.9 597.9,239.8 595.3,240.1 592.7,239.8 590.2,238.9 587.9,237.8 585.7,236.4 583.7,234.8 581.8,233.1 580.2,231.4 578.7,229.5 577.4,227.7 576.2,225.8 575.2,223.9 574.2,222.1 573.4,220.3 572.7,218.5 572.1,216.7 571.5,215.0 571.0,213.3 570.5,211.6 570.1,209.9 569.7,208.2 569.3,206.5 569.0,204.8 568.7,203.0 568.4,201.2 568.3,199.4 568.3,197.5 568.5,195.7 568.7,193.8 569.0,191.9 569.4,189.9 569.8,187.9 570.2,185.7 570.9,183.6 571.6,181.4 572.5,179.1 573.5,176.8 574.8,174.6 576.4,172.6 578.3,170.8 580.4,169.2 582.6,167.9 584.9,166.6 587.4,165.6 590.0,164.7 592.6,164.1 595.4,163.8 598.1,163.9 600.8,164.3 603.5,165.1 606.0,166.0 608.5,167.2 610.8,168.5 613.0,170.1 614.9,172.0 616.7,173.9 618.3,176.0 619.9,178.0 621.4,180.0 622.9,182.0 624.3,184.0 625.6,186.2 626.9,188.4 627.9,190.6 628.8,193.0 629.2,195.5 629.4,198.0 629.3,200.5Z" fill="#ffa610"/>
<path d="M628.3,203.0 628.3,205.4 628.3,207.8 628.1,210.2 627.5,212.6 626.6,214.9 625.3,216.9 623.7,218.8 622.0,220.5 620.2,222.0 618.4,223.5 616.6,224.9 614.9,226.2 613.2,227.5 611.4,228.8 609.7,230.2 608.0,231.7 606.2,233.3 604.4,235.0 602.4,236.6 600.2,238.0 597.8,238.9 595.3,239.2 592.7,238.9 590.3,238.1 588.0,237.0 585.9,235.6 583.9,234.1 582.1,232.5 580.5,230.8 579.0,228.9 577.8,227.1 576.7,225.2 575.7,223.3 574.8,221.5 574.0,219.7 573.4,218.0 572.7,216.3 572.2,214.6 571.7,212.9 571.2,211.3 570.8,209.7 570.4,208.0 570.0,206.4 569.7,204.7 569.4,203.0 569.1,201.3 568.9,199.5 568.9,197.7 569.1,195.9 569.3,194.0 569.6,192.1 569.9,190.2 570.3,188.2 570.7,186.1 571.3,184.0 572.0,181.8 572.9,179.6 573.9,177.3 575.2,175.2 576.8,173.2 578.6,171.5 580.7,170.0 582.9,168.7 585.2,167.6 587.6,166.6 590.1,165.8 592.7,165.2 595.3,164.9 598.0,165.0 600.6,165.4 603.2,166.0 605.7,166.9 608.1,168.0 610.4,169.3 612.6,170.9 614.5,172.6 616.3,174.5 617.9,176.4 619.5,178.4 621.0,180.4 622.4,182.3 623.8,184.4 625.0,186.5 626.0,188.7 627.0,191.0 627.7,193.3 628.2,195.7 628.3,198.2 628.3,200.6Z" fill="#ff8c10"/>
<path d="M627.3,203.0 627.2,205.3 627.2,207.7 626.9,210.0 626.4,212.3 625.5,214.5 624.4,216.5 622.9,218.4 621.3,220.0 619.5,221.5 617.8,223.0 616.1,224.3 614.3,225.6 612.6,226.8 610.9,228.1 609.3,229.4 607.6,230.8 605.9,232.4 604.1,234.1 602.1,235.7 600.0,237.1 597.7,238.0 595.2,238.3 592.8,238.0 590.4,237.3 588.1,236.2 586.0,234.9 584.1,233.5 582.3,231.9 580.8,230.1 579.4,228.3 578.2,226.5 577.1,224.6 576.2,222.8 575.4,221.0 574.7,219.2 574.0,217.5 573.4,215.9 572.9,214.2 572.4,212.6 572.0,211.0 571.5,209.4 571.1,207.9 570.7,206.3 570.4,204.7 570.0,203.0 569.7,201.3 569.6,199.6 569.5,197.8 569.7,196.0 569.9,194.2 570.2,192.4 570.4,190.5 570.8,188.5 571.2,186.4 571.8,184.4 572.5,182.2 573.3,180.0 574.3,177.8 575.6,175.7 577.2,173.8 579.0,172.2 581.0,170.8 583.1,169.6 585.4,168.5 587.8,167.6 590.2,166.8 592.7,166.2 595.3,166.0 597.9,166.0 600.5,166.4 603.0,167.0 605.4,167.9 607.8,168.9 610.0,170.2 612.1,171.6 614.1,173.3 615.8,175.0 617.5,176.9 619.1,178.8 620.6,180.7 622.0,182.7 623.2,184.8 624.3,186.9 625.2,189.1 626.0,191.4 626.6,193.6 627.1,196.0 627.2,198.3 627.3,200.7Z" fill="#ff7210"/>
<path d="M626.3,203.0 626.2,205.3 626.1,207.5 625.8,209.8 625.3,212.0 624.5,214.1 623.5,216.1 622.1,217.9 620.5,219.6 618.8,221.0 617.1,222.4 615.5,223.7 613.8,225.0 612.1,226.2 610.4,227.4 608.8,228.6 607.2,230.0 605.5,231.5 603.8,233.2 601.9,234.8 599.8,236.2 597.6,237.1 595.2,237.4 592.8,237.1 590.5,236.4 588.3,235.4 586.2,234.2 584.3,232.8 582.6,231.2 581.1,229.5 579.7,227.7 578.6,225.9 577.6,224.0 576.7,222.2 576.0,220.4 575.3,218.7 574.7,217.0 574.1,215.4 573.6,213.8 573.1,212.3 572.7,210.8 572.3,209.2 571.9,207.7 571.5,206.2 571.1,204.6 570.7,203.0 570.4,201.3 570.2,199.7 570.1,197.9 570.2,196.2 570.5,194.4 570.7,192.6 571.0,190.8 571.3,188.8 571.7,186.8 572.2,184.7 572.9,182.7 573.8,180.5 574.8,178.4 576.0,176.3 577.5,174.4 579.3,172.9 581.3,171.5 583.4,170.4 585.6,169.4 587.9,168.5 590.3,167.8 592.8,167.3 595.3,167.0 597.8,167.1 600.3,167.4 602.7,168.0 605.1,168.8 607.4,169.8 609.6,171.0 611.7,172.3 613.6,173.9 615.4,175.6 617.1,177.4 618.7,179.2 620.1,181.1 621.5,183.0 622.6,185.1 623.6,187.3 624.4,189.5 625.0,191.7 625.6,193.9 626.0,196.2 626.2,198.5 626.3,200.7Z" fill="#ff5410"/>
<path d="M625.3,203.0 625.2,205.2 625.0,207.4 624.7,209.5 624.2,211.7 623.5,213.7 622.6,215.7 621.3,217.5 619.8,219.1 618.2,220.6 616.5,221.9 614.9,223.2 613.2,224.4 611.6,225.5 609.9,226.6 608.3,227.8 606.8,229.1 605.2,230.6 603.5,232.3 601.7,233.9 599.7,235.2 597.5,236.2 595.2,236.5 592.8,236.2 590.6,235.6 588.4,234.6 586.4,233.5 584.5,232.1 582.9,230.6 581.4,228.9 580.1,227.1 579.0,225.3 578.0,223.4 577.2,221.6 576.5,219.9 575.9,218.2 575.3,216.6 574.8,215.0 574.3,213.5 573.9,212.0 573.4,210.5 573.0,209.0 572.6,207.5 572.2,206.1 571.8,204.6 571.4,203.0 571.0,201.4 570.8,199.7 570.7,198.1 570.8,196.4 571.1,194.6 571.3,192.9 571.5,191.0 571.8,189.1 572.2,187.1 572.7,185.1 573.4,183.1 574.2,181.0 575.2,178.9 576.4,176.9 577.9,175.1 579.6,173.6 581.6,172.3 583.7,171.3 585.9,170.3 588.1,169.5 590.4,168.9 592.8,168.4 595.2,168.1 597.7,168.1 600.1,168.4 602.5,169.0 604.8,169.7 607.1,170.7 609.2,171.8 611.3,173.1 613.2,174.6 615.0,176.1 616.7,177.8 618.2,179.6 619.7,181.4 621.0,183.4 622.1,185.5 622.9,187.6 623.5,189.9 624.0,192.1 624.5,194.3 624.9,196.4 625.1,198.6 625.2,200.8Z" fill="#ff2e10"/>
<path d="M623.9,203.0 623.8,205.1 623.6,207.2 623.3,209.2 622.9,211.3 622.2,213.3 621.3,215.2 620.2,216.9 618.7,218.5 617.2,219.9 615.7,221.2 614.1,222.4 612.5,223.6 611.0,224.7 609.4,225.8 607.8,227.0 606.3,228.3 604.8,229.7 603.2,231.3 601.4,232.9 599.5,234.2 597.4,235.1 595.1,235.5 592.9,235.3 590.7,234.7 588.6,233.8 586.6,232.6 584.8,231.3 583.2,229.8 581.7,228.2 580.5,226.4 579.4,224.6 578.6,222.8 577.8,221.0 577.1,219.3 576.5,217.7 576.0,216.1 575.5,214.6 575.0,213.1 574.6,211.6 574.2,210.2 573.8,208.8 573.4,207.4 573.0,205.9 572.6,204.5 572.3,203.0 571.9,201.5 571.7,199.9 571.6,198.2 571.7,196.6 571.9,195.0 572.2,193.3 572.4,191.5 572.6,189.7 573.0,187.8 573.5,185.8 574.2,183.8 574.9,181.8 575.9,179.8 577.0,177.8 578.5,176.1 580.1,174.6 582.0,173.3 584.0,172.3 586.1,171.3 588.3,170.5 590.5,169.8 592.8,169.3 595.2,169.1 597.6,169.1 599.9,169.4 602.2,170.0 604.5,170.8 606.6,171.8 608.7,172.9 610.6,174.2 612.5,175.6 614.2,177.2 615.8,178.8 617.3,180.5 618.7,182.3 619.9,184.2 620.9,186.2 621.7,188.3 622.3,190.4 622.7,192.5 623.2,194.6 623.5,196.7 623.8,198.8 623.9,200.9Z" fill="#ff1010"/>
<path d="M622.5,203.0 622.4,205.0 622.2,207.0 621.9,208.9 621.5,210.9 620.9,212.8 620.0,214.6 618.9,216.2 617.6,217.7 616.2,219.1 614.7,220.4 613.3,221.6 611.8,222.8 610.3,223.9 608.8,225.0 607.4,226.1 605.9,227.4 604.4,228.8 602.9,230.4 601.2,231.9 599.3,233.2 597.3,234.1 595.1,234.4 592.9,234.3 590.8,233.7 588.7,232.9 586.8,231.8 585.1,230.5 583.5,229.0 582.1,227.4 580.9,225.6 579.9,223.9 579.1,222.1 578.4,220.4 577.7,218.7 577.2,217.1 576.7,215.6 576.2,214.1 575.7,212.7 575.3,211.3 575.0,209.9 574.6,208.6 574.2,207.2 573.9,205.8 573.5,204.4 573.2,203.0 572.9,201.5 572.7,200.0 572.6,198.5 572.7,196.9 572.9,195.3 573.1,193.7 573.3,192.0 573.6,190.3 574.0,188.4 574.4,186.6 575.1,184.7 575.8,182.8 576.7,180.8 577.7,178.9 579.1,177.2 580.7,175.7 582.5,174.4 584.3,173.3 586.3,172.3 588.4,171.4 590.6,170.7 592.9,170.2 595.2,170.0 597.5,170.1 599.7,170.4 602.0,171.1 604.1,171.9 606.1,172.9 608.1,174.1 609.9,175.4 611.7,176.8 613.3,178.3 614.8,179.9 616.2,181.6 617.5,183.3 618.7,185.1 619.6,187.0 620.3,189.0 620.9,191.0 621.3,193.0 621.7,195.0 622.1,197.0 622.3,199.0 622.4,201.0Z" fill="#ff1010"/>
<path d="M621.0,203.0 620.9,204.9 620.7,206.8 620.5,208.6 620.0,210.5 619.5,212.3 618.7,214.0 617.7,215.6 616.4,217.0 615.1,218.3 613.8,219.6 612.4,220.8 611.0,221.9 609.7,223.0 608.3,224.1 606.9,225.3 605.5,226.6 604.1,227.9 602.6,229.4 600.9,230.9 599.1,232.1 597.2,233.0 595.1,233.4 592.9,233.2 590.9,232.8 588.9,232.0 587.0,230.9 585.3,229.7 583.8,228.2 582.5,226.6 581.4,224.9 580.4,223.1 579.6,221.4 578.9,219.7 578.3,218.1 577.8,216.6 577.3,215.1 576.9,213.7 576.5,212.3 576.1,211.0 575.7,209.7 575.4,208.3 575.0,207.0 574.7,205.7 574.4,204.4 574.1,203.0 573.8,201.6 573.6,200.1 573.6,198.7 573.7,197.2 573.9,195.7 574.1,194.1 574.3,192.5 574.6,190.9 574.9,189.1 575.4,187.4 575.9,185.6 576.6,183.7 577.5,181.8 578.5,180.0 579.7,178.3 581.2,176.8 582.9,175.5 584.7,174.3 586.6,173.3 588.6,172.3 590.7,171.6 592.9,171.1 595.1,170.9 597.4,171.1 599.6,171.5 601.7,172.1 603.7,173.0 605.7,174.1 607.5,175.3 609.2,176.6 610.9,178.0 612.4,179.5 613.8,181.0 615.1,182.6 616.3,184.3 617.4,186.0 618.3,187.8 619.0,189.7 619.5,191.6 619.9,193.6 620.3,195.5 620.6,197.3 620.9,199.2 621.0,201.1Z" fill="#ff1010"/>
<path d="M619.6,203.0 619.5,204.8 619.3,206.6 619.0,208.3 618.6,210.1 618.1,211.8 617.4,213.4 616.4,214.9 615.3,216.3 614.1,217.6 612.8,218.8 611.6,220.0 610.3,221.1 609.0,222.2 607.7,223.3 606.4,224.4 605.1,225.7 603.7,227.0 602.3,228.5 600.7,229.9 598.9,231.1 597.0,231.9 595.0,232.3 593.0,232.2 591.0,231.8 589.0,231.1 587.2,230.1 585.6,228.8 584.1,227.4 582.9,225.8 581.8,224.1 580.9,222.4 580.1,220.7 579.5,219.1 578.9,217.6 578.4,216.1 578.0,214.6 577.6,213.3 577.2,211.9 576.8,210.6 576.5,209.4 576.2,208.1 575.9,206.9 575.6,205.6 575.3,204.3 575.0,203.0 574.8,201.7 574.6,200.3 574.6,198.9 574.7,197.5 574.9,196.0 575.1,194.6 575.3,193.0 575.5,191.4 575.8,189.8 576.3,188.1 576.8,186.4 577.5,184.7 578.3,182.8 579.2,181.1 580.4,179.4 581.8,177.9 583.3,176.6 585.0,175.4 586.8,174.2 588.8,173.3 590.8,172.5 592.9,172.1 595.1,171.9 597.3,172.0 599.4,172.5 601.4,173.2 603.4,174.2 605.2,175.3 606.9,176.5 608.6,177.8 610.1,179.2 611.5,180.6 612.8,182.1 614.0,183.7 615.1,185.3 616.2,186.9 617.0,188.6 617.6,190.4 618.1,192.3 618.5,194.1 618.9,195.9 619.2,197.6 619.4,199.4 619.5,201.2Z" fill="#ff1010"/>
<path d="M618.1,203.0 618.0,204.7 617.9,206.4 617.6,208.0 617.2,209.7 616.7,211.3 616.1,212.8 615.2,214.3 614.2,215.6 613.0,216.8 611.9,218.0 610.7,219.2 609.6,220.3 608.3,221.4 607.1,222.5 605.9,223.6 604.6,224.8 603.3,226.1 602.0,227.5 600.4,228.8 598.8,230.0 596.9,230.8 595.0,231.2 593.0,231.2 591.1,230.9 589.2,230.2 587.5,229.2 585.9,228.0 584.5,226.6 583.3,225.0 582.2,223.4 581.4,221.7 580.7,220.1 580.1,218.5 579.5,217.0 579.1,215.5 578.6,214.2 578.2,212.8 577.9,211.6 577.6,210.3 577.3,209.1 577.0,207.9 576.7,206.7 576.4,205.5 576.2,204.2 575.9,203.0 575.7,201.7 575.6,200.4 575.5,199.1 575.6,197.7 575.8,196.4 576.0,195.0 576.2,193.6 576.5,192.0 576.8,190.5 577.2,188.9 577.7,187.3 578.3,185.6 579.1,183.9 579.9,182.2 581.0,180.6 582.3,179.1 583.8,177.7 585.4,176.4 587.1,175.2 588.9,174.2 590.9,173.5 593.0,173.0 595.1,172.8 597.2,173.0 599.2,173.5 601.2,174.3 603.0,175.3 604.7,176.4 606.3,177.7 607.9,179.0 609.3,180.4 610.6,181.8 611.8,183.3 612.9,184.7 614.0,186.3 614.9,187.8 615.7,189.5 616.3,191.2 616.7,192.9 617.1,194.6 617.5,196.3 617.8,197.9 618.0,199.6 618.1,201.3Z" fill="#ff1010"/>
<path d="M616.7,203.0 616.6,204.6 616.4,206.1 616.2,207.7 615.8,209.3 615.3,210.8 614.7,212.2 613.9,213.6 613.0,214.9 612.0,216.1 611.0,217.2 609.9,218.4 608.8,219.5 607.7,220.5 606.6,221.6 605.4,222.7 604.2,224.0 603.0,225.2 601.7,226.6 600.2,227.8 598.6,229.0 596.8,229.8 594.9,230.2 593.0,230.2 591.2,229.9 589.4,229.3 587.7,228.4 586.1,227.2 584.8,225.8 583.7,224.2 582.7,222.6 581.9,221.0 581.2,219.4 580.6,217.8 580.1,216.4 579.7,215.0 579.3,213.7 578.9,212.4 578.6,211.2 578.3,210.0 578.0,208.8 577.8,207.7 577.5,206.5 577.3,205.4 577.0,204.2 576.8,203.0 576.6,201.8 576.5,200.5 576.5,199.3 576.6,198.0 576.8,196.7 577.0,195.4 577.2,194.1 577.4,192.6 577.7,191.2 578.1,189.7 578.6,188.1 579.2,186.5 579.9,184.9 580.7,183.3 581.7,181.7 582.9,180.2 584.2,178.8 585.7,177.4 587.3,176.2 589.1,175.2 591.0,174.4 593.0,173.9 595.0,173.8 597.1,174.0 599.0,174.5 600.9,175.4 602.6,176.4 604.3,177.6 605.8,178.9 607.2,180.2 608.5,181.6 609.7,183.0 610.8,184.4 611.8,185.8 612.8,187.2 613.6,188.7 614.3,190.3 614.9,191.9 615.4,193.5 615.7,195.1 616.1,196.7 616.3,198.3 616.5,199.8 616.6,201.4Z" fill="#ff1010"/>
<path d="M615.2,203.0 615.1,204.5 615.0,205.9 614.7,207.4 614.4,208.9 614.0,210.3 613.4,211.6 612.7,212.9 611.9,214.2 611.0,215.3 610.0,216.4 609.1,217.5 608.1,218.6 607.0,219.7 606.0,220.8 604.9,221.9 603.8,223.1 602.6,224.3 601.3,225.6 599.9,226.8 598.4,227.9 596.7,228.7 594.9,229.1 593.1,229.2 591.3,229.0 589.5,228.4 587.9,227.5 586.4,226.4 585.1,225.0 584.0,223.4 583.1,221.8 582.4,220.2 581.7,218.7 581.2,217.2 580.7,215.8 580.3,214.5 580.0,213.2 579.6,212.0 579.3,210.8 579.0,209.7 578.8,208.5 578.5,207.4 578.3,206.3 578.1,205.2 577.9,204.1 577.7,203.0 577.6,201.9 577.5,200.7 577.5,199.5 577.6,198.3 577.8,197.1 578.0,195.9 578.1,194.6 578.4,193.2 578.7,191.9 579.0,190.4 579.5,189.0 580.0,187.5 580.7,185.9 581.4,184.3 582.3,182.8 583.4,181.3 584.7,179.9 586.0,178.5 587.6,177.2 589.3,176.1 591.1,175.3 593.0,174.8 595.0,174.7 596.9,175.0 598.8,175.5 600.6,176.4 602.3,177.5 603.8,178.8 605.2,180.1 606.5,181.4 607.6,182.8 608.7,184.1 609.8,185.5 610.7,186.9 611.6,188.2 612.4,189.7 613.0,191.1 613.5,192.6 614.0,194.1 614.3,195.6 614.6,197.1 614.9,198.6 615.1,200.0 615.2,201.5Z" fill="#fc1010"/>
<path d="M613.8,203.0 613.7,204.4 613.5,205.7 613.3,207.1 613.0,208.4 612.6,209.8 612.1,211.1 611.5,212.3 610.7,213.4 609.9,214.6 609.1,215.7 608.2,216.7 607.3,217.8 606.4,218.9 605.4,219.9 604.4,221.0 603.4,222.2 602.3,223.4 601.0,224.7 599.7,225.8 598.2,226.8 596.6,227.6 594.9,228.1 593.1,228.2 591.4,228.0 589.7,227.5 588.1,226.7 586.7,225.6 585.5,224.2 584.4,222.6 583.6,221.1 582.9,219.5 582.3,218.0 581.8,216.6 581.3,215.2 581.0,213.9 580.6,212.7 580.3,211.6 580.0,210.4 579.8,209.3 579.6,208.3 579.3,207.2 579.1,206.2 579.0,205.1 578.8,204.1 578.7,203.0 578.5,201.9 578.5,200.8 578.5,199.7 578.6,198.6 578.7,197.4 578.9,196.3 579.1,195.1 579.3,193.8 579.6,192.5 580.0,191.2 580.4,189.8 580.9,188.4 581.4,186.9 582.1,185.4 583.0,183.9 584.0,182.4 585.1,181.0 586.4,179.5 587.8,178.2 589.4,177.0 591.2,176.2 593.0,175.7 595.0,175.7 596.8,175.9 598.7,176.6 600.4,177.5 601.9,178.7 603.3,179.9 604.6,181.3 605.8,182.6 606.8,184.0 607.8,185.3 608.8,186.6 609.6,187.9 610.4,189.2 611.1,190.6 611.7,191.9 612.2,193.3 612.6,194.7 612.9,196.1 613.2,197.5 613.5,198.9 613.6,200.2 613.7,201.6Z" fill="#ed1010"/>
<path d="M612.3,203.0 612.2,204.3 612.1,205.5 611.9,206.8 611.6,208.0 611.2,209.3 610.8,210.5 610.2,211.6 609.6,212.7 608.9,213.8 608.1,214.9 607.4,215.9 606.6,217.0 605.7,218.0 604.9,219.1 603.9,220.2 603.0,221.4 601.9,222.5 600.7,223.7 599.4,224.8 598.0,225.8 596.5,226.5 594.8,227.0 593.2,227.2 591.5,227.1 589.8,226.6 588.3,225.9 586.9,224.7 585.8,223.4 584.8,221.8 584.0,220.3 583.4,218.8 582.8,217.3 582.3,216.0 581.9,214.7 581.6,213.4 581.3,212.2 581.0,211.1 580.7,210.0 580.5,209.0 580.3,208.0 580.1,207.0 580.0,206.0 579.8,205.0 579.7,204.0 579.6,203.0 579.5,202.0 579.4,201.0 579.5,199.9 579.6,198.9 579.7,197.8 579.9,196.7 580.1,195.6 580.3,194.4 580.6,193.2 580.9,192.0 581.3,190.7 581.7,189.4 582.2,188.0 582.9,186.5 583.6,185.0 584.5,183.6 585.5,182.0 586.7,180.5 588.0,179.1 589.6,178.0 591.3,177.1 593.1,176.7 594.9,176.6 596.7,176.9 598.5,177.6 600.1,178.6 601.5,179.8 602.8,181.1 604.0,182.5 605.1,183.8 606.0,185.1 606.9,186.4 607.8,187.7 608.5,189.0 609.2,190.2 609.8,191.5 610.4,192.8 610.8,194.1 611.2,195.3 611.5,196.6 611.8,197.9 612.0,199.2 612.2,200.4 612.3,201.7Z" fill="#db1010"/>
<path d="M610.9,203.0 610.8,204.2 610.6,205.3 610.4,206.5 610.2,207.6 609.8,208.8 609.4,209.9 609.0,211.0 608.4,212.0 607.8,213.0 607.2,214.1 606.5,215.1 605.8,216.1 605.1,217.2 604.3,218.3 603.4,219.4 602.5,220.5 601.5,221.6 600.4,222.8 599.2,223.8 597.8,224.7 596.4,225.5 594.8,226.0 593.2,226.2 591.6,226.1 590.0,225.7 588.5,225.0 587.2,223.9 586.1,222.5 585.2,221.0 584.5,219.5 583.8,218.1 583.3,216.7 582.9,215.3 582.5,214.1 582.2,212.9 581.9,211.8 581.7,210.7 581.5,209.7 581.3,208.7 581.1,207.7 580.9,206.7 580.8,205.8 580.7,204.9 580.6,203.9 580.5,203.0 580.4,202.1 580.4,201.1 580.5,200.1 580.6,199.1 580.7,198.2 580.9,197.1 581.0,196.1 581.2,195.0 581.5,193.9 581.8,192.8 582.2,191.6 582.6,190.3 583.0,189.0 583.6,187.6 584.3,186.2 585.1,184.7 586.0,183.1 587.0,181.6 588.3,180.1 589.7,178.9 591.4,178.0 593.1,177.6 594.9,177.5 596.6,177.9 598.3,178.6 599.8,179.6 601.2,180.9 602.4,182.3 603.4,183.7 604.4,185.0 605.2,186.3 606.0,187.6 606.7,188.8 607.4,190.0 608.0,191.2 608.6,192.4 609.1,193.6 609.5,194.8 609.8,196.0 610.1,197.1 610.4,198.3 610.6,199.5 610.8,200.6 610.8,201.8Z" fill="#ca1010"/>
<path d="M609.4,203.0 609.3,204.1 609.2,205.1 609.0,206.2 608.8,207.2 608.5,208.3 608.1,209.3 607.7,210.3 607.3,211.3 606.8,212.3 606.3,213.3 605.7,214.3 605.1,215.3 604.4,216.4 603.7,217.4 603.0,218.5 602.1,219.6 601.2,220.7 600.1,221.8 598.9,222.8 597.6,223.7 596.2,224.4 594.8,224.9 593.2,225.2 591.7,225.2 590.1,224.8 588.7,224.2 587.5,223.1 586.4,221.7 585.6,220.3 584.9,218.8 584.3,217.3 583.9,216.0 583.5,214.7 583.1,213.5 582.8,212.4 582.6,211.3 582.4,210.3 582.2,209.3 582.0,208.3 581.9,207.4 581.7,206.5 581.6,205.6 581.5,204.8 581.4,203.9 581.4,203.0 581.4,202.1 581.4,201.2 581.4,200.3 581.5,199.4 581.7,198.5 581.8,197.6 582.0,196.6 582.2,195.6 582.4,194.6 582.7,193.5 583.0,192.4 583.4,191.2 583.8,190.0 584.3,188.7 584.9,187.3 585.6,185.8 586.4,184.2 587.4,182.6 588.5,181.1 589.9,179.8 591.5,179.0 593.1,178.5 594.9,178.5 596.5,178.8 598.1,179.6 599.6,180.7 600.8,182.0 601.9,183.4 602.8,184.9 603.7,186.2 604.4,187.5 605.1,188.8 605.7,190.0 606.3,191.1 606.8,192.2 607.3,193.3 607.7,194.4 608.1,195.5 608.4,196.6 608.7,197.6 609.0,198.7 609.2,199.8 609.3,200.8 609.4,201.9Z" fill="#bd0f0f"/>
<path d="M607.7,203.0 607.7,204.0 607.5,204.9 607.4,205.8 607.1,206.8 606.9,207.7 606.6,208.6 606.3,209.5 605.9,210.4 605.5,211.4 605.1,212.3 604.6,213.2 604.1,214.2 603.5,215.2 602.9,216.2 602.2,217.3 601.5,218.3 600.6,219.4 599.6,220.4 598.6,221.3 597.4,222.1 596.1,222.7 594.7,223.2 593.3,223.5 591.8,223.6 590.4,223.3 589.1,222.7 587.9,221.7 587.0,220.4 586.2,219.0 585.6,217.6 585.1,216.2 584.7,215.0 584.3,213.8 584.0,212.6 583.8,211.6 583.5,210.6 583.3,209.7 583.2,208.8 583.0,207.9 582.9,207.0 582.8,206.2 582.7,205.4 582.6,204.6 582.6,203.8 582.6,203.0 582.6,202.2 582.6,201.4 582.7,200.6 582.8,199.8 582.9,198.9 583.0,198.1 583.2,197.2 583.4,196.4 583.6,195.4 583.8,194.5 584.1,193.5 584.5,192.4 584.8,191.3 585.3,190.0 585.8,188.7 586.3,187.3 587.0,185.8 587.9,184.2 588.9,182.7 590.2,181.4 591.6,180.6 593.2,180.2 594.8,180.1 596.4,180.5 597.8,181.3 599.1,182.4 600.3,183.7 601.2,185.1 602.1,186.5 602.8,187.8 603.4,189.0 604.0,190.2 604.5,191.3 605.0,192.4 605.5,193.4 605.9,194.4 606.2,195.4 606.6,196.3 606.8,197.3 607.1,198.2 607.3,199.2 607.5,200.1 607.6,201.1 607.7,202.0Z" fill="#b00808"/>
<path d="M605.0,203.0 605.0,203.8 604.9,204.5 604.7,205.3 604.5,206.0 604.3,206.8 604.1,207.5 603.8,208.2 603.5,209.0 603.2,209.7 602.9,210.5 602.5,211.2 602.1,212.0 601.6,212.8 601.2,213.6 600.6,214.4 600.0,215.3 599.3,216.1 598.5,216.9 597.7,217.7 596.7,218.3 595.7,218.8 594.6,219.2 593.4,219.5 592.3,219.5 591.1,219.3 590.1,218.8 589.1,218.0 588.4,216.9 587.7,215.8 587.3,214.7 586.8,213.6 586.5,212.6 586.2,211.6 586.0,210.7 585.8,209.9 585.6,209.1 585.5,208.3 585.3,207.6 585.2,206.9 585.1,206.2 585.0,205.6 584.9,204.9 584.9,204.3 584.9,203.6 584.8,203.0 584.8,202.4 584.9,201.7 584.9,201.1 585.0,200.4 585.1,199.8 585.2,199.1 585.3,198.4 585.5,197.7 585.7,196.9 585.9,196.2 586.1,195.4 586.4,194.5 586.7,193.6 587.0,192.6 587.4,191.6 587.9,190.4 588.4,189.2 589.1,187.9 589.9,186.7 591.0,185.7 592.1,185.0 593.4,184.7 594.6,184.7 595.9,185.0 597.1,185.6 598.1,186.5 599.0,187.5 599.8,188.6 600.5,189.8 601.0,190.8 601.6,191.8 602.0,192.7 602.4,193.6 602.8,194.5 603.2,195.3 603.5,196.1 603.8,196.9 604.1,197.6 604.3,198.4 604.5,199.2 604.7,199.9 604.8,200.7 604.9,201.5 605.0,202.2Z" fill="#aa0e0e"/>
<path d="M601.3,203.0 601.3,203.5 601.2,204.0 601.1,204.5 601.0,205.0 600.9,205.5 600.7,206.0 600.6,206.5 600.4,207.0 600.2,207.5 599.9,208.0 599.7,208.5 599.4,209.0 599.1,209.5 598.8,210.1 598.4,210.6 598.0,211.2 597.5,211.7 597.0,212.3 596.4,212.8 595.8,213.2 595.1,213.6 594.4,213.8 593.6,214.0 592.8,214.0 592.1,213.9 591.4,213.5 590.8,213.0 590.2,212.3 589.8,211.5 589.5,210.8 589.2,210.1 589.0,209.4 588.8,208.8 588.7,208.2 588.5,207.6 588.4,207.1 588.3,206.6 588.2,206.1 588.1,205.6 588.1,205.2 588.0,204.7 588.0,204.3 587.9,203.9 587.9,203.4 587.9,203.0 587.9,202.6 587.9,202.1 587.9,201.7 588.0,201.3 588.1,200.8 588.1,200.4 588.2,199.9 588.3,199.5 588.4,199.0 588.6,198.4 588.7,197.9 588.9,197.3 589.1,196.7 589.3,196.1 589.6,195.4 589.9,194.6 590.3,193.8 590.7,192.9 591.3,192.1 592.0,191.5 592.7,191.0 593.6,190.8 594.4,190.8 595.3,191.0 596.0,191.4 596.7,192.0 597.4,192.7 597.9,193.4 598.3,194.2 598.7,194.9 599.0,195.5 599.3,196.2 599.6,196.7 599.9,197.3 600.1,197.9 600.3,198.4 600.5,198.9 600.7,199.4 600.9,199.9 601.0,200.4 601.1,201.0 601.2,201.5 601.3,202.0 601.3,202.5Z" fill="#970404"/>
</g>
<rect x="496.7" y="94.3" width="230" height="230" fill="none" stroke="#111" stroke-width="1.4"/>
<path d="M515.9,94.3v3.2M515.9,324.3v-3.2M496.7,113.5h3.2M726.7,113.5h-3.2M535.0,94.3v6.0M535.0,324.3v-6.0M496.7,132.6h6.0M726.7,132.6h-6.0M554.2,94.3v3.2M554.2,324.3v-3.2M496.7,151.8h3.2M726.7,151.8h-3.2M573.4,94.3v6.0M573.4,324.3v-6.0M496.7,171.0h6.0M726.7,171.0h-6.0M592.5,94.3v3.2M592.5,324.3v-3.2M496.7,190.1h3.2M726.7,190.1h-3.2M611.7,94.3v6.0M611.7,324.3v-6.0M496.7,209.3h6.0M726.7,209.3h-6.0M630.9,94.3v3.2M630.9,324.3v-3.2M496.7,228.5h3.2M726.7,228.5h-3.2M650.0,94.3v6.0M650.0,324.3v-6.0M496.7,247.6h6.0M726.7,247.6h-6.0M669.2,94.3v3.2M669.2,324.3v-3.2M496.7,266.8h3.2M726.7,266.8h-3.2M688.4,94.3v6.0M688.4,324.3v-6.0M496.7,286.0h6.0M726.7,286.0h-6.0M707.5,94.3v3.2M707.5,324.3v-3.2M496.7,305.1h3.2M726.7,305.1h-3.2" stroke="#111" stroke-width="1.3" fill="none"/>
<text x="489.2" y="99.9" text-anchor="end" font-size="18.0">0</text>
<text x="496.7" y="82.0" text-anchor="middle" font-size="18.0">0</text>
<text x="489.2" y="138.2" text-anchor="end" font-size="18.0">20</text>
<text x="535.0" y="82.0" text-anchor="middle" font-size="18.0">20</text>
<text x="489.2" y="176.6" text-anchor="end" font-size="18.0">40</text>
<text x="573.4" y="82.0" text-anchor="middle" font-size="18.0">40</text>
<text x="489.2" y="214.9" text-anchor="end" font-size="18.0">60</text>
<text x="611.7" y="82.0" text-anchor="middle" font-size="18.0">60</text>
<text x="489.2" y="253.2" text-anchor="end" font-size="18.0">80</text>
<text x="650.0" y="82.0" text-anchor="middle" font-size="18.0">80</text>
<text x="489.2" y="291.6" text-anchor="end" font-size="18.0">100</text>
<text x="688.4" y="82.0" text-anchor="middle" font-size="18.0">100</text>
<text x="489.2" y="329.9" text-anchor="end" font-size="18.0">120</text>
<text x="726.7" y="82.0" text-anchor="middle" font-size="18.0">120</text>
<text x="441.2" y="57.0" font-size="18.0">(b)</text>
<text transform="translate(455.4,207.5) rotate(-90)" text-anchor="middle" font-size="18.0">Position (<tspan font-family="Liberation Serif">μ</tspan>m)</text>
<text x="611.7" y="54.7" text-anchor="middle" font-size="18.0">Position (<tspan font-family="Liberation Serif">μ</tspan>m)</text>
<text x="504.4" y="119.8" font-size="18.0">950 - 1100 nm</text>
<text x="756.0" y="87.8" font-size="18.0">Photon</text>
<text x="756.0" y="110.0" font-size="18.0">Flux</text>
<rect x="741.3" y="123.0" width="16.5" height="193.4" fill="url(#cb1)"/>
<text x="763.9" y="130.6" font-size="18.0">6.30</text>
<text x="763.9" y="162.9" font-size="18.0">5.30</text>
<text x="763.9" y="195.3" font-size="18.0">4.30</text>
<text x="763.9" y="227.6" font-size="18.0">3.30</text>
<text x="763.9" y="259.9" font-size="18.0">2.30</text>
<text x="763.9" y="292.2" font-size="18.0">1.30</text>
<text x="763.9" y="324.6" font-size="18.0">0.30</text>
<text transform="translate(810.9,140.0) rotate(90)" font-size="18.0">(10<tspan font-size="11" dy="-7">17</tspan><tspan dy="7"> photons/s/cm</tspan><tspan font-size="11" dy="-7">2</tspan><tspan dy="7">)</tspan></text>
<text x="503.9" y="307.1" font-size="18.0">InAs/Al<tspan font-size="11" dy="6.5">0.4</tspan><tspan dy="-6.5">Ga</tspan><tspan font-size="11" dy="6.5">0.6</tspan><tspan dy="-6.5">As QDSC</tspan></text>
<rect x="86.7" y="348.8" width="230" height="230" fill="#fff"/>
<g clip-path="url(#clip2)">
<rect x="86" y="348" width="231" height="231" fill="#7b0086"/>
<path d="M281.2,460.0 280.2,466.2 278.9,472.4 277.6,478.4 275.9,484.4 274.1,490.2 271.9,496.0 269.3,501.6 265.5,506.6 260.4,510.4 255.8,514.3 252.5,519.4 248.7,524.1 244.3,528.2 239.5,531.8 234.3,535.1 229.0,537.8 223.3,540.0 217.4,541.3 211.5,542.1 205.6,542.6 199.7,542.6 193.9,542.3 188.2,541.6 182.5,540.6 177.0,539.1 171.7,537.3 166.7,534.8 162.0,531.8 157.8,528.1 154.0,524.2 149.5,521.5 145.3,518.5 142.7,513.6 140.7,508.6 138.6,504.0 136.9,499.3 135.5,494.7 134.6,490.0 134.0,485.4 132.9,481.2 131.1,477.2 129.6,473.1 128.4,468.8 127.8,464.4 127.4,460.0 127.5,455.6 127.8,451.1 128.1,446.6 128.4,442.1 129.1,437.5 130.1,432.9 131.2,428.2 132.4,423.4 134.1,418.7 136.1,414.0 138.6,409.4 141.4,404.9 144.6,400.6 148.1,396.5 152.1,392.6 156.3,388.9 161.0,385.7 166.0,383.0 171.2,380.7 176.6,378.4 182.2,376.5 188.1,376.1 193.9,376.3 199.7,376.8 206.2,373.6 211.9,376.1 218.5,375.4 225.2,375.3 232.0,376.0 237.9,378.8 243.6,382.0 248.9,385.9 253.9,390.2 258.6,394.7 262.6,399.9 266.1,405.4 269.3,411.1 271.8,417.0 273.9,423.1 275.5,429.2 277.8,435.1 280.1,441.1 281.5,447.3 281.7,453.7Z" fill="#800397"/>
<path d="M280.3,460.0 279.3,466.2 278.1,472.2 276.8,478.2 275.1,484.1 273.2,489.9 270.9,495.6 268.3,501.1 264.7,506.0 259.9,510.1 255.5,514.1 252.1,519.0 248.2,523.5 243.5,527.3 238.7,530.7 233.5,533.7 228.2,536.3 222.6,538.3 216.9,539.7 211.1,540.6 205.3,541.1 199.5,541.2 193.8,540.8 188.2,540.1 182.7,539.0 177.3,537.5 172.1,535.8 167.2,533.3 162.5,530.5 158.2,527.2 154.4,523.5 150.0,520.8 146.0,517.6 143.4,512.9 141.2,508.1 139.1,503.6 137.3,499.0 135.8,494.5 134.8,489.9 134.0,485.4 132.9,481.1 131.3,477.1 130.0,473.0 129.0,468.7 128.4,464.4 128.1,460.0 128.1,455.6 128.4,451.2 128.7,446.8 129.0,442.2 129.7,437.7 130.7,433.2 131.8,428.5 133.2,423.9 134.8,419.2 136.9,414.6 139.4,410.1 142.2,405.8 145.3,401.6 148.9,397.6 152.8,393.8 157.0,390.3 161.6,387.1 166.5,384.5 171.6,382.2 176.9,379.9 182.4,377.9 188.1,377.3 193.9,377.3 199.7,377.6 206.0,375.1 211.6,377.3 218.0,377.0 224.5,377.1 231.0,378.0 236.8,380.7 242.4,383.7 247.7,387.4 252.8,391.4 257.5,395.8 261.7,400.7 265.3,406.0 268.6,411.5 271.3,417.3 273.6,423.2 275.4,429.3 277.6,435.2 279.7,441.2 280.8,447.4 280.9,453.7Z" fill="#8014c6"/>
<path d="M279.5,460.0 278.5,466.1 277.3,472.1 276.0,478.1 274.2,483.9 272.2,489.6 270.0,495.2 267.3,500.6 263.8,505.5 259.5,509.8 255.3,513.9 251.7,518.6 247.6,522.9 242.8,526.3 237.9,529.5 232.7,532.3 227.4,534.7 222.0,536.7 216.4,538.0 210.7,539.0 205.0,539.6 199.4,539.7 193.8,539.4 188.3,538.6 182.9,537.5 177.6,536.0 172.5,534.2 167.6,531.9 163.0,529.3 158.7,526.2 154.7,522.8 150.5,520.1 146.6,516.8 144.0,512.2 141.7,507.6 139.6,503.2 137.7,498.7 136.1,494.3 134.9,489.8 134.1,485.4 132.9,481.1 131.5,477.1 130.3,472.9 129.5,468.6 129.0,464.3 128.7,460.0 128.7,455.6 129.0,451.3 129.2,446.9 129.6,442.4 130.3,437.9 131.3,433.4 132.5,428.9 133.9,424.3 135.6,419.7 137.7,415.3 140.1,410.9 142.9,406.6 146.1,402.6 149.6,398.7 153.5,395.0 157.7,391.6 162.2,388.6 166.9,386.0 172.0,383.6 177.1,381.4 182.5,379.4 188.2,378.6 193.9,378.3 199.6,378.5 205.7,376.6 211.3,378.5 217.5,378.5 223.7,379.0 230.0,380.1 235.7,382.6 241.3,385.5 246.6,388.8 251.7,392.6 256.4,396.8 260.7,401.5 264.5,406.6 268.0,411.9 270.9,417.5 273.3,423.3 275.3,429.3 277.4,435.2 279.2,441.2 280.1,447.5 280.1,453.8Z" fill="#750be1"/>
<path d="M278.6,460.0 277.7,466.1 276.5,472.0 275.1,477.9 273.4,483.6 271.3,489.2 269.0,494.7 266.3,500.0 263.0,505.0 259.0,509.4 255.1,513.7 251.3,518.3 247.0,522.2 242.1,525.4 237.1,528.3 231.9,530.9 226.7,533.1 221.3,535.0 215.8,536.4 210.3,537.5 204.8,538.1 199.2,538.3 193.7,538.0 188.3,537.1 183.0,535.9 177.9,534.4 172.9,532.6 168.1,530.4 163.5,528.0 159.2,525.2 155.1,522.1 151.0,519.3 147.3,516.0 144.6,511.6 142.2,507.1 140.0,502.8 138.1,498.4 136.5,494.1 135.1,489.7 134.1,485.3 132.9,481.1 131.7,477.0 130.7,472.8 130.0,468.6 129.6,464.3 129.4,460.0 129.4,455.7 129.6,451.4 129.8,447.0 130.2,442.6 130.9,438.1 131.9,433.7 133.1,429.2 134.6,424.7 136.3,420.3 138.5,415.9 140.9,411.6 143.7,407.5 146.9,403.5 150.4,399.8 154.2,396.3 158.3,393.0 162.7,390.1 167.4,387.5 172.3,385.1 177.4,382.9 182.7,380.9 188.2,379.8 193.8,379.3 199.5,379.3 205.4,378.1 211.0,379.6 217.0,380.1 223.0,380.9 229.0,382.2 234.6,384.5 240.1,387.2 245.4,390.3 250.6,393.9 255.4,397.8 259.8,402.3 263.7,407.2 267.3,412.3 270.4,417.8 273.1,423.5 275.2,429.3 277.2,435.3 278.8,441.3 279.4,447.6 279.3,453.8Z" fill="#5f00e8"/>
<path d="M277.8,460.0 276.9,466.0 275.7,471.9 274.3,477.7 272.5,483.4 270.4,488.9 268.0,494.3 265.3,499.5 262.2,504.5 258.5,509.1 254.8,513.5 251.0,517.9 246.4,521.6 241.4,524.5 236.3,527.1 231.1,529.5 225.9,531.5 220.6,533.3 215.3,534.8 209.9,535.9 204.5,536.6 199.1,536.8 193.7,536.5 188.4,535.7 183.2,534.4 178.2,532.8 173.3,531.0 168.6,529.0 164.1,526.7 159.7,524.2 155.5,521.4 151.5,518.6 147.9,515.1 145.2,510.9 142.8,506.6 140.5,502.4 138.5,498.1 136.8,493.9 135.3,489.6 134.1,485.3 133.0,481.1 131.9,476.9 131.1,472.7 130.6,468.5 130.2,464.2 130.1,460.0 130.0,455.7 130.1,451.4 130.3,447.1 130.7,442.7 131.4,438.3 132.5,433.9 133.7,429.6 135.3,425.2 137.1,420.8 139.2,416.6 141.7,412.4 144.5,408.4 147.7,404.5 151.1,400.9 154.9,397.5 159.0,394.4 163.3,391.5 167.9,388.9 172.7,386.6 177.7,384.3 182.8,382.3 188.2,381.0 193.8,380.3 199.4,380.1 205.2,379.6 210.7,380.8 216.5,381.6 222.2,382.7 228.0,384.2 233.5,386.4 239.0,388.9 244.3,391.8 249.4,395.1 254.3,398.8 258.8,403.1 262.9,407.7 266.7,412.7 270.0,418.0 272.8,423.6 275.1,429.4 277.0,435.3 278.3,441.4 278.8,447.7 278.5,453.9Z" fill="#4200e8"/>
<path d="M277.0,460.0 276.0,465.9 274.9,471.8 273.4,477.5 271.6,483.1 269.5,488.6 267.0,493.8 264.3,499.0 261.3,503.9 258.1,508.7 254.6,513.3 250.6,517.5 245.9,520.9 240.7,523.6 235.5,525.9 230.3,528.0 225.1,530.0 220.0,531.7 214.8,533.2 209.5,534.3 204.2,535.1 198.9,535.4 193.6,535.1 188.4,534.2 183.3,532.9 178.4,531.3 173.7,529.5 169.1,527.5 164.6,525.4 160.2,523.2 155.9,520.8 152.0,517.9 148.6,514.3 145.8,510.2 143.3,506.1 141.0,501.9 138.9,497.8 137.1,493.7 135.5,489.5 134.1,485.3 133.0,481.1 132.1,476.9 131.5,472.6 131.1,468.4 130.9,464.2 130.7,460.0 130.7,455.8 130.7,451.5 130.9,447.2 131.3,442.9 132.0,438.5 133.1,434.2 134.4,429.9 136.0,425.6 137.8,421.4 140.0,417.2 142.5,413.1 145.3,409.2 148.4,405.5 151.9,402.0 155.6,398.7 159.7,395.7 163.9,393.0 168.4,390.4 173.1,388.0 177.9,385.8 183.0,383.8 188.3,382.3 193.7,381.3 199.3,381.0 204.9,381.1 210.4,382.0 216.0,383.1 221.5,384.6 226.9,386.3 232.4,388.3 237.8,390.6 243.2,393.3 248.3,396.3 253.3,399.9 257.9,403.9 262.1,408.3 266.0,413.1 269.5,418.3 272.5,423.7 275.0,429.4 276.9,435.4 277.9,441.5 278.1,447.8 277.7,453.9Z" fill="#2800f9"/>
<path d="M275.4,460.0 274.4,465.8 273.3,471.6 271.9,477.2 270.1,482.7 268.0,488.0 265.6,493.2 262.9,498.2 260.1,503.2 257.0,508.0 253.7,512.6 249.8,516.7 245.2,520.2 240.1,522.9 234.9,525.1 229.8,527.2 224.7,529.1 219.6,530.7 214.5,532.2 209.3,533.4 204.1,534.1 198.8,534.4 193.6,534.1 188.4,533.2 183.4,531.9 178.6,530.3 173.9,528.5 169.4,526.5 164.9,524.5 160.6,522.3 156.4,519.9 152.6,516.9 149.3,513.3 146.6,509.3 144.1,505.3 141.9,501.2 139.8,497.2 138.0,493.1 136.4,489.1 135.0,484.9 133.9,480.8 133.0,476.6 132.4,472.4 132.1,468.3 131.8,464.1 131.7,460.0 131.7,455.8 131.7,451.7 131.9,447.4 132.3,443.2 133.1,438.9 134.1,434.7 135.4,430.4 136.9,426.2 138.7,422.0 140.8,417.9 143.2,413.9 146.0,410.0 149.1,406.3 152.5,402.9 156.2,399.8 160.2,396.8 164.4,394.1 168.8,391.6 173.4,389.2 178.1,387.0 183.1,385.0 188.3,383.3 193.7,382.3 199.2,381.9 204.7,382.2 210.2,383.0 215.6,384.2 221.0,385.8 226.3,387.5 231.7,389.5 237.0,391.8 242.2,394.4 247.3,397.4 252.2,400.9 256.8,404.8 261.0,409.1 264.9,413.8 268.3,418.9 271.3,424.3 273.7,429.9 275.5,435.8 276.4,441.9 276.5,448.0 276.1,454.1Z" fill="#0e09ff"/>
<path d="M273.5,460.0 272.6,465.7 271.5,471.3 270.1,476.8 268.3,482.2 266.3,487.4 264.0,492.5 261.4,497.5 258.7,502.3 255.8,507.0 252.5,511.6 248.8,515.8 244.4,519.3 239.6,522.2 234.5,524.5 229.4,526.5 224.3,528.3 219.3,530.0 214.2,531.4 209.1,532.6 203.9,533.3 198.7,533.6 193.6,533.2 188.5,532.3 183.5,531.0 178.8,529.4 174.1,527.6 169.7,525.7 165.3,523.7 161.0,521.5 157.0,518.9 153.3,515.9 150.1,512.3 147.4,508.4 145.0,504.4 142.8,500.4 140.8,496.4 139.1,492.5 137.5,488.5 136.1,484.4 135.0,480.4 134.2,476.3 133.6,472.2 133.2,468.1 132.9,464.1 132.8,460.0 132.7,455.9 132.8,451.8 133.1,447.7 133.5,443.5 134.2,439.3 135.2,435.2 136.5,431.0 138.0,426.9 139.7,422.7 141.6,418.6 144.0,414.6 146.7,410.7 149.7,407.1 153.1,403.8 156.8,400.7 160.7,397.8 164.8,395.2 169.1,392.7 173.6,390.3 178.3,388.1 183.2,386.0 188.4,384.4 193.7,383.3 199.1,382.9 204.5,383.2 210.0,384.0 215.3,385.2 220.6,386.7 225.9,388.5 231.1,390.6 236.3,392.9 241.4,395.5 246.4,398.5 251.2,401.9 255.6,405.8 259.8,410.0 263.5,414.7 266.9,419.7 269.7,425.0 272.0,430.5 273.7,436.3 274.5,442.2 274.6,448.2 274.2,454.2Z" fill="#062eff"/>
<path d="M271.7,460.0 270.8,465.6 269.6,471.1 268.2,476.4 266.6,481.7 264.6,486.8 262.4,491.8 260.0,496.7 257.3,501.5 254.5,506.1 251.4,510.7 247.8,514.9 243.7,518.5 239.0,521.4 234.0,523.8 229.0,525.8 224.0,527.6 219.0,529.2 214.0,530.6 208.9,531.8 203.8,532.5 198.6,532.7 193.5,532.4 188.5,531.5 183.6,530.2 178.9,528.6 174.3,526.8 169.9,524.9 165.6,522.9 161.4,520.6 157.5,518.0 154.0,514.9 150.9,511.3 148.3,507.4 145.9,503.5 143.8,499.6 141.9,495.7 140.1,491.8 138.6,487.9 137.3,483.9 136.2,480.0 135.3,476.0 134.7,472.0 134.3,468.0 134.0,464.0 133.9,460.0 133.8,456.0 133.9,452.0 134.2,447.9 134.7,443.9 135.4,439.8 136.4,435.7 137.6,431.6 139.0,427.5 140.6,423.4 142.5,419.3 144.7,415.3 147.3,411.5 150.3,407.9 153.7,404.7 157.3,401.6 161.2,398.8 165.2,396.2 169.5,393.8 173.9,391.4 178.5,389.1 183.3,387.1 188.4,385.4 193.6,384.3 199.0,383.9 204.4,384.1 209.7,384.9 215.0,386.1 220.2,387.7 225.4,389.5 230.5,391.6 235.6,393.9 240.5,396.6 245.4,399.6 250.1,402.9 254.5,406.7 258.6,410.9 262.2,415.5 265.4,420.4 268.1,425.7 270.3,431.1 271.9,436.8 272.7,442.6 272.8,448.5 272.4,454.3Z" fill="#106aff"/>
<path d="M269.8,460.0 268.9,465.4 267.8,470.8 266.4,476.0 264.8,481.2 262.9,486.2 260.8,491.1 258.5,495.9 256.0,500.6 253.2,505.2 250.2,509.7 246.9,514.0 243.0,517.7 238.5,520.7 233.6,523.1 228.6,525.1 223.6,526.9 218.7,528.5 213.7,529.9 208.7,531.0 203.6,531.7 198.6,531.9 193.5,531.5 188.5,530.6 183.7,529.3 179.1,527.7 174.6,526.0 170.2,524.1 165.9,522.0 161.8,519.8 158.1,517.1 154.7,513.8 151.7,510.2 149.2,506.5 146.9,502.6 144.8,498.8 142.9,495.0 141.2,491.1 139.7,487.3 138.4,483.4 137.3,479.5 136.5,475.6 135.8,471.7 135.4,467.8 135.1,463.9 134.9,460.0 134.9,456.1 135.1,452.1 135.4,448.2 135.9,444.2 136.6,440.2 137.6,436.2 138.7,432.2 140.0,428.1 141.5,424.1 143.3,420.0 145.5,416.0 148.0,412.2 150.9,408.7 154.3,405.5 157.8,402.6 161.7,399.9 165.7,397.3 169.8,394.8 174.2,392.5 178.7,390.2 183.4,388.1 188.4,386.4 193.6,385.3 198.9,384.9 204.2,385.1 209.5,385.9 214.7,387.1 219.8,388.6 224.9,390.5 229.9,392.6 234.8,395.0 239.7,397.7 244.4,400.6 249.0,403.9 253.4,407.6 257.4,411.8 260.9,416.3 264.0,421.2 266.6,426.4 268.6,431.7 270.1,437.3 270.8,443.0 270.9,448.8 270.5,454.4Z" fill="#1099ff"/>
<path d="M267.2,460.0 266.4,465.3 265.5,470.5 264.4,475.6 263.0,480.6 261.3,485.6 259.3,490.4 257.1,495.1 254.7,499.8 252.0,504.3 249.1,508.7 245.8,512.9 242.1,516.7 237.7,519.8 233.0,522.3 228.2,524.4 223.3,526.2 218.4,527.7 213.4,529.1 208.5,530.1 203.5,530.8 198.5,531.0 193.5,530.6 188.6,529.7 183.8,528.5 179.2,526.9 174.8,525.2 170.4,523.3 166.3,521.2 162.3,518.9 158.6,516.1 155.4,512.8 152.5,509.2 150.0,505.5 147.7,501.8 145.7,498.0 143.9,494.2 142.2,490.5 140.7,486.7 139.5,482.9 138.5,479.1 137.6,475.3 137.0,471.5 136.6,467.6 136.3,463.8 136.1,460.0 136.1,456.2 136.2,452.3 136.5,448.4 136.9,444.5 137.6,440.6 138.5,436.6 139.6,432.7 140.9,428.7 142.4,424.7 144.2,420.7 146.3,416.8 148.7,413.1 151.6,409.6 154.9,406.4 158.4,403.5 162.1,400.8 166.1,398.3 170.2,395.9 174.4,393.5 178.9,391.2 183.6,389.2 188.5,387.4 193.6,386.3 198.8,385.9 204.0,386.1 209.2,386.9 214.3,388.2 219.4,389.8 224.3,391.7 229.2,393.9 233.9,396.3 238.7,399.0 243.3,402.0 247.7,405.2 251.9,408.9 255.7,413.0 259.0,417.5 261.9,422.3 264.3,427.4 266.2,432.6 267.5,438.1 268.1,443.6 268.1,449.2 267.8,454.6Z" fill="#0cc1ff"/>
<path d="M264.2,460.0 263.7,465.1 263.1,470.1 262.3,475.1 261.2,480.1 259.7,485.0 257.9,489.8 255.7,494.4 253.4,499.0 250.8,503.4 247.9,507.7 244.7,511.9 241.1,515.6 237.0,518.8 232.4,521.4 227.7,523.5 222.9,525.3 218.0,526.9 213.2,528.2 208.3,529.3 203.3,529.9 198.4,530.1 193.4,529.7 188.6,528.9 183.9,527.6 179.3,526.1 174.9,524.4 170.7,522.5 166.6,520.4 162.7,517.9 159.2,515.1 156.1,511.8 153.3,508.3 150.8,504.6 148.6,500.9 146.6,497.2 144.8,493.6 143.2,489.9 141.8,486.2 140.6,482.5 139.6,478.7 138.8,475.0 138.2,471.2 137.8,467.5 137.5,463.7 137.3,460.0 137.3,456.2 137.3,452.5 137.5,448.6 137.9,444.8 138.5,440.9 139.3,437.0 140.4,433.1 141.7,429.2 143.2,425.3 145.0,421.4 147.1,417.6 149.5,413.9 152.3,410.5 155.5,407.3 158.9,404.4 162.6,401.8 166.5,399.2 170.5,396.8 174.7,394.5 179.1,392.3 183.7,390.2 188.5,388.4 193.5,387.4 198.7,387.0 203.8,387.2 208.9,388.0 213.9,389.4 218.8,391.1 223.6,393.1 228.3,395.4 233.0,397.8 237.5,400.4 242.0,403.3 246.3,406.6 250.2,410.3 253.8,414.4 256.9,418.8 259.6,423.5 261.8,428.5 263.5,433.6 264.6,438.9 265.1,444.2 265.1,449.6 264.7,454.8Z" fill="#00eaf5"/>
<path d="M261.3,460.0 261.0,464.9 260.6,469.8 260.1,474.7 259.3,479.6 258.1,484.4 256.4,489.1 254.4,493.7 252.1,498.2 249.5,502.5 246.7,506.7 243.6,510.8 240.1,514.6 236.2,517.8 231.8,520.5 227.2,522.7 222.5,524.5 217.7,526.1 212.9,527.4 208.1,528.4 203.2,529.0 198.3,529.2 193.4,528.8 188.6,528.0 184.0,526.8 179.5,525.3 175.1,523.6 171.0,521.7 166.9,519.5 163.2,517.0 159.8,514.1 156.7,510.8 154.1,507.3 151.7,503.7 149.5,500.1 147.5,496.5 145.8,492.9 144.2,489.3 142.8,485.6 141.6,482.0 140.7,478.3 139.9,474.6 139.4,471.0 139.0,467.3 138.7,463.7 138.6,460.0 138.5,456.3 138.5,452.6 138.6,448.9 138.9,445.0 139.4,441.2 140.2,437.4 141.3,433.5 142.6,429.7 144.1,425.9 145.8,422.1 147.9,418.4 150.3,414.8 153.0,411.4 156.1,408.2 159.4,405.4 163.1,402.7 166.8,400.2 170.8,397.8 174.9,395.5 179.2,393.3 183.8,391.2 188.5,389.4 193.5,388.4 198.6,388.0 203.7,388.2 208.7,389.1 213.6,390.6 218.3,392.4 222.9,394.5 227.5,396.8 232.0,399.2 236.4,401.8 240.8,404.7 244.8,408.0 248.6,411.7 251.9,415.7 254.8,420.1 257.2,424.8 259.2,429.6 260.8,434.6 261.7,439.7 262.1,444.9 262.0,450.0 261.6,455.1Z" fill="#00ffc0"/>
<path d="M258.4,460.0 258.3,464.7 258.2,469.4 258.0,474.2 257.5,479.1 256.5,483.8 254.9,488.5 253.0,493.0 250.8,497.3 248.3,501.6 245.5,505.8 242.5,509.8 239.2,513.5 235.4,516.8 231.2,519.6 226.7,521.9 222.1,523.7 217.4,525.3 212.6,526.6 207.8,527.5 203.0,528.2 198.2,528.3 193.4,528.0 188.7,527.2 184.1,526.0 179.6,524.5 175.3,522.8 171.2,520.9 167.3,518.7 163.6,516.1 160.4,513.1 157.4,509.8 154.8,506.3 152.5,502.8 150.4,499.2 148.4,495.7 146.7,492.2 145.1,488.7 143.8,485.1 142.6,481.5 141.7,477.9 141.1,474.3 140.5,470.7 140.2,467.1 139.9,463.6 139.7,460.0 139.6,456.4 139.5,452.8 139.6,449.1 139.8,445.3 140.3,441.5 141.0,437.7 142.1,434.0 143.4,430.2 144.9,426.5 146.7,422.8 148.7,419.2 151.0,415.6 153.7,412.3 156.7,409.1 160.0,406.3 163.5,403.6 167.2,401.2 171.1,398.8 175.2,396.5 179.4,394.3 183.9,392.2 188.6,390.5 193.5,389.4 198.5,389.1 203.5,389.3 208.4,390.2 213.2,391.8 217.8,393.8 222.3,395.9 226.7,398.2 231.0,400.6 235.3,403.3 239.5,406.1 243.4,409.4 246.9,413.1 250.0,417.1 252.7,421.5 254.9,426.0 256.7,430.7 258.1,435.6 258.9,440.5 259.2,445.5 259.0,450.4 258.7,455.3Z" fill="#00ff77"/>
<path d="M256.6,460.0 256.5,464.6 256.5,469.2 256.3,473.9 255.8,478.6 254.8,483.2 253.4,487.8 251.5,492.2 249.4,496.5 247.0,500.7 244.4,504.8 241.5,508.8 238.3,512.5 234.6,515.8 230.5,518.5 226.1,520.8 221.5,522.6 216.9,524.2 212.3,525.5 207.6,526.5 202.9,527.3 198.1,527.6 193.4,527.4 188.7,526.5 184.1,525.2 179.8,523.7 175.6,522.0 171.5,520.0 167.6,517.8 164.1,515.2 160.8,512.3 157.9,509.0 155.4,505.6 153.1,502.1 151.0,498.7 149.1,495.2 147.3,491.7 145.8,488.3 144.4,484.8 143.3,481.2 142.4,477.7 141.7,474.1 141.2,470.6 140.8,467.1 140.5,463.5 140.3,460.0 140.2,456.4 140.1,452.8 140.1,449.2 140.3,445.5 140.8,441.7 141.5,438.0 142.6,434.3 143.9,430.6 145.5,426.9 147.3,423.3 149.3,419.7 151.7,416.3 154.3,413.0 157.2,409.9 160.5,407.1 164.0,404.5 167.6,402.1 171.4,399.8 175.4,397.6 179.6,395.5 184.0,393.5 188.6,391.9 193.4,390.9 198.3,390.5 203.2,390.7 208.1,391.6 212.7,393.1 217.2,395.0 221.6,397.2 225.9,399.5 230.2,401.9 234.3,404.6 238.2,407.6 241.9,410.9 245.2,414.6 248.0,418.6 250.5,422.8 252.6,427.2 254.4,431.8 255.7,436.4 256.6,441.2 256.9,446.0 256.9,450.7 256.7,455.4Z" fill="#03ff26"/>
<path d="M254.7,460.0 254.7,464.5 254.7,468.9 254.5,473.5 254.0,478.1 253.1,482.6 251.8,487.1 250.1,491.4 248.1,495.7 245.8,499.8 243.3,503.9 240.5,507.8 237.4,511.5 233.8,514.7 229.8,517.5 225.5,519.7 221.0,521.5 216.5,523.1 211.9,524.4 207.3,525.5 202.7,526.4 198.0,526.9 193.3,526.7 188.7,525.8 184.2,524.4 179.9,522.9 175.8,521.1 171.8,519.2 168.0,517.0 164.5,514.4 161.3,511.4 158.5,508.2 155.9,504.9 153.6,501.5 151.6,498.1 149.7,494.7 147.9,491.3 146.4,487.9 145.1,484.4 143.9,481.0 143.0,477.5 142.3,474.0 141.8,470.5 141.4,467.0 141.1,463.5 140.9,460.0 140.8,456.5 140.7,452.9 140.7,449.3 140.9,445.6 141.3,441.9 142.0,438.2 143.1,434.5 144.5,430.9 146.1,427.3 147.9,423.8 149.9,420.3 152.3,417.0 154.9,413.8 157.8,410.8 161.0,408.0 164.4,405.4 168.0,403.1 171.8,400.9 175.7,398.7 179.8,396.7 184.1,394.8 188.7,393.3 193.4,392.3 198.2,391.9 203.0,392.1 207.7,393.0 212.3,394.4 216.7,396.3 221.0,398.4 225.2,400.7 229.3,403.2 233.2,406.0 236.9,409.0 240.3,412.4 243.4,416.1 246.0,420.0 248.3,424.2 250.3,428.5 252.0,432.8 253.3,437.3 254.2,441.9 254.7,446.5 254.8,451.0 254.8,455.5Z" fill="#11ff00"/>
<path d="M252.9,460.0 252.9,464.3 252.9,468.7 252.8,473.1 252.3,477.6 251.5,482.0 250.2,486.4 248.6,490.6 246.7,494.8 244.6,498.9 242.2,503.0 239.5,506.8 236.4,510.5 232.9,513.7 229.0,516.4 224.8,518.6 220.5,520.4 216.0,521.9 211.6,523.3 207.1,524.5 202.6,525.6 198.0,526.2 193.3,526.1 188.7,525.2 184.3,523.7 180.1,522.0 176.0,520.3 172.1,518.3 168.3,516.1 164.9,513.5 161.8,510.6 159.0,507.5 156.5,504.2 154.2,500.8 152.2,497.5 150.3,494.2 148.6,490.8 147.0,487.5 145.7,484.1 144.6,480.7 143.7,477.2 143.0,473.8 142.4,470.3 142.0,466.9 141.8,463.4 141.5,460.0 141.4,456.5 141.2,453.0 141.2,449.4 141.4,445.8 141.8,442.1 142.6,438.4 143.6,434.8 145.0,431.3 146.6,427.8 148.5,424.3 150.6,420.9 152.9,417.7 155.5,414.5 158.3,411.6 161.5,408.9 164.8,406.4 168.4,404.0 172.1,401.9 176.0,399.8 180.1,397.9 184.3,396.1 188.7,394.7 193.3,393.7 198.0,393.3 202.7,393.5 207.4,394.3 211.9,395.7 216.2,397.6 220.4,399.7 224.5,402.0 228.4,404.5 232.1,407.3 235.6,410.4 238.8,413.9 241.6,417.6 244.0,421.5 246.2,425.5 248.0,429.7 249.6,433.9 251.0,438.2 251.9,442.5 252.4,446.9 252.7,451.3 252.8,455.7Z" fill="#36ff00"/>
<path d="M251.0,460.0 251.1,464.2 251.1,468.5 251.0,472.8 250.6,477.1 249.8,481.4 248.6,485.7 247.1,489.8 245.4,494.0 243.4,498.0 241.1,502.0 238.5,505.9 235.5,509.5 232.1,512.6 228.3,515.3 224.2,517.5 219.9,519.3 215.6,520.8 211.2,522.2 206.8,523.5 202.4,524.7 197.9,525.5 193.3,525.5 188.7,524.5 184.4,522.9 180.2,521.2 176.2,519.4 172.3,517.5 168.7,515.2 165.3,512.7 162.3,509.8 159.5,506.7 157.0,503.5 154.8,500.2 152.8,496.9 150.9,493.6 149.2,490.4 147.7,487.1 146.3,483.8 145.2,480.4 144.3,477.0 143.6,473.6 143.1,470.2 142.7,466.8 142.4,463.4 142.1,460.0 142.0,456.6 141.8,453.1 141.8,449.5 141.9,445.9 142.3,442.3 143.1,438.7 144.2,435.1 145.6,431.6 147.2,428.2 149.1,424.8 151.2,421.5 153.5,418.3 156.1,415.3 158.9,412.4 162.0,409.7 165.3,407.3 168.8,405.0 172.4,402.9 176.3,400.9 180.3,399.1 184.4,397.4 188.8,396.1 193.3,395.2 197.9,394.8 202.5,394.9 207.0,395.7 211.4,397.1 215.7,398.9 219.8,400.9 223.7,403.3 227.5,405.9 231.1,408.7 234.3,411.9 237.2,415.3 239.8,419.1 242.0,422.9 244.0,426.9 245.8,430.9 247.3,434.9 248.6,439.0 249.5,443.2 250.2,447.4 250.6,451.6 250.9,455.8Z" fill="#5aff00"/>
<path d="M249.2,460.0 249.3,464.1 249.4,468.2 249.2,472.4 248.8,476.6 248.1,480.8 247.0,484.9 245.6,489.1 244.0,493.1 242.1,497.1 240.0,501.1 237.5,504.9 234.6,508.5 231.3,511.6 227.6,514.2 223.6,516.4 219.4,518.2 215.1,519.7 210.9,521.1 206.6,522.5 202.3,523.8 197.8,524.9 193.3,524.9 188.8,523.8 184.5,522.2 180.4,520.4 176.4,518.6 172.6,516.6 169.0,514.4 165.7,511.8 162.7,509.0 160.0,505.9 157.6,502.7 155.4,499.5 153.4,496.3 151.5,493.1 149.8,489.9 148.3,486.7 147.0,483.4 145.8,480.1 144.9,476.8 144.2,473.4 143.7,470.1 143.3,466.7 143.0,463.4 142.7,460.0 142.5,456.6 142.4,453.2 142.3,449.7 142.5,446.1 142.9,442.5 143.6,438.9 144.7,435.4 146.1,432.0 147.8,428.6 149.7,425.3 151.8,422.1 154.1,419.0 156.6,416.0 159.4,413.2 162.5,410.6 165.7,408.2 169.2,406.0 172.8,403.9 176.6,402.1 180.5,400.3 184.6,398.8 188.8,397.5 193.2,396.6 197.7,396.2 202.2,396.3 206.7,397.1 211.0,398.4 215.2,400.1 219.2,402.2 223.0,404.5 226.6,407.2 230.0,410.1 233.0,413.3 235.7,416.8 238.0,420.5 240.0,424.4 241.8,428.2 243.5,432.1 244.9,436.0 246.2,439.9 247.2,443.9 248.0,447.9 248.5,451.9 248.9,456.0Z" fill="#7fff00"/>
<path d="M247.3,460.0 247.5,464.0 247.6,468.0 247.5,472.0 247.1,476.1 246.4,480.2 245.4,484.2 244.2,488.3 242.6,492.3 240.9,496.2 238.9,500.2 236.5,503.9 233.7,507.5 230.5,510.6 226.9,513.2 222.9,515.3 218.8,517.1 214.7,518.6 210.5,520.0 206.3,521.5 202.1,523.0 197.7,524.2 193.2,524.3 188.8,523.2 184.5,521.4 180.5,519.6 176.6,517.7 172.9,515.7 169.4,513.5 166.1,511.0 163.2,508.1 160.6,505.1 158.2,502.0 156.0,498.9 154.0,495.8 152.1,492.6 150.4,489.5 148.9,486.3 147.6,483.1 146.5,479.8 145.6,476.5 144.9,473.2 144.3,469.9 143.9,466.6 143.6,463.3 143.4,460.0 143.1,456.7 143.0,453.2 142.9,449.8 143.0,446.2 143.4,442.7 144.1,439.1 145.2,435.7 146.7,432.3 148.4,429.0 150.3,425.8 152.4,422.7 154.7,419.7 157.2,416.8 160.0,414.0 163.0,411.4 166.2,409.1 169.6,406.9 173.1,405.0 176.8,403.2 180.7,401.5 184.7,400.1 188.9,398.9 193.2,398.0 197.6,397.6 202.0,397.7 206.3,398.5 210.6,399.7 214.7,401.4 218.6,403.5 222.3,405.8 225.8,408.5 228.9,411.4 231.7,414.8 234.2,418.3 236.2,422.0 238.0,425.8 239.7,429.6 241.2,433.3 242.6,437.0 243.8,440.8 244.9,444.6 245.7,448.4 246.4,452.2 246.9,456.1Z" fill="#a2ff00"/>
<path d="M246.0,460.0 246.2,463.9 246.2,467.8 246.1,471.7 245.7,475.7 245.0,479.7 244.0,483.6 242.8,487.5 241.3,491.5 239.7,495.4 237.7,499.2 235.4,502.9 232.7,506.3 229.6,509.4 226.1,512.0 222.2,514.1 218.3,515.9 214.2,517.4 210.1,518.9 206.0,520.3 201.9,521.8 197.6,523.0 193.2,523.2 188.8,522.1 184.7,520.4 180.7,518.6 176.9,516.7 173.2,514.8 169.8,512.6 166.6,510.1 163.7,507.3 161.1,504.4 158.7,501.4 156.5,498.3 154.5,495.2 152.7,492.1 151.1,489.0 149.6,485.9 148.3,482.7 147.2,479.5 146.3,476.3 145.6,473.0 145.1,469.8 144.7,466.5 144.4,463.3 144.1,460.0 143.9,456.7 143.8,453.4 143.7,449.9 143.8,446.5 144.2,443.0 144.9,439.5 146.0,436.1 147.4,432.8 149.1,429.6 151.0,426.4 153.0,423.3 155.3,420.4 157.8,417.5 160.5,414.8 163.5,412.3 166.6,410.0 170.0,408.0 173.5,406.0 177.1,404.3 180.9,402.7 184.8,401.4 188.9,400.2 193.1,399.4 197.4,399.0 201.7,399.2 206.0,399.9 210.1,401.1 214.1,402.7 217.9,404.7 221.6,407.1 225.0,409.7 228.0,412.6 230.8,415.8 233.1,419.4 235.1,423.0 236.8,426.8 238.3,430.5 239.7,434.1 241.1,437.7 242.3,441.3 243.3,445.0 244.3,448.7 245.0,452.4 245.6,456.2Z" fill="#c2ff00"/>
<path d="M245.0,460.0 245.2,463.8 245.2,467.6 244.9,471.5 244.4,475.3 243.7,479.2 242.7,483.0 241.5,486.8 240.1,490.7 238.4,494.5 236.5,498.2 234.3,501.8 231.6,505.1 228.6,508.1 225.2,510.7 221.5,512.8 217.6,514.6 213.7,516.2 209.7,517.7 205.7,519.1 201.7,520.5 197.5,521.6 193.2,521.8 188.9,520.8 184.8,519.2 180.9,517.5 177.1,515.7 173.5,513.8 170.2,511.6 167.0,509.1 164.2,506.5 161.6,503.6 159.2,500.7 157.0,497.7 155.1,494.7 153.3,491.6 151.8,488.5 150.4,485.4 149.1,482.3 148.1,479.1 147.2,475.9 146.5,472.8 146.0,469.6 145.6,466.4 145.3,463.2 145.1,460.0 144.9,456.8 144.7,453.5 144.7,450.2 144.9,446.8 145.2,443.3 145.9,439.9 147.0,436.6 148.3,433.3 149.9,430.1 151.7,427.0 153.7,424.0 155.9,421.0 158.4,418.3 161.1,415.7 164.0,413.3 167.1,411.0 170.4,409.0 173.8,407.2 177.4,405.5 181.1,403.9 185.0,402.6 189.0,401.5 193.1,400.7 197.3,400.4 201.5,400.6 205.6,401.3 209.7,402.5 213.6,404.1 217.3,406.1 220.9,408.3 224.2,410.8 227.3,413.6 230.0,416.7 232.3,420.1 234.3,423.7 235.9,427.4 237.4,431.0 238.8,434.6 240.1,438.1 241.3,441.7 242.4,445.3 243.3,448.9 244.0,452.5 244.6,456.3Z" fill="#deff00"/>
<path d="M244.0,460.0 244.1,463.7 244.1,467.5 243.8,471.2 243.2,475.0 242.4,478.7 241.4,482.4 240.2,486.2 238.8,489.9 237.2,493.6 235.3,497.2 233.1,500.7 230.6,503.9 227.6,506.9 224.3,509.4 220.7,511.5 217.0,513.3 213.2,515.0 209.3,516.4 205.4,517.8 201.4,519.2 197.3,520.2 193.1,520.3 188.9,519.4 184.9,518.0 181.1,516.3 177.4,514.6 173.9,512.7 170.6,510.6 167.5,508.2 164.7,505.6 162.1,502.9 159.7,500.1 157.5,497.2 155.6,494.2 153.9,491.1 152.4,488.0 151.1,484.9 149.9,481.8 148.9,478.7 148.1,475.6 147.4,472.5 146.9,469.4 146.5,466.3 146.2,463.1 146.0,460.0 145.8,456.8 145.7,453.6 145.7,450.4 145.9,447.1 146.3,443.7 147.0,440.4 147.9,437.1 149.2,433.9 150.7,430.7 152.4,427.6 154.3,424.6 156.5,421.7 159.0,419.0 161.7,416.5 164.5,414.2 167.6,412.0 170.8,410.1 174.2,408.3 177.7,406.6 181.3,405.1 185.1,403.8 189.0,402.8 193.0,402.0 197.1,401.8 201.2,402.0 205.3,402.7 209.2,403.9 213.0,405.5 216.7,407.4 220.2,409.5 223.4,411.9 226.5,414.6 229.2,417.6 231.6,420.8 233.5,424.3 235.1,427.9 236.6,431.5 237.9,435.0 239.2,438.5 240.4,442.0 241.4,445.5 242.3,449.1 243.1,452.7 243.6,456.3Z" fill="#faff00"/>
<path d="M243.0,460.0 243.1,463.6 243.0,467.3 242.6,471.0 242.0,474.6 241.1,478.2 240.1,481.9 238.9,485.5 237.5,489.1 236.0,492.7 234.1,496.2 232.0,499.6 229.5,502.8 226.6,505.6 223.4,508.1 220.0,510.2 216.4,512.1 212.7,513.7 208.9,515.2 205.1,516.6 201.2,517.9 197.2,518.8 193.1,518.9 189.0,518.1 185.0,516.8 181.3,515.2 177.6,513.6 174.2,511.7 171.0,509.6 167.9,507.3 165.1,504.8 162.6,502.1 160.2,499.4 158.0,496.6 156.1,493.7 154.5,490.6 153.1,487.5 151.8,484.5 150.7,481.4 149.8,478.4 149.0,475.3 148.3,472.2 147.8,469.2 147.4,466.1 147.1,463.1 146.9,460.0 146.7,456.9 146.7,453.8 146.7,450.6 146.9,447.4 147.3,444.1 148.0,440.8 148.9,437.6 150.1,434.4 151.5,431.3 153.1,428.2 155.0,425.2 157.1,422.4 159.5,419.7 162.2,417.3 165.1,415.1 168.1,413.0 171.3,411.1 174.6,409.4 178.0,407.8 181.5,406.3 185.2,405.1 189.0,404.1 193.0,403.4 197.0,403.1 201.0,403.4 204.9,404.2 208.8,405.3 212.5,406.9 216.0,408.7 219.4,410.7 222.7,413.0 225.7,415.6 228.4,418.4 230.8,421.6 232.7,425.0 234.3,428.5 235.7,432.1 237.0,435.5 238.3,438.9 239.5,442.4 240.5,445.8 241.4,449.3 242.1,452.8 242.7,456.4Z" fill="#ffe601"/>
<path d="M242.0,460.0 242.1,463.6 241.9,467.2 241.4,470.7 240.7,474.3 239.8,477.8 238.8,481.3 237.6,484.8 236.2,488.3 234.7,491.8 233.0,495.2 230.9,498.5 228.4,501.6 225.6,504.3 222.5,506.8 219.2,508.9 215.8,510.8 212.2,512.5 208.5,514.0 204.8,515.4 201.0,516.5 197.0,517.4 193.0,517.5 189.0,516.8 185.2,515.5 181.5,514.1 177.9,512.5 174.5,510.7 171.4,508.6 168.4,506.4 165.6,503.9 163.1,501.4 160.7,498.8 158.6,496.0 156.7,493.2 155.1,490.1 153.8,487.1 152.6,484.0 151.5,481.0 150.6,478.0 149.8,475.0 149.2,472.0 148.7,469.0 148.3,466.0 148.0,463.0 147.8,460.0 147.7,457.0 147.6,453.9 147.7,450.8 147.9,447.7 148.3,444.5 149.0,441.3 149.9,438.1 151.0,435.0 152.3,431.9 153.8,428.8 155.6,425.8 157.7,423.0 160.1,420.5 162.8,418.2 165.6,416.0 168.6,414.0 171.7,412.2 174.9,410.5 178.3,409.0 181.8,407.5 185.4,406.3 189.1,405.3 192.9,404.7 196.8,404.5 200.7,404.8 204.6,405.6 208.3,406.7 211.9,408.2 215.4,410.0 218.7,412.0 221.9,414.1 224.9,416.6 227.7,419.3 230.0,422.3 231.9,425.7 233.5,429.1 234.8,432.6 236.1,436.0 237.4,439.4 238.5,442.7 239.5,446.1 240.4,449.5 241.2,452.9 241.7,456.5Z" fill="#ffc509"/>
<path d="M241.1,460.0 241.1,463.5 240.8,467.0 240.3,470.5 239.5,473.9 238.6,477.3 237.5,480.7 236.3,484.1 235.0,487.5 233.5,490.9 231.8,494.2 229.7,497.4 227.3,500.4 224.6,503.1 221.7,505.5 218.5,507.6 215.2,509.5 211.7,511.3 208.2,512.8 204.5,514.1 200.7,515.2 196.9,516.0 193.0,516.1 189.1,515.4 185.3,514.3 181.7,513.0 178.2,511.4 174.9,509.6 171.8,507.6 168.8,505.4 166.1,503.1 163.6,500.6 161.2,498.1 159.1,495.5 157.2,492.6 155.7,489.6 154.4,486.6 153.3,483.5 152.3,480.6 151.5,477.6 150.7,474.7 150.1,471.7 149.6,468.8 149.2,465.9 148.9,462.9 148.7,460.0 148.6,457.0 148.6,454.0 148.7,451.0 149.0,447.9 149.4,444.8 150.0,441.7 150.8,438.6 151.9,435.6 153.1,432.5 154.6,429.4 156.3,426.4 158.3,423.7 160.7,421.2 163.3,419.0 166.1,416.9 169.1,415.0 172.1,413.3 175.3,411.6 178.6,410.1 182.0,408.8 185.5,407.6 189.1,406.6 192.9,406.0 196.7,405.9 200.5,406.2 204.2,407.0 207.8,408.2 211.4,409.6 214.8,411.3 218.0,413.2 221.2,415.3 224.2,417.6 226.9,420.1 229.3,423.1 231.2,426.3 232.7,429.7 234.0,433.1 235.2,436.5 236.5,439.8 237.6,443.0 238.6,446.4 239.5,449.7 240.2,453.1 240.8,456.5Z" fill="#ffa610"/>
<path d="M240.1,460.0 240.1,463.4 239.7,466.8 239.1,470.2 238.3,473.6 237.3,476.8 236.1,480.1 235.0,483.4 233.7,486.7 232.3,490.0 230.6,493.2 228.6,496.3 226.3,499.2 223.7,501.8 220.8,504.2 217.7,506.3 214.5,508.3 211.2,510.0 207.8,511.6 204.2,512.9 200.5,513.9 196.7,514.5 192.9,514.6 189.1,514.1 185.4,513.1 181.9,511.9 178.4,510.4 175.2,508.6 172.2,506.7 169.3,504.5 166.6,502.3 164.1,499.9 161.7,497.5 159.6,494.9 157.7,492.1 156.3,489.1 155.1,486.1 154.1,483.1 153.1,480.1 152.3,477.2 151.6,474.3 151.0,471.5 150.5,468.6 150.1,465.8 149.8,462.9 149.6,460.0 149.6,457.1 149.6,454.2 149.7,451.2 150.0,448.2 150.4,445.2 151.0,442.2 151.8,439.2 152.8,436.1 153.9,433.1 155.3,430.0 156.9,427.1 158.9,424.4 161.3,422.0 163.9,419.8 166.7,417.9 169.6,416.0 172.6,414.3 175.6,412.8 178.9,411.3 182.2,410.0 185.6,408.8 189.2,407.9 192.8,407.4 196.5,407.3 200.2,407.6 203.9,408.4 207.4,409.6 210.8,411.0 214.1,412.6 217.3,414.4 220.4,416.4 223.4,418.6 226.1,421.0 228.5,423.8 230.4,427.0 231.8,430.3 233.1,433.7 234.4,436.9 235.5,440.2 236.6,443.4 237.6,446.6 238.5,449.9 239.3,453.2 239.8,456.6Z" fill="#ff8c10"/>
<path d="M239.1,460.0 239.0,463.4 238.6,466.7 237.9,470.0 237.0,473.2 236.0,476.4 234.8,479.5 233.6,482.7 232.4,485.9 231.0,489.1 229.4,492.2 227.5,495.2 225.2,498.0 222.7,500.5 219.9,502.9 217.0,505.0 213.9,507.0 210.7,508.8 207.4,510.4 203.9,511.6 200.3,512.6 196.6,513.1 192.9,513.2 189.2,512.8 185.5,511.9 182.0,510.8 178.7,509.3 175.5,507.6 172.6,505.7 169.7,503.6 167.1,501.4 164.6,499.1 162.2,496.8 160.1,494.3 158.3,491.6 156.9,488.7 155.8,485.6 154.8,482.6 153.9,479.7 153.1,476.9 152.5,474.0 151.9,471.2 151.4,468.4 151.0,465.6 150.7,462.8 150.5,460.0 150.5,457.2 150.6,454.3 150.7,451.4 151.0,448.5 151.4,445.6 152.0,442.6 152.8,439.7 153.7,436.7 154.7,433.7 156.0,430.6 157.5,427.7 159.5,425.0 161.9,422.7 164.5,420.7 167.2,418.8 170.0,417.0 173.0,415.4 176.0,413.9 179.1,412.4 182.4,411.2 185.7,410.0 189.2,409.2 192.8,408.7 196.4,408.6 200.0,409.1 203.5,409.9 206.9,411.0 210.3,412.4 213.5,413.9 216.6,415.6 219.7,417.5 222.6,419.6 225.3,421.9 227.7,424.5 229.6,427.6 231.0,430.9 232.3,434.2 233.5,437.4 234.6,440.6 235.7,443.7 236.7,446.9 237.6,450.1 238.3,453.4 238.8,456.7Z" fill="#ff7210"/>
<path d="M238.1,460.0 238.0,463.3 237.5,466.5 236.8,469.7 235.8,472.8 234.7,475.9 233.5,478.9 232.3,482.0 231.1,485.1 229.8,488.2 228.2,491.2 226.3,494.1 224.1,496.8 221.7,499.3 219.0,501.6 216.2,503.7 213.3,505.7 210.2,507.6 207.0,509.1 203.6,510.4 200.0,511.2 196.4,511.7 192.8,511.8 189.2,511.4 185.7,510.7 182.2,509.6 179.0,508.2 175.9,506.6 172.9,504.7 170.2,502.7 167.6,500.6 165.1,498.4 162.8,496.2 160.6,493.8 158.8,491.1 157.4,488.2 156.4,485.1 155.5,482.2 154.7,479.3 154.0,476.5 153.3,473.7 152.8,471.0 152.3,468.2 151.9,465.5 151.6,462.8 151.5,460.0 151.4,457.2 151.5,454.5 151.7,451.7 152.0,448.8 152.5,446.0 153.0,443.1 153.7,440.2 154.6,437.2 155.5,434.2 156.7,431.2 158.2,428.3 160.1,425.7 162.4,423.4 165.0,421.5 167.7,419.7 170.5,418.0 173.4,416.5 176.4,415.0 179.4,413.6 182.6,412.4 185.9,411.3 189.3,410.5 192.7,410.0 196.3,410.0 199.7,410.5 203.1,411.3 206.5,412.4 209.7,413.7 212.8,415.2 215.9,416.9 218.9,418.6 221.8,420.6 224.6,422.7 227.0,425.3 228.8,428.3 230.2,431.5 231.4,434.8 232.6,437.9 233.7,441.0 234.8,444.1 235.7,447.2 236.6,450.3 237.3,453.5 237.9,456.7Z" fill="#ff5410"/>
<path d="M237.1,460.0 237.0,463.2 236.4,466.4 235.6,469.5 234.6,472.5 233.4,475.4 232.2,478.3 231.0,481.3 229.9,484.3 228.6,487.3 227.0,490.2 225.2,493.0 223.1,495.6 220.7,498.0 218.2,500.3 215.5,502.4 212.7,504.5 209.7,506.3 206.6,507.9 203.3,509.1 199.8,509.9 196.3,510.3 192.8,510.3 189.3,510.1 185.8,509.5 182.4,508.5 179.2,507.2 176.2,505.5 173.3,503.7 170.6,501.7 168.1,499.7 165.6,497.7 163.3,495.5 161.1,493.2 159.3,490.6 158.0,487.7 157.1,484.6 156.3,481.7 155.5,478.9 154.8,476.1 154.2,473.4 153.6,470.7 153.2,468.0 152.8,465.4 152.5,462.7 152.4,460.0 152.4,457.3 152.5,454.6 152.7,451.9 153.1,449.1 153.5,446.4 154.0,443.5 154.7,440.7 155.4,437.8 156.3,434.8 157.4,431.8 158.8,428.9 160.7,426.3 163.0,424.2 165.6,422.3 168.3,420.6 171.0,419.0 173.8,417.5 176.7,416.1 179.7,414.8 182.8,413.6 186.0,412.5 189.3,411.8 192.7,411.4 196.1,411.4 199.5,411.9 202.8,412.7 206.0,413.8 209.1,415.1 212.2,416.5 215.2,418.1 218.2,419.7 221.0,421.5 223.8,423.6 226.2,426.0 228.0,428.9 229.4,432.1 230.5,435.3 231.7,438.4 232.8,441.4 233.8,444.4 234.8,447.4 235.7,450.5 236.4,453.6 236.9,456.8Z" fill="#ff2e10"/>
<path d="M235.6,460.0 235.4,463.1 234.9,466.2 234.1,469.2 233.1,472.1 232.0,474.9 230.8,477.7 229.7,480.6 228.6,483.5 227.3,486.4 225.9,489.3 224.1,492.0 222.1,494.5 219.8,496.9 217.4,499.1 214.8,501.3 212.1,503.3 209.2,505.1 206.2,506.7 202.9,507.9 199.6,508.7 196.2,509.1 192.7,509.1 189.3,508.9 185.9,508.4 182.6,507.5 179.5,506.2 176.5,504.6 173.7,502.9 171.0,501.0 168.5,499.0 166.0,497.0 163.7,494.9 161.7,492.6 159.9,490.0 158.7,487.1 157.8,484.1 157.0,481.2 156.4,478.4 155.7,475.7 155.1,473.1 154.6,470.4 154.2,467.8 153.8,465.2 153.6,462.6 153.5,460.0 153.5,457.4 153.6,454.7 153.9,452.1 154.2,449.4 154.6,446.8 155.1,444.0 155.8,441.3 156.5,438.4 157.3,435.5 158.4,432.6 159.7,429.8 161.5,427.2 163.7,425.0 166.2,423.2 168.8,421.5 171.4,419.9 174.2,418.4 177.0,417.0 179.9,415.7 183.0,414.5 186.1,413.5 189.4,412.8 192.7,412.5 196.0,412.5 199.3,413.1 202.5,414.0 205.6,415.1 208.6,416.4 211.6,417.8 214.4,419.4 217.3,421.0 220.0,422.8 222.7,424.8 225.0,427.2 226.8,430.0 228.1,433.1 229.2,436.1 230.3,439.1 231.4,442.0 232.4,444.9 233.3,447.9 234.1,450.8 234.9,453.8 235.4,456.9Z" fill="#ff1010"/>
<path d="M233.9,460.0 233.7,463.0 233.3,465.9 232.5,468.8 231.6,471.6 230.5,474.4 229.4,477.1 228.4,479.9 227.3,482.7 226.1,485.5 224.7,488.3 223.0,490.9 221.1,493.4 218.9,495.8 216.6,498.0 214.2,500.1 211.5,502.1 208.7,503.9 205.8,505.5 202.6,506.7 199.4,507.5 196.0,507.9 192.7,508.0 189.3,507.8 186.0,507.3 182.8,506.5 179.7,505.3 176.8,503.8 174.0,502.1 171.4,500.3 168.8,498.4 166.5,496.4 164.2,494.3 162.2,492.0 160.6,489.4 159.4,486.5 158.5,483.6 157.8,480.7 157.2,478.0 156.6,475.3 156.1,472.7 155.6,470.1 155.2,467.6 154.9,465.1 154.7,462.5 154.6,460.0 154.7,457.5 154.8,454.9 155.0,452.4 155.4,449.8 155.8,447.2 156.3,444.5 156.9,441.8 157.6,439.1 158.4,436.3 159.4,433.4 160.6,430.7 162.3,428.1 164.4,426.0 166.8,424.1 169.3,422.3 171.8,420.7 174.5,419.2 177.3,417.8 180.2,416.5 183.1,415.4 186.2,414.4 189.4,413.8 192.6,413.5 195.9,413.6 199.1,414.2 202.2,415.1 205.2,416.3 208.1,417.6 210.9,419.1 213.7,420.7 216.4,422.4 219.0,424.2 221.5,426.2 223.7,428.5 225.3,431.2 226.6,434.1 227.7,437.1 228.8,439.9 229.8,442.7 230.8,445.5 231.7,448.3 232.5,451.2 233.2,454.1 233.6,457.0Z" fill="#ff1010"/>
<path d="M232.1,460.0 232.0,462.9 231.6,465.7 230.9,468.5 230.0,471.2 229.1,473.9 228.0,476.5 227.0,479.2 226.0,481.9 224.9,484.6 223.6,487.3 222.0,489.9 220.1,492.3 218.1,494.6 215.9,496.8 213.5,498.9 211.0,500.9 208.3,502.7 205.4,504.3 202.3,505.4 199.2,506.2 195.9,506.7 192.6,506.8 189.4,506.7 186.1,506.3 183.0,505.5 179.9,504.3 177.1,502.9 174.3,501.3 171.7,499.6 169.2,497.7 166.9,495.8 164.7,493.7 162.8,491.4 161.2,488.8 160.1,485.9 159.3,483.0 158.6,480.2 158.0,477.5 157.5,474.9 157.0,472.4 156.6,469.9 156.3,467.4 156.0,464.9 155.9,462.5 155.8,460.0 155.8,457.5 156.0,455.1 156.2,452.6 156.5,450.1 156.9,447.6 157.4,445.0 158.0,442.4 158.6,439.8 159.4,437.1 160.4,434.3 161.6,431.6 163.2,429.1 165.1,426.9 167.4,425.0 169.8,423.2 172.2,421.5 174.8,420.0 177.5,418.6 180.4,417.3 183.3,416.2 186.3,415.3 189.4,414.7 192.6,414.5 195.8,414.7 198.9,415.3 201.9,416.3 204.8,417.5 207.6,418.9 210.3,420.4 212.9,422.1 215.4,423.8 217.9,425.6 220.3,427.5 222.3,429.8 223.9,432.4 225.1,435.2 226.2,438.0 227.2,440.7 228.2,443.4 229.2,446.1 230.0,448.8 230.8,451.5 231.4,454.3 231.9,457.1Z" fill="#ff1010"/>
<path d="M230.4,460.0 230.3,462.7 229.9,465.5 229.3,468.1 228.5,470.8 227.6,473.3 226.7,475.9 225.7,478.5 224.7,481.1 223.7,483.7 222.4,486.3 220.9,488.9 219.1,491.2 217.2,493.5 215.1,495.7 212.8,497.8 210.4,499.7 207.8,501.5 205.0,503.0 202.0,504.2 198.9,505.0 195.8,505.5 192.6,505.7 189.4,505.6 186.2,505.2 183.2,504.5 180.2,503.4 177.3,502.1 174.6,500.5 172.0,498.9 169.6,497.1 167.3,495.1 165.2,493.0 163.3,490.8 161.8,488.2 160.8,485.4 160.0,482.5 159.4,479.7 158.9,477.1 158.4,474.5 158.0,472.0 157.6,469.6 157.4,467.2 157.1,464.8 157.0,462.4 156.9,460.0 157.0,457.6 157.2,455.2 157.4,452.9 157.7,450.5 158.1,448.0 158.5,445.5 159.1,443.0 159.7,440.5 160.5,437.8 161.4,435.1 162.5,432.5 164.0,430.0 165.9,427.8 168.0,425.9 170.2,424.0 172.6,422.4 175.2,420.8 177.8,419.4 180.6,418.1 183.4,417.1 186.4,416.2 189.5,415.7 192.6,415.5 195.6,415.8 198.7,416.5 201.6,417.5 204.4,418.7 207.1,420.2 209.7,421.7 212.1,423.4 214.5,425.1 216.8,426.9 219.0,428.9 221.0,431.0 222.5,433.6 223.7,436.3 224.7,438.9 225.7,441.6 226.7,444.1 227.6,446.7 228.4,449.3 229.1,451.9 229.7,454.6 230.2,457.3Z" fill="#ff1010"/>
<path d="M228.7,460.0 228.6,462.6 228.3,465.2 227.7,467.8 227.0,470.3 226.1,472.8 225.3,475.3 224.4,477.8 223.5,480.3 222.4,482.8 221.2,485.4 219.8,487.8 218.2,490.2 216.3,492.4 214.3,494.6 212.2,496.6 209.8,498.6 207.3,500.3 204.6,501.8 201.7,503.0 198.7,503.8 195.7,504.3 192.6,504.5 189.4,504.5 186.4,504.1 183.3,503.5 180.4,502.5 177.6,501.2 174.9,499.8 172.4,498.2 170.0,496.4 167.7,494.5 165.7,492.4 163.9,490.1 162.4,487.6 161.4,484.8 160.8,482.0 160.2,479.2 159.7,476.6 159.3,474.1 159.0,471.7 158.7,469.3 158.4,466.9 158.2,464.6 158.1,462.3 158.1,460.0 158.2,457.7 158.3,455.4 158.6,453.1 158.9,450.8 159.2,448.4 159.7,446.1 160.2,443.6 160.8,441.1 161.5,438.6 162.4,436.0 163.4,433.4 164.8,430.9 166.6,428.7 168.6,426.7 170.7,424.9 173.0,423.2 175.5,421.6 178.1,420.2 180.8,418.9 183.6,417.9 186.5,417.1 189.5,416.6 192.5,416.5 195.5,416.9 198.5,417.6 201.3,418.7 204.0,420.0 206.6,421.4 209.0,423.0 211.4,424.7 213.6,426.5 215.8,428.3 217.8,430.2 219.6,432.3 221.1,434.8 222.2,437.3 223.2,439.9 224.2,442.4 225.1,444.8 225.9,447.3 226.7,449.8 227.4,452.3 228.0,454.8 228.5,457.4Z" fill="#ff1010"/>
<path d="M226.9,460.0 226.9,462.5 226.6,465.0 226.1,467.5 225.4,469.9 224.7,472.3 223.9,474.6 223.1,477.0 222.2,479.5 221.2,482.0 220.1,484.4 218.7,486.8 217.2,489.1 215.5,491.3 213.6,493.4 211.5,495.5 209.2,497.4 206.8,499.1 204.2,500.6 201.4,501.8 198.5,502.6 195.5,503.1 192.5,503.4 189.5,503.4 186.5,503.1 183.5,502.4 180.6,501.5 177.9,500.4 175.2,499.0 172.7,497.5 170.4,495.8 168.1,493.9 166.1,491.8 164.4,489.5 163.1,487.0 162.1,484.2 161.5,481.4 161.0,478.8 160.6,476.2 160.2,473.7 159.9,471.3 159.7,469.0 159.5,466.7 159.3,464.5 159.3,462.2 159.3,460.0 159.4,457.8 159.5,455.6 159.7,453.4 160.0,451.1 160.4,448.9 160.8,446.6 161.3,444.2 161.9,441.8 162.5,439.3 163.3,436.8 164.4,434.3 165.7,431.9 167.3,429.7 169.2,427.6 171.2,425.7 173.4,424.0 175.8,422.4 178.3,421.0 181.0,419.8 183.7,418.8 186.6,418.0 189.5,417.6 192.5,417.6 195.4,418.0 198.3,418.7 201.0,419.8 203.6,421.2 206.1,422.7 208.4,424.4 210.6,426.1 212.7,427.8 214.7,429.7 216.6,431.6 218.3,433.6 219.7,435.9 220.8,438.4 221.7,440.8 222.6,443.2 223.5,445.5 224.3,447.9 225.1,450.2 225.8,452.6 226.3,455.0 226.7,457.5Z" fill="#ff1010"/>
<path d="M225.2,460.0 225.2,462.4 224.9,464.8 224.5,467.1 223.9,469.4 223.2,471.7 222.5,474.0 221.7,476.3 220.9,478.7 220.0,481.1 218.9,483.4 217.7,485.7 216.2,488.0 214.6,490.2 212.8,492.3 210.8,494.3 208.7,496.2 206.3,497.9 203.8,499.4 201.1,500.5 198.3,501.4 195.4,501.9 192.5,502.2 189.5,502.2 186.6,502.0 183.7,501.4 180.9,500.6 178.2,499.5 175.6,498.2 173.1,496.7 170.7,495.1 168.6,493.3 166.6,491.2 165.0,488.9 163.7,486.4 162.8,483.6 162.2,480.9 161.8,478.3 161.4,475.7 161.1,473.3 160.9,471.0 160.7,468.7 160.5,466.5 160.4,464.3 160.4,462.1 160.4,460.0 160.5,457.9 160.7,455.7 160.9,453.6 161.2,451.5 161.5,449.3 161.9,447.1 162.4,444.8 163.0,442.5 163.6,440.1 164.3,437.6 165.3,435.2 166.5,432.8 168.0,430.6 169.8,428.5 171.7,426.6 173.8,424.8 176.1,423.2 178.6,421.8 181.2,420.6 183.9,419.6 186.7,418.9 189.6,418.6 192.4,418.6 195.3,419.0 198.1,419.9 200.7,421.0 203.2,422.4 205.6,424.0 207.8,425.7 209.8,427.4 211.8,429.2 213.6,431.0 215.4,432.9 217.0,434.9 218.3,437.1 219.3,439.4 220.2,441.7 221.1,444.0 222.0,446.2 222.7,448.4 223.5,450.7 224.1,453.0 224.6,455.3 225.0,457.6Z" fill="#fc1010"/>
<path d="M223.5,460.0 223.5,462.3 223.3,464.5 222.9,466.8 222.4,469.0 221.8,471.2 221.1,473.4 220.4,475.6 219.6,477.9 218.8,480.2 217.8,482.5 216.6,484.7 215.2,486.9 213.7,489.1 212.0,491.2 210.2,493.2 208.1,495.0 205.8,496.7 203.4,498.1 200.8,499.3 198.1,500.2 195.3,500.8 192.4,501.1 189.6,501.1 186.7,500.9 183.9,500.4 181.1,499.7 178.4,498.6 175.9,497.4 173.4,496.0 171.1,494.5 169.0,492.6 167.1,490.6 165.5,488.3 164.3,485.8 163.5,483.1 163.0,480.4 162.6,477.8 162.2,475.3 162.0,472.9 161.8,470.6 161.7,468.4 161.6,466.3 161.5,464.1 161.5,462.1 161.6,460.0 161.7,458.0 161.9,455.9 162.1,453.9 162.4,451.8 162.7,449.7 163.1,447.6 163.5,445.4 164.0,443.1 164.6,440.8 165.3,438.5 166.2,436.1 167.4,433.7 168.7,431.5 170.4,429.4 172.2,427.4 174.2,425.6 176.5,424.0 178.8,422.6 181.4,421.4 184.0,420.5 186.8,419.8 189.6,419.5 192.4,419.6 195.2,420.1 197.9,421.0 200.4,422.2 202.8,423.6 205.0,425.2 207.1,427.0 209.0,428.7 210.9,430.6 212.6,432.4 214.2,434.2 215.6,436.2 216.8,438.3 217.8,440.5 218.7,442.7 219.6,444.8 220.4,446.9 221.1,449.0 221.8,451.2 222.4,453.3 222.9,455.5 223.3,457.7Z" fill="#ed1010"/>
<path d="M221.8,460.0 221.8,462.2 221.6,464.3 221.3,466.4 220.8,468.6 220.3,470.7 219.7,472.8 219.1,474.9 218.3,477.1 217.5,479.3 216.6,481.5 215.5,483.7 214.3,485.8 212.9,488.0 211.3,490.0 209.5,492.0 207.5,493.9 205.3,495.5 203.0,496.9 200.5,498.1 197.9,499.0 195.2,499.6 192.4,499.9 189.6,500.0 186.8,499.9 184.1,499.4 181.3,498.7 178.7,497.8 176.2,496.7 173.8,495.3 171.5,493.8 169.4,492.0 167.6,490.0 166.1,487.7 165.0,485.1 164.2,482.5 163.7,479.8 163.3,477.3 163.1,474.8 162.9,472.5 162.8,470.3 162.7,468.1 162.6,466.0 162.6,464.0 162.7,462.0 162.7,460.0 162.9,458.0 163.0,456.1 163.3,454.1 163.5,452.1 163.8,450.1 164.2,448.1 164.6,446.0 165.1,443.8 165.7,441.6 166.3,439.3 167.2,437.0 168.2,434.7 169.5,432.4 171.0,430.3 172.7,428.3 174.6,426.4 176.8,424.8 179.1,423.4 181.6,422.2 184.2,421.3 186.9,420.7 189.6,420.5 192.4,420.6 195.1,421.2 197.7,422.1 200.1,423.4 202.4,424.9 204.5,426.5 206.5,428.3 208.3,430.1 209.9,431.9 211.5,433.7 213.0,435.6 214.3,437.5 215.4,439.5 216.4,441.6 217.2,443.6 218.0,445.6 218.8,447.6 219.5,449.6 220.2,451.6 220.7,453.7 221.2,455.8 221.6,457.9Z" fill="#db1010"/>
<path d="M220.0,460.0 220.1,462.0 219.9,464.1 219.7,466.1 219.3,468.1 218.8,470.1 218.3,472.2 217.7,474.2 217.1,476.3 216.3,478.4 215.4,480.5 214.4,482.6 213.3,484.8 212.0,486.9 210.5,488.9 208.8,490.9 206.9,492.7 204.9,494.3 202.6,495.7 200.2,496.8 197.7,497.7 195.0,498.4 192.4,498.8 189.6,498.9 186.9,498.8 184.2,498.4 181.6,497.8 179.0,496.9 176.5,495.9 174.1,494.6 171.9,493.1 169.8,491.4 168.0,489.4 166.6,487.1 165.6,484.5 164.9,481.9 164.4,479.3 164.1,476.8 163.9,474.4 163.8,472.1 163.7,469.9 163.7,467.8 163.7,465.8 163.7,463.8 163.8,461.9 163.9,460.0 164.0,458.1 164.2,456.2 164.4,454.4 164.7,452.5 165.0,450.5 165.3,448.6 165.7,446.6 166.2,444.5 166.7,442.4 167.3,440.1 168.1,437.9 169.0,435.6 170.2,433.4 171.6,431.2 173.2,429.1 175.0,427.3 177.1,425.6 179.4,424.2 181.8,423.0 184.3,422.2 187.0,421.6 189.7,421.4 192.3,421.7 195.0,422.3 197.5,423.3 199.8,424.6 202.0,426.1 204.0,427.8 205.8,429.6 207.5,431.4 209.0,433.3 210.4,435.1 211.8,436.9 213.0,438.8 214.0,440.7 214.9,442.6 215.7,444.5 216.5,446.4 217.2,448.3 217.9,450.2 218.5,452.1 219.1,454.0 219.5,456.0 219.8,458.0Z" fill="#ca1010"/>
<path d="M218.3,460.0 218.4,461.9 218.3,463.8 218.1,465.8 217.8,467.7 217.4,469.6 216.9,471.5 216.4,473.5 215.8,475.5 215.1,477.5 214.3,479.5 213.4,481.6 212.3,483.7 211.1,485.7 209.7,487.8 208.2,489.7 206.4,491.5 204.4,493.1 202.2,494.5 199.9,495.6 197.4,496.5 194.9,497.2 192.3,497.6 189.7,497.8 187.0,497.7 184.4,497.4 181.8,496.8 179.3,496.1 176.8,495.1 174.5,493.9 172.2,492.5 170.2,490.8 168.5,488.8 167.2,486.4 166.2,483.9 165.6,481.3 165.2,478.8 164.9,476.3 164.8,473.9 164.7,471.7 164.7,469.6 164.7,467.5 164.8,465.6 164.8,463.7 164.9,461.8 165.1,460.0 165.2,458.2 165.4,456.4 165.6,454.6 165.9,452.8 166.1,451.0 166.5,449.1 166.8,447.2 167.3,445.2 167.8,443.1 168.3,441.0 169.0,438.8 169.9,436.5 170.9,434.3 172.2,432.1 173.7,430.0 175.4,428.1 177.4,426.4 179.6,425.0 182.0,423.9 184.5,423.0 187.1,422.5 189.7,422.4 192.3,422.7 194.9,423.4 197.3,424.4 199.5,425.7 201.6,427.3 203.5,429.0 205.2,430.9 206.7,432.8 208.1,434.6 209.4,436.5 210.5,438.3 211.6,440.1 212.6,441.9 213.4,443.7 214.2,445.5 215.0,447.2 215.7,449.0 216.3,450.8 216.9,452.6 217.4,454.4 217.8,456.2 218.1,458.1Z" fill="#bd0f0f"/>
<path d="M216.2,460.0 216.3,461.8 216.2,463.5 216.1,465.3 215.9,467.1 215.5,468.9 215.1,470.8 214.7,472.6 214.1,474.4 213.5,476.3 212.8,478.3 211.9,480.2 211.0,482.2 209.9,484.2 208.6,486.1 207.2,488.0 205.5,489.7 203.6,491.3 201.6,492.6 199.4,493.7 197.1,494.6 194.7,495.2 192.2,495.7 189.7,495.9 187.2,495.8 184.7,495.6 182.3,495.1 179.8,494.4 177.5,493.5 175.2,492.4 173.1,491.1 171.2,489.4 169.5,487.5 168.3,485.2 167.4,482.8 166.8,480.3 166.5,477.8 166.3,475.5 166.2,473.2 166.1,471.1 166.2,469.0 166.2,467.1 166.3,465.2 166.4,463.5 166.5,461.7 166.7,460.0 166.8,458.3 167.0,456.6 167.2,454.9 167.5,453.2 167.7,451.5 168.0,449.8 168.4,448.0 168.8,446.1 169.2,444.2 169.7,442.2 170.4,440.1 171.1,437.9 172.0,435.7 173.2,433.5 174.5,431.5 176.2,429.6 178.1,428.0 180.2,426.6 182.4,425.5 184.8,424.7 187.2,424.3 189.8,424.2 192.2,424.5 194.7,425.2 196.9,426.3 199.1,427.6 201.0,429.2 202.8,430.9 204.3,432.7 205.7,434.5 206.9,436.4 208.1,438.2 209.1,439.9 210.0,441.6 210.9,443.3 211.7,445.0 212.5,446.6 213.2,448.2 213.8,449.8 214.4,451.5 214.9,453.1 215.4,454.8 215.8,456.5 216.1,458.2Z" fill="#b00808"/>
<path d="M212.6,460.0 212.7,461.5 212.6,463.0 212.5,464.6 212.3,466.1 212.0,467.7 211.7,469.2 211.3,470.8 210.8,472.4 210.3,474.0 209.6,475.6 208.9,477.3 208.1,479.0 207.2,480.7 206.1,482.4 204.9,484.0 203.4,485.5 201.8,486.8 200.1,487.9 198.2,488.9 196.2,489.6 194.2,490.2 192.1,490.6 189.9,490.7 187.8,490.7 185.6,490.5 183.5,490.0 181.4,489.5 179.4,488.7 177.5,487.8 175.6,486.6 174.0,485.2 172.6,483.5 171.5,481.6 170.8,479.5 170.3,477.4 170.0,475.3 169.8,473.2 169.7,471.3 169.7,469.5 169.7,467.7 169.8,466.1 169.8,464.5 169.9,463.0 170.0,461.5 170.2,460.0 170.3,458.6 170.4,457.1 170.6,455.7 170.8,454.2 171.1,452.7 171.3,451.2 171.6,449.7 171.9,448.1 172.3,446.4 172.8,444.7 173.3,442.9 174.0,441.1 174.7,439.2 175.7,437.3 176.9,435.6 178.3,434.0 179.9,432.6 181.7,431.4 183.6,430.5 185.7,429.8 187.8,429.4 189.9,429.3 192.1,429.6 194.1,430.2 196.1,431.1 197.9,432.2 199.6,433.6 201.1,435.0 202.4,436.6 203.6,438.2 204.7,439.8 205.6,441.3 206.5,442.8 207.3,444.3 208.0,445.7 208.7,447.1 209.4,448.5 210.0,449.9 210.5,451.3 211.0,452.7 211.5,454.1 211.9,455.6 212.2,457.0 212.5,458.5Z" fill="#aa0e0e"/>
<path d="M207.8,460.0 207.8,461.2 207.8,462.4 207.7,463.5 207.5,464.7 207.3,465.9 207.0,467.1 206.7,468.4 206.3,469.6 205.9,470.8 205.4,472.1 204.9,473.4 204.3,474.7 203.5,476.0 202.7,477.3 201.7,478.6 200.6,479.7 199.4,480.7 198.0,481.6 196.6,482.4 195.0,482.9 193.5,483.4 191.8,483.7 190.2,483.8 188.5,483.8 186.8,483.6 185.2,483.3 183.6,482.8 182.0,482.2 180.5,481.5 179.1,480.6 177.8,479.5 176.8,478.2 175.9,476.7 175.3,475.1 175.0,473.5 174.7,471.8 174.6,470.3 174.5,468.8 174.5,467.3 174.5,466.0 174.6,464.7 174.6,463.5 174.7,462.3 174.8,461.1 174.9,460.0 175.0,458.9 175.1,457.8 175.2,456.6 175.4,455.5 175.5,454.4 175.7,453.2 176.0,452.0 176.2,450.8 176.5,449.5 176.9,448.2 177.3,446.8 177.8,445.3 178.4,443.9 179.2,442.4 180.1,441.1 181.2,439.8 182.4,438.7 183.8,437.8 185.3,437.1 186.9,436.6 188.5,436.3 190.2,436.2 191.8,436.5 193.4,436.9 194.9,437.6 196.4,438.5 197.7,439.5 198.8,440.7 199.8,441.9 200.8,443.1 201.6,444.3 202.3,445.5 203.0,446.7 203.6,447.8 204.2,448.9 204.7,450.0 205.2,451.1 205.7,452.2 206.1,453.3 206.5,454.3 206.9,455.4 207.2,456.6 207.4,457.7 207.6,458.8Z" fill="#970404"/>
<path d="M197.9,460.0 197.9,460.5 197.9,461.0 197.8,461.4 197.8,461.9 197.7,462.4 197.6,462.9 197.4,463.4 197.3,463.9 197.1,464.4 196.9,465.0 196.7,465.5 196.4,466.0 196.1,466.6 195.8,467.1 195.4,467.6 194.9,468.1 194.4,468.5 193.9,468.8 193.3,469.1 192.7,469.4 192.0,469.6 191.3,469.7 190.7,469.7 190.0,469.7 189.3,469.7 188.6,469.5 188.0,469.3 187.3,469.1 186.7,468.8 186.1,468.4 185.6,468.0 185.2,467.5 184.8,466.9 184.6,466.2 184.4,465.5 184.3,464.8 184.3,464.2 184.3,463.6 184.2,463.0 184.3,462.5 184.3,461.9 184.3,461.4 184.3,460.9 184.4,460.5 184.4,460.0 184.4,459.5 184.5,459.1 184.5,458.6 184.6,458.2 184.7,457.7 184.8,457.2 184.9,456.7 185.0,456.2 185.1,455.7 185.2,455.2 185.4,454.6 185.6,454.0 185.8,453.4 186.2,452.8 186.5,452.3 187.0,451.7 187.5,451.3 188.1,450.9 188.7,450.6 189.3,450.4 190.0,450.3 190.7,450.3 191.3,450.4 192.0,450.6 192.6,450.8 193.2,451.2 193.7,451.6 194.2,452.1 194.6,452.6 195.0,453.1 195.3,453.6 195.6,454.1 195.9,454.5 196.2,455.0 196.4,455.5 196.6,455.9 196.8,456.4 197.0,456.8 197.2,457.2 197.4,457.7 197.5,458.1 197.6,458.6 197.7,459.1 197.8,459.5Z" fill="#8c0000"/>
</g>
<rect x="86.7" y="348.8" width="230" height="230" fill="none" stroke="#111" stroke-width="1.4"/>
<path d="M105.9,348.8v3.2M105.9,578.8v-3.2M86.7,368.0h3.2M316.7,368.0h-3.2M125.0,348.8v6.0M125.0,578.8v-6.0M86.7,387.1h6.0M316.7,387.1h-6.0M144.2,348.8v3.2M144.2,578.8v-3.2M86.7,406.3h3.2M316.7,406.3h-3.2M163.4,348.8v6.0M163.4,578.8v-6.0M86.7,425.5h6.0M316.7,425.5h-6.0M182.5,348.8v3.2M182.5,578.8v-3.2M86.7,444.6h3.2M316.7,444.6h-3.2M201.7,348.8v6.0M201.7,578.8v-6.0M86.7,463.8h6.0M316.7,463.8h-6.0M220.9,348.8v3.2M220.9,578.8v-3.2M86.7,483.0h3.2M316.7,483.0h-3.2M240.0,348.8v6.0M240.0,578.8v-6.0M86.7,502.1h6.0M316.7,502.1h-6.0M259.2,348.8v3.2M259.2,578.8v-3.2M86.7,521.3h3.2M316.7,521.3h-3.2M278.4,348.8v6.0M278.4,578.8v-6.0M86.7,540.5h6.0M316.7,540.5h-6.0M297.5,348.8v3.2M297.5,578.8v-3.2M86.7,559.6h3.2M316.7,559.6h-3.2" stroke="#111" stroke-width="1.3" fill="none"/>
<text x="79.2" y="354.4" text-anchor="end" font-size="18.0">0</text>
<text x="79.2" y="392.7" text-anchor="end" font-size="18.0">20</text>
<text x="79.2" y="431.1" text-anchor="end" font-size="18.0">40</text>
<text x="79.2" y="469.4" text-anchor="end" font-size="18.0">60</text>
<text x="79.2" y="507.7" text-anchor="end" font-size="18.0">80</text>
<text x="79.2" y="546.1" text-anchor="end" font-size="18.0">100</text>
<text x="79.2" y="584.4" text-anchor="end" font-size="18.0">120</text>
<text x="31.8" y="353.0" font-size="18.0">(c)</text>
<text transform="translate(46.0,462.0) rotate(-90)" text-anchor="middle" font-size="18.0">Position (<tspan font-family="Liberation Serif">μ</tspan>m)</text>
<text x="95.0" y="374.3" font-size="18.0">1016 nm</text>
<text x="336.5" y="358.4" font-size="18.0"><tspan font-family="Liberation Serif" font-size="16">Δμ</tspan><tspan font-size="11" dy="6.5">eff</tspan><tspan dy="-6.5"> (eV)</tspan></text>
<rect x="331.9" y="378.0" width="16.5" height="193.2" fill="url(#cb2)"/>
<text x="355.0" y="385.0" font-size="18.0">1.090</text>
<text x="355.0" y="423.8" font-size="18.0">1.070</text>
<text x="355.0" y="462.6" font-size="18.0">1.050</text>
<text x="355.0" y="501.4" font-size="18.0">1.030</text>
<text x="355.0" y="540.2" font-size="18.0">1.010</text>
<text x="355.0" y="579.0" font-size="18.0">0.990</text>
<text x="94.5" y="561.6" font-size="18.0">InAs/Al<tspan font-size="11" dy="6.5">0.2</tspan><tspan dy="-6.5">Ga</tspan><tspan font-size="11" dy="6.5">0.8</tspan><tspan dy="-6.5">As QDSC</tspan></text>
<rect x="496.7" y="348.8" width="230" height="230" fill="#fff"/>
<g clip-path="url(#clip3)">
<rect x="496" y="348" width="231" height="231" fill="#7b0086"/>
<path d="M693.7,456.0 693.1,462.8 691.9,469.5 690.4,476.1 688.5,482.5 686.2,488.8 683.8,495.1 680.9,501.2 677.6,507.0 673.8,512.5 669.4,517.6 664.5,522.2 659.8,526.8 655.0,531.5 649.8,535.8 644.2,539.5 638.2,542.5 631.6,544.1 624.9,545.0 618.3,545.4 611.8,545.3 605.3,544.9 599.1,544.0 593.0,542.3 587.2,539.4 581.9,535.9 577.1,532.0 572.6,528.1 568.3,524.7 564.7,520.2 561.3,516.1 557.9,512.4 554.7,508.8 551.6,505.3 548.8,501.6 546.3,497.7 544.1,493.7 541.8,489.9 539.8,485.9 538.2,481.7 536.8,477.5 535.6,473.3 534.3,469.1 533.4,464.8 532.8,460.4 532.5,456.0 532.6,451.6 533.0,447.2 533.2,442.7 533.7,438.1 534.5,433.6 535.6,429.1 537.1,424.7 538.3,419.9 539.7,415.1 541.4,410.2 543.6,405.4 546.3,400.8 549.4,396.3 552.8,392.0 556.6,387.7 560.5,383.3 565.0,379.2 569.8,375.3 575.0,371.6 580.5,368.2 586.6,366.4 592.8,365.3 599.2,364.5 605.3,367.5 612.1,364.9 618.0,367.9 624.8,367.4 631.7,367.6 638.6,368.6 645.0,371.0 651.4,373.9 657.1,377.9 662.4,382.2 667.4,387.1 671.8,392.4 675.9,397.9 679.5,403.8 682.6,410.0 685.3,416.3 687.3,422.8 688.9,429.4 690.4,435.9 692.4,442.4 693.6,449.2Z" fill="#800397"/>
<path d="M691.6,456.0 691.1,462.7 690.2,469.2 688.8,475.7 687.0,482.1 684.8,488.3 682.3,494.4 679.4,500.3 676.1,506.0 672.5,511.6 668.6,516.9 664.1,521.8 659.4,526.5 654.5,530.8 649.1,534.8 643.4,538.2 637.4,540.9 630.9,542.4 624.4,543.3 617.9,543.8 611.5,543.7 605.2,543.1 599.0,542.2 593.0,540.5 587.4,537.8 582.1,534.7 577.3,531.1 572.8,527.4 568.5,524.0 564.9,519.7 561.5,515.8 558.1,512.1 555.0,508.5 551.9,505.0 549.2,501.2 546.7,497.4 544.5,493.4 542.3,489.6 540.4,485.6 538.7,481.5 537.4,477.3 536.2,473.1 535.1,468.9 534.3,464.7 533.7,460.4 533.5,456.0 533.5,451.6 533.9,447.3 534.1,442.8 534.5,438.4 535.2,433.9 536.3,429.4 537.7,425.0 538.9,420.3 540.2,415.5 542.0,410.7 544.1,405.9 546.8,401.4 549.9,397.0 553.4,392.9 557.2,388.9 561.2,384.7 565.6,380.8 570.4,377.1 575.4,373.6 580.9,370.3 586.8,368.5 592.9,367.3 599.1,366.6 605.1,369.0 611.7,366.8 617.6,369.2 624.3,368.9 631.1,369.1 637.8,370.2 644.2,372.6 650.4,375.4 655.9,379.3 661.1,383.6 666.1,388.4 670.5,393.5 674.6,398.9 678.2,404.6 681.3,410.6 684.0,416.8 686.1,423.2 687.7,429.7 689.1,436.2 690.8,442.7 691.7,449.3Z" fill="#8014c6"/>
<path d="M689.6,456.0 689.2,462.5 688.4,469.0 687.3,475.4 685.6,481.7 683.4,487.8 680.8,493.8 677.9,499.5 674.6,505.1 671.3,510.7 667.8,516.2 663.7,521.4 659.1,526.1 654.0,530.2 648.5,533.8 642.6,536.8 636.6,539.3 630.3,540.8 623.8,541.7 617.5,542.1 611.2,542.0 605.0,541.4 598.9,540.4 593.1,538.7 587.6,536.3 582.3,533.4 577.5,530.2 573.0,526.8 568.8,523.4 565.2,519.2 561.7,515.4 558.3,511.9 555.2,508.3 552.2,504.7 549.5,500.9 547.1,497.1 544.9,493.2 542.7,489.3 540.9,485.3 539.3,481.2 538.0,477.1 536.9,473.0 535.9,468.8 535.1,464.6 534.6,460.3 534.4,456.0 534.4,451.7 534.7,447.4 534.9,443.0 535.3,438.6 536.0,434.2 537.0,429.7 538.3,425.3 539.4,420.7 540.8,415.9 542.5,411.1 544.6,406.4 547.3,401.9 550.5,397.8 554.0,393.8 557.9,390.0 561.9,386.1 566.3,382.4 570.9,378.8 575.9,375.5 581.3,372.4 587.0,370.6 593.0,369.4 599.0,368.7 605.0,370.4 611.4,368.7 617.3,370.6 623.8,370.4 630.5,370.7 637.1,371.8 643.3,374.1 649.3,377.0 654.7,380.8 659.9,385.1 664.7,389.6 669.2,394.6 673.3,399.9 676.9,405.5 680.0,411.3 682.8,417.4 684.9,423.6 686.6,430.0 687.8,436.5 689.1,442.9 689.7,449.4Z" fill="#750be1"/>
<path d="M687.5,456.0 687.2,462.4 686.7,468.7 685.7,475.1 684.2,481.3 682.0,487.3 679.3,493.1 676.3,498.7 673.2,504.2 670.1,509.8 667.0,515.5 663.3,521.0 658.8,525.7 653.5,529.6 647.8,532.7 641.8,535.4 635.8,537.6 629.6,539.1 623.3,540.1 617.1,540.5 610.9,540.3 604.8,539.7 598.9,538.5 593.2,536.9 587.7,534.7 582.6,532.2 577.7,529.3 573.2,526.1 569.1,522.7 565.4,518.8 561.9,515.1 558.5,511.6 555.4,508.0 552.4,504.4 549.8,500.6 547.4,496.7 545.3,492.9 543.2,489.0 541.4,485.0 539.9,481.0 538.6,476.9 537.5,472.8 536.6,468.6 535.9,464.4 535.5,460.2 535.3,456.0 535.3,451.8 535.5,447.5 535.7,443.2 536.1,438.8 536.8,434.5 537.7,430.1 538.9,425.6 540.0,421.0 541.3,416.3 543.0,411.6 545.2,406.9 547.9,402.5 551.1,398.5 554.7,394.7 558.6,391.1 562.6,387.5 566.9,384.0 571.5,380.6 576.4,377.4 581.6,374.5 587.2,372.7 593.0,371.5 599.0,370.8 604.8,371.8 611.1,370.6 617.0,371.9 623.3,371.9 629.8,372.3 636.3,373.4 642.4,375.6 648.3,378.5 653.6,382.3 658.6,386.5 663.4,390.9 667.9,395.7 671.9,400.8 675.6,406.3 678.7,412.0 681.5,417.9 683.7,424.1 685.4,430.4 686.5,436.8 687.4,443.2 687.7,449.6Z" fill="#5f00e8"/>
<path d="M685.5,456.0 685.3,462.2 684.9,468.5 684.1,474.7 682.7,480.9 680.6,486.8 677.8,492.4 674.8,497.9 671.7,503.3 668.9,508.9 666.1,514.9 662.9,520.6 658.5,525.4 653.0,528.9 647.1,531.7 641.1,534.0 635.0,536.0 628.9,537.4 622.8,538.4 616.7,538.8 610.6,538.7 604.6,537.9 598.8,536.7 593.2,535.1 587.9,533.2 582.8,530.9 577.9,528.4 573.4,525.4 569.3,522.0 565.6,518.3 562.1,514.8 558.7,511.3 555.6,507.8 552.7,504.1 550.1,500.3 547.8,496.4 545.7,492.6 543.7,488.7 541.9,484.8 540.4,480.7 539.2,476.7 538.2,472.6 537.4,468.5 536.8,464.3 536.4,460.2 536.2,456.0 536.2,451.8 536.3,447.6 536.6,443.4 537.0,439.1 537.6,434.7 538.5,430.4 539.5,426.0 540.6,421.4 541.9,416.7 543.6,412.0 545.7,407.4 548.4,403.1 551.6,399.2 555.3,395.6 559.2,392.3 563.3,388.9 567.6,385.6 572.1,382.4 576.9,379.3 582.0,376.6 587.5,374.8 593.1,373.6 598.9,372.8 604.7,373.3 610.7,372.5 616.6,373.2 622.9,373.3 629.2,373.9 635.5,375.0 641.5,377.2 647.2,380.1 652.4,383.8 657.3,387.9 662.1,392.2 666.5,396.8 670.6,401.8 674.3,407.1 677.4,412.7 680.2,418.5 682.5,424.5 684.2,430.7 685.2,437.0 685.7,443.4 685.8,449.7Z" fill="#4200e8"/>
<path d="M683.5,456.0 683.3,462.1 683.1,468.2 682.6,474.4 681.3,480.5 679.1,486.3 676.3,491.8 673.3,497.1 670.3,502.4 667.6,508.0 665.3,514.2 662.5,520.2 658.1,525.0 652.5,528.3 646.4,530.7 640.3,532.7 634.2,534.4 628.2,535.8 622.2,536.8 616.2,537.2 610.3,537.0 604.4,536.2 598.8,534.9 593.3,533.4 588.1,531.6 583.0,529.7 578.2,527.5 573.7,524.8 569.6,521.4 565.8,517.8 562.2,514.5 558.9,511.1 555.8,507.5 553.0,503.8 550.5,500.0 548.2,496.1 546.1,492.3 544.2,488.4 542.4,484.5 541.0,480.5 539.8,476.5 538.8,472.4 538.1,468.3 537.6,464.2 537.3,460.1 537.1,456.0 537.0,451.9 537.1,447.7 537.4,443.5 537.8,439.3 538.4,435.0 539.2,430.7 540.1,426.3 541.2,421.7 542.5,417.1 544.1,412.4 546.2,407.9 548.9,403.7 552.2,399.9 555.9,396.6 559.9,393.4 564.0,390.3 568.2,387.2 572.6,384.1 577.4,381.2 582.4,378.7 587.7,376.9 593.2,375.7 598.8,374.9 604.5,374.7 610.4,374.4 616.3,374.6 622.4,374.8 628.6,375.4 634.7,376.6 640.6,378.7 646.2,381.6 651.2,385.3 656.1,389.3 660.7,393.5 665.2,397.9 669.3,402.7 672.9,407.9 676.2,413.4 679.0,419.1 681.3,424.9 683.0,431.0 683.9,437.3 684.0,443.6 683.8,449.9Z" fill="#2800f9"/>
<path d="M681.5,456.0 681.4,462.0 681.3,468.0 680.8,474.0 679.6,480.0 677.5,485.7 674.8,491.1 671.8,496.3 668.8,501.5 666.2,507.0 664.0,513.0 661.4,519.1 657.3,524.1 651.9,527.5 645.8,529.9 639.7,531.7 633.7,533.4 627.8,534.7 621.9,535.6 616.0,536.0 610.1,535.8 604.3,535.0 598.7,533.8 593.3,532.4 588.1,530.7 583.2,528.9 578.4,526.6 574.0,523.8 570.0,520.4 566.2,517.0 562.7,513.7 559.3,510.4 556.3,506.8 553.6,503.1 551.1,499.3 548.9,495.5 546.9,491.7 545.0,487.9 543.3,484.0 541.9,480.1 540.8,476.1 539.9,472.1 539.2,468.1 538.7,464.0 538.4,460.0 538.2,456.0 538.2,452.0 538.3,447.9 538.5,443.8 538.9,439.6 539.5,435.4 540.2,431.2 541.1,426.8 542.1,422.3 543.4,417.8 545.0,413.2 547.0,408.7 549.6,404.5 552.8,400.7 556.5,397.4 560.4,394.3 564.5,391.3 568.7,388.3 573.0,385.3 577.7,382.5 582.6,380.1 587.8,378.2 593.2,376.9 598.8,376.2 604.4,375.8 610.2,375.6 616.0,375.7 622.0,376.0 628.0,376.8 634.0,378.1 639.8,380.2 645.2,383.1 650.2,386.6 655.0,390.5 659.6,394.6 664.0,398.9 668.0,403.7 671.5,408.8 674.5,414.2 677.2,419.8 679.4,425.6 681.0,431.6 681.9,437.7 682.0,443.9 681.8,450.0Z" fill="#0e09ff"/>
<path d="M679.7,456.0 679.6,461.8 679.5,467.7 679.0,473.6 677.8,479.5 675.8,485.1 673.2,490.4 670.3,495.5 667.3,500.6 664.7,505.9 662.5,511.8 660.1,517.9 656.4,523.1 651.2,526.7 645.3,529.1 639.3,531.0 633.3,532.5 627.4,533.8 621.5,534.6 615.7,535.0 609.9,534.8 604.2,534.0 598.7,532.9 593.4,531.6 588.2,530.0 583.3,528.2 578.6,525.7 574.3,522.6 570.4,519.3 566.7,516.1 563.2,512.9 559.9,509.6 556.9,506.0 554.3,502.4 551.9,498.6 549.7,494.8 547.7,491.1 546.0,487.3 544.4,483.5 543.0,479.6 541.9,475.7 541.0,471.8 540.4,467.8 540.0,463.9 539.6,459.9 539.5,456.0 539.4,452.0 539.5,448.1 539.7,444.0 540.1,440.0 540.6,435.8 541.3,431.7 542.2,427.4 543.2,423.0 544.4,418.5 545.9,414.0 547.9,409.5 550.4,405.3 553.5,401.6 557.0,398.2 560.9,395.1 564.9,392.2 569.0,389.3 573.4,386.4 577.9,383.6 582.8,381.1 587.9,379.2 593.3,377.9 598.8,377.1 604.3,376.7 610.0,376.6 615.8,376.7 621.6,377.2 627.5,378.1 633.3,379.6 638.9,381.7 644.2,384.6 649.2,387.9 653.9,391.6 658.5,395.6 662.8,399.9 666.7,404.6 670.0,409.8 672.8,415.1 675.3,420.7 677.3,426.4 678.8,432.3 679.7,438.2 679.9,444.2 679.8,450.1Z" fill="#062eff"/>
<path d="M677.8,456.0 677.7,461.7 677.6,467.5 677.1,473.2 676.0,478.9 674.1,484.4 671.6,489.7 668.8,494.7 665.9,499.6 663.2,504.8 661.0,510.5 658.7,516.6 655.4,522.0 650.6,525.9 644.8,528.4 638.8,530.2 632.9,531.7 627.0,532.8 621.2,533.6 615.4,534.0 609.7,533.7 604.1,533.1 598.7,532.1 593.4,530.8 588.3,529.4 583.4,527.5 578.9,524.8 574.7,521.5 570.8,518.3 567.1,515.2 563.6,512.0 560.4,508.8 557.5,505.2 554.9,501.6 552.6,497.9 550.5,494.1 548.6,490.4 546.9,486.7 545.4,482.9 544.1,479.1 543.0,475.3 542.2,471.4 541.6,467.6 541.2,463.7 540.9,459.9 540.7,456.0 540.6,452.1 540.7,448.2 540.9,444.3 541.2,440.3 541.8,436.3 542.4,432.2 543.3,428.0 544.3,423.7 545.4,419.3 546.9,414.8 548.8,410.4 551.2,406.2 554.1,402.4 557.6,399.0 561.3,396.0 565.3,393.1 569.4,390.3 573.7,387.4 578.2,384.7 583.0,382.2 588.0,380.2 593.3,378.9 598.7,378.1 604.2,377.7 609.8,377.6 615.5,377.8 621.2,378.3 627.0,379.4 632.6,381.0 638.0,383.2 643.2,386.0 648.2,389.2 652.9,392.8 657.5,396.6 661.7,400.9 665.4,405.6 668.5,410.7 671.1,416.1 673.4,421.6 675.2,427.2 676.6,432.9 677.4,438.7 677.8,444.5 677.8,450.3Z" fill="#106aff"/>
<path d="M675.9,456.0 675.9,461.6 675.8,467.2 675.3,472.9 674.2,478.4 672.5,483.8 670.0,489.0 667.3,493.9 664.4,498.7 661.7,503.8 659.5,509.3 657.4,515.3 654.5,520.9 650.0,525.1 644.3,527.7 638.4,529.5 632.5,530.8 626.7,531.9 620.9,532.6 615.2,532.9 609.5,532.7 604.0,532.1 598.6,531.2 593.4,530.1 588.4,528.7 583.5,526.7 579.1,523.8 575.1,520.4 571.3,517.2 567.6,514.2 564.1,511.2 561.0,507.9 558.1,504.5 555.6,500.8 553.4,497.1 551.4,493.5 549.5,489.8 547.9,486.1 546.4,482.4 545.2,478.6 544.2,474.9 543.4,471.1 542.8,467.3 542.4,463.5 542.1,459.8 541.9,456.0 541.8,452.2 541.9,448.4 542.1,444.5 542.4,440.6 542.9,436.7 543.6,432.7 544.4,428.5 545.3,424.3 546.5,420.0 547.9,415.6 549.6,411.2 551.9,407.0 554.8,403.2 558.1,399.8 561.8,396.8 565.8,394.0 569.8,391.2 574.1,388.5 578.5,385.8 583.2,383.3 588.1,381.3 593.3,379.8 598.7,379.0 604.1,378.7 609.6,378.6 615.2,378.8 620.9,379.5 626.4,380.6 631.9,382.4 637.2,384.7 642.2,387.4 647.2,390.5 651.9,393.9 656.4,397.7 660.5,401.9 664.1,406.6 667.0,411.6 669.4,417.0 671.4,422.4 673.1,427.9 674.4,433.5 675.2,439.2 675.7,444.8 675.8,450.4Z" fill="#1099ff"/>
<path d="M673.8,456.0 673.8,461.4 673.7,466.9 673.3,472.4 672.3,477.9 670.6,483.2 668.3,488.2 665.6,493.0 662.8,497.8 660.2,502.6 657.9,508.0 655.9,513.9 653.2,519.6 649.1,523.9 643.7,526.8 637.9,528.6 632.1,530.0 626.3,530.9 620.5,531.5 614.9,531.8 609.3,531.6 603.9,531.1 598.6,530.4 593.4,529.3 588.4,527.8 583.7,525.6 579.4,522.6 575.4,519.3 571.7,516.2 568.0,513.3 564.6,510.3 561.5,507.1 558.8,503.6 556.3,500.1 554.1,496.5 552.1,492.9 550.3,489.2 548.6,485.6 547.2,482.0 546.0,478.3 545.0,474.6 544.2,470.8 543.7,467.1 543.3,463.4 543.0,459.7 542.8,456.0 542.8,452.3 542.8,448.5 543.0,444.7 543.4,440.9 543.9,437.0 544.6,433.1 545.4,429.1 546.3,425.0 547.4,420.7 548.8,416.4 550.5,412.0 552.6,407.8 555.4,404.0 558.6,400.6 562.3,397.6 566.1,394.8 570.2,392.1 574.4,389.4 578.8,386.8 583.4,384.4 588.3,382.5 593.4,381.1 598.6,380.4 604.0,380.1 609.4,380.2 614.8,380.4 620.3,381.1 625.8,382.2 631.2,383.9 636.4,386.0 641.5,388.5 646.4,391.5 651.1,394.8 655.4,398.7 659.3,402.9 662.6,407.6 665.4,412.7 667.6,417.9 669.5,423.3 671.1,428.7 672.3,434.1 673.1,439.6 673.5,445.1 673.7,450.6Z" fill="#0cc1ff"/>
<path d="M671.6,456.0 671.7,461.3 671.5,466.6 671.1,472.0 670.2,477.3 668.7,482.5 666.6,487.4 664.0,492.2 661.3,496.8 658.6,501.5 656.3,506.6 654.3,512.3 651.9,518.0 648.1,522.7 643.1,525.8 637.4,527.8 631.7,529.1 625.9,530.0 620.2,530.4 614.6,530.6 609.1,530.5 603.8,530.1 598.6,529.6 593.5,528.6 588.5,526.9 583.9,524.4 579.7,521.4 575.8,518.2 572.0,515.3 568.5,512.4 565.2,509.4 562.1,506.2 559.4,502.8 557.0,499.3 554.8,495.8 552.8,492.3 550.9,488.7 549.3,485.2 547.9,481.6 546.7,478.0 545.7,474.3 544.9,470.6 544.4,467.0 544.0,463.3 543.8,459.7 543.6,456.0 543.6,452.3 543.7,448.7 544.0,444.9 544.4,441.2 544.9,437.4 545.6,433.5 546.4,429.6 547.3,425.6 548.4,421.4 549.6,417.1 551.3,412.8 553.4,408.6 556.0,404.8 559.1,401.4 562.7,398.3 566.5,395.6 570.5,393.0 574.7,390.4 579.0,387.9 583.6,385.6 588.4,383.7 593.4,382.5 598.6,381.9 603.8,381.8 609.1,381.9 614.4,382.3 619.7,382.9 625.1,383.9 630.4,385.4 635.7,387.2 640.9,389.5 645.8,392.3 650.3,395.7 654.4,399.6 658.0,404.0 661.1,408.7 663.7,413.7 665.8,418.9 667.6,424.1 669.1,429.4 670.2,434.7 670.9,440.1 671.4,445.4 671.6,450.7Z" fill="#00eaf5"/>
<path d="M669.5,456.0 669.5,461.1 669.4,466.3 669.0,471.5 668.2,476.7 666.8,481.8 664.8,486.6 662.3,491.3 659.7,495.8 657.0,500.3 654.7,505.2 652.7,510.7 650.5,516.5 647.2,521.5 642.4,524.8 636.9,526.9 631.2,528.2 625.5,529.0 619.8,529.3 614.3,529.4 608.9,529.3 603.7,529.1 598.5,528.7 593.5,527.8 588.7,525.9 584.2,523.1 580.0,520.1 576.1,517.1 572.4,514.3 568.9,511.5 565.7,508.5 562.7,505.3 560.1,502.0 557.6,498.6 555.4,495.2 553.4,491.7 551.6,488.2 550.0,484.8 548.5,481.2 547.3,477.7 546.4,474.1 545.7,470.4 545.2,466.8 544.8,463.2 544.6,459.6 544.5,456.0 544.5,452.4 544.6,448.8 544.9,445.1 545.3,441.5 545.9,437.8 546.5,434.0 547.4,430.1 548.3,426.2 549.3,422.1 550.5,417.8 552.1,413.6 554.1,409.4 556.6,405.6 559.7,402.1 563.1,399.1 566.9,396.3 570.9,393.8 575.0,391.4 579.3,389.0 583.8,386.8 588.5,385.0 593.5,383.9 598.5,383.4 603.6,383.4 608.8,383.7 613.9,384.1 619.2,384.7 624.4,385.7 629.7,386.9 635.0,388.4 640.2,390.5 645.1,393.2 649.5,396.6 653.4,400.6 656.7,405.1 659.6,409.8 662.0,414.8 664.0,419.8 665.7,425.0 667.1,430.1 668.1,435.3 668.8,440.5 669.2,445.7 669.4,450.9Z" fill="#00ffc0"/>
<path d="M667.3,456.0 667.3,461.0 667.3,466.0 666.9,471.1 666.2,476.1 664.9,481.1 663.0,485.8 660.7,490.4 658.1,494.8 655.5,499.2 653.0,503.9 651.0,509.2 649.1,515.0 646.2,520.2 641.8,523.8 636.4,526.0 630.8,527.3 625.1,528.0 619.4,528.2 614.0,528.2 608.7,528.2 603.6,528.2 598.5,527.9 593.5,527.0 588.8,525.0 584.4,521.9 580.3,518.9 576.5,516.1 572.8,513.4 569.4,510.6 566.2,507.6 563.3,504.5 560.7,501.2 558.3,497.9 556.1,494.5 554.1,491.1 552.3,487.8 550.7,484.3 549.2,480.9 548.0,477.4 547.1,473.8 546.4,470.2 545.9,466.6 545.6,463.1 545.4,459.5 545.3,456.0 545.3,452.5 545.5,448.9 545.8,445.3 546.2,441.7 546.8,438.1 547.5,434.4 548.3,430.6 549.2,426.8 550.2,422.7 551.4,418.6 552.9,414.4 554.8,410.2 557.2,406.3 560.2,402.9 563.6,399.8 567.3,397.1 571.2,394.7 575.3,392.4 579.6,390.1 584.0,388.0 588.7,386.3 593.5,385.3 598.5,384.9 603.5,385.0 608.5,385.4 613.5,385.9 618.6,386.5 623.8,387.3 629.0,388.3 634.3,389.6 639.5,391.5 644.4,394.0 648.7,397.5 652.3,401.6 655.4,406.2 658.0,410.9 660.3,415.8 662.2,420.8 663.8,425.8 665.1,430.9 666.1,435.9 666.7,441.0 667.1,446.0 667.3,451.0Z" fill="#00ff77"/>
<path d="M665.5,456.0 665.5,460.9 665.4,465.8 665.1,470.7 664.3,475.6 663.0,480.4 661.2,485.0 659.0,489.5 656.5,493.8 653.9,498.0 651.4,502.5 649.4,507.5 647.4,513.1 644.6,518.2 640.7,522.2 635.8,524.9 630.3,526.4 624.7,527.1 619.2,527.3 613.8,527.3 608.6,527.4 603.5,527.3 598.5,527.0 593.6,526.1 588.8,524.1 584.5,521.2 580.5,518.1 576.7,515.4 573.1,512.6 569.8,509.8 566.6,506.8 563.8,503.7 561.3,500.5 558.9,497.2 556.8,493.9 554.8,490.6 553.0,487.2 551.4,483.9 550.0,480.5 548.8,477.0 547.9,473.5 547.2,470.0 546.7,466.5 546.3,463.0 546.1,459.5 546.1,456.0 546.1,452.5 546.2,449.0 546.6,445.5 547.0,442.0 547.6,438.4 548.3,434.8 549.1,431.1 550.0,427.3 551.0,423.3 552.2,419.3 553.7,415.2 555.6,411.1 557.9,407.3 560.8,403.8 564.1,400.8 567.8,398.1 571.6,395.7 575.7,393.5 579.9,391.4 584.3,389.4 588.8,387.8 593.6,386.7 598.4,386.3 603.3,386.3 608.2,386.5 613.2,387.0 618.2,387.5 623.4,388.3 628.5,389.3 633.7,390.7 638.7,392.7 643.3,395.4 647.4,399.0 650.8,403.1 653.6,407.6 656.1,412.3 658.3,417.1 660.1,421.9 661.6,426.8 662.9,431.6 663.9,436.5 664.7,441.4 665.1,446.3 665.4,451.1Z" fill="#03ff26"/>
<path d="M663.6,456.0 663.7,460.7 663.5,465.5 663.2,470.3 662.4,475.0 661.2,479.7 659.4,484.2 657.3,488.6 654.8,492.8 652.3,496.9 649.8,501.2 647.7,505.9 645.7,511.2 643.1,516.3 639.6,520.6 635.1,523.7 629.9,525.5 624.4,526.2 618.9,526.4 613.6,526.5 608.4,526.5 603.4,526.5 598.4,526.1 593.6,525.2 588.9,523.2 584.6,520.4 580.7,517.4 577.0,514.6 573.4,511.9 570.1,509.0 567.1,506.0 564.4,502.9 561.8,499.7 559.5,496.5 557.4,493.2 555.5,490.0 553.7,486.7 552.1,483.4 550.7,480.1 549.6,476.7 548.7,473.2 548.0,469.8 547.5,466.3 547.1,462.9 546.9,459.4 546.8,456.0 546.8,452.6 547.0,449.1 547.3,445.7 547.8,442.2 548.4,438.7 549.1,435.1 549.9,431.5 550.8,427.8 551.9,423.9 553.1,420.0 554.5,416.0 556.4,412.0 558.6,408.2 561.4,404.7 564.7,401.7 568.2,399.1 572.1,396.7 576.1,394.6 580.2,392.6 584.5,390.8 589.0,389.2 593.6,388.2 598.4,387.7 603.2,387.6 608.0,387.7 612.9,388.1 617.9,388.5 623.0,389.2 628.0,390.3 633.1,391.8 637.8,394.0 642.2,396.8 646.0,400.5 649.2,404.6 651.9,409.1 654.2,413.7 656.3,418.3 658.0,423.0 659.5,427.7 660.8,432.4 661.8,437.1 662.6,441.8 663.1,446.6 663.5,451.3Z" fill="#11ff00"/>
<path d="M661.8,456.0 661.8,460.6 661.7,465.2 661.3,469.9 660.5,474.5 659.3,479.0 657.6,483.4 655.5,487.7 653.2,491.7 650.7,495.7 648.3,499.8 646.0,504.3 644.0,509.3 641.6,514.3 638.5,519.0 634.4,522.6 629.4,524.6 624.0,525.4 618.6,525.6 613.4,525.7 608.3,525.7 603.3,525.6 598.4,525.3 593.6,524.2 589.0,522.3 584.8,519.6 580.9,516.7 577.2,513.9 573.7,511.1 570.5,508.2 567.6,505.2 564.9,502.1 562.4,499.0 560.2,495.8 558.1,492.6 556.2,489.4 554.4,486.2 552.9,483.0 551.5,479.7 550.4,476.3 549.4,472.9 548.7,469.6 548.2,466.2 547.9,462.8 547.7,459.4 547.6,456.0 547.6,452.6 547.8,449.2 548.1,445.8 548.5,442.4 549.1,438.9 549.9,435.5 550.7,431.9 551.7,428.3 552.7,424.5 553.9,420.7 555.4,416.8 557.1,412.8 559.4,409.1 562.0,405.7 565.2,402.6 568.7,400.0 572.5,397.8 576.4,395.7 580.5,393.9 584.7,392.1 589.1,390.7 593.7,389.6 598.3,389.0 603.1,388.8 607.8,388.9 612.7,389.1 617.6,389.6 622.6,390.2 627.6,391.3 632.4,392.9 637.0,395.2 641.1,398.2 644.7,401.9 647.6,406.1 650.2,410.6 652.3,415.1 654.2,419.6 655.9,424.2 657.3,428.7 658.6,433.2 659.7,437.7 660.5,442.3 661.2,446.8 661.6,451.4Z" fill="#36ff00"/>
<path d="M659.9,456.0 660.0,460.5 659.8,465.0 659.4,469.5 658.6,474.0 657.5,478.4 655.8,482.6 653.8,486.8 651.5,490.7 649.1,494.6 646.7,498.5 644.4,502.7 642.2,507.4 640.0,512.3 637.4,517.4 633.8,521.4 629.0,523.6 623.7,524.5 618.3,524.7 613.2,524.8 608.1,524.9 603.2,524.8 598.4,524.4 593.6,523.3 589.1,521.4 584.9,518.8 581.0,516.0 577.4,513.2 574.0,510.3 570.9,507.4 568.0,504.4 565.4,501.3 563.0,498.2 560.8,495.1 558.7,492.0 556.9,488.8 555.1,485.7 553.6,482.5 552.3,479.3 551.1,476.0 550.2,472.7 549.5,469.3 549.0,466.0 548.7,462.7 548.4,459.3 548.3,456.0 548.4,452.7 548.5,449.3 548.8,446.0 549.3,442.6 549.9,439.2 550.6,435.8 551.5,432.3 552.5,428.8 553.5,425.1 554.7,421.4 556.2,417.5 557.9,413.7 560.1,410.0 562.7,406.6 565.7,403.6 569.2,401.0 572.9,398.8 576.8,396.9 580.8,395.1 585.0,393.5 589.3,392.1 593.7,391.1 598.3,390.4 602.9,390.1 607.6,390.1 612.4,390.2 617.3,390.6 622.2,391.2 627.1,392.3 631.8,394.0 636.2,396.5 640.0,399.6 643.3,403.4 646.1,407.6 648.4,412.0 650.4,416.4 652.2,420.9 653.8,425.3 655.2,429.6 656.5,434.0 657.6,438.3 658.5,442.7 659.2,447.1 659.7,451.5Z" fill="#5aff00"/>
<path d="M658.1,456.0 658.1,460.3 658.0,464.7 657.5,469.1 656.7,473.4 655.6,477.7 654.0,481.8 652.1,485.8 649.9,489.7 647.5,493.4 645.1,497.2 642.7,501.1 640.5,505.4 638.5,510.4 636.3,515.8 633.1,520.3 628.5,522.7 623.3,523.6 618.0,523.9 612.9,524.0 608.0,524.0 603.1,523.9 598.4,523.5 593.7,522.4 589.2,520.5 585.1,518.0 581.2,515.3 577.7,512.5 574.4,509.6 571.3,506.6 568.5,503.6 565.9,500.6 563.6,497.5 561.4,494.4 559.4,491.4 557.5,488.3 555.8,485.2 554.3,482.0 553.0,478.9 551.9,475.6 551.0,472.4 550.3,469.1 549.8,465.8 549.4,462.5 549.2,459.3 549.1,456.0 549.1,452.7 549.3,449.4 549.6,446.1 550.1,442.8 550.7,439.5 551.4,436.1 552.3,432.8 553.3,429.3 554.4,425.8 555.6,422.1 557.0,418.3 558.7,414.6 560.8,410.9 563.3,407.5 566.3,404.5 569.6,401.9 573.3,399.8 577.1,398.0 581.1,396.4 585.2,394.9 589.4,393.6 593.8,392.5 598.2,391.7 602.8,391.4 607.4,391.3 612.1,391.3 616.9,391.6 621.8,392.2 626.6,393.3 631.2,395.1 635.3,397.7 638.9,401.0 642.0,404.9 644.5,409.1 646.7,413.5 648.5,417.8 650.2,422.1 651.7,426.4 653.1,430.6 654.3,434.8 655.4,439.0 656.4,443.2 657.2,447.4 657.8,451.7Z" fill="#7fff00"/>
<path d="M656.2,456.0 656.3,460.2 656.1,464.4 655.6,468.7 654.8,472.9 653.7,477.0 652.3,481.0 650.4,484.9 648.3,488.7 645.9,492.3 643.5,495.8 641.1,499.5 638.8,503.5 636.9,508.4 635.2,514.1 632.5,519.1 628.1,521.8 623.0,522.7 617.8,523.0 612.7,523.1 607.9,523.2 603.1,523.1 598.3,522.6 593.7,521.4 589.3,519.6 585.2,517.2 581.4,514.6 577.9,511.7 574.7,508.8 571.7,505.8 569.0,502.8 566.5,499.8 564.2,496.7 562.0,493.7 560.0,490.7 558.2,487.7 556.6,484.7 555.1,481.6 553.8,478.5 552.7,475.3 551.8,472.1 551.1,468.9 550.6,465.7 550.2,462.4 550.0,459.2 549.9,456.0 549.9,452.8 550.0,449.5 550.4,446.3 550.8,443.0 551.4,439.8 552.2,436.5 553.1,433.2 554.1,429.8 555.2,426.4 556.4,422.8 557.8,419.1 559.5,415.5 561.5,411.8 563.9,408.4 566.8,405.4 570.1,402.9 573.7,400.8 577.5,399.1 581.4,397.6 585.5,396.3 589.6,395.0 593.8,393.9 598.2,393.1 602.7,392.6 607.2,392.4 611.8,392.4 616.6,392.6 621.4,393.1 626.1,394.3 630.5,396.2 634.5,399.0 637.8,402.4 640.6,406.4 643.0,410.6 644.9,414.9 646.6,419.2 648.2,423.4 649.6,427.5 650.9,431.6 652.2,435.6 653.3,439.6 654.4,443.6 655.2,447.7 655.9,451.8Z" fill="#a2ff00"/>
<path d="M654.6,456.0 654.7,460.1 654.5,464.2 654.1,468.3 653.3,472.4 652.2,476.5 650.8,480.4 649.0,484.2 646.8,487.8 644.5,491.2 642.1,494.6 639.6,498.1 637.3,501.9 635.5,506.5 633.9,512.2 631.3,517.2 627.2,519.9 622.3,521.0 617.3,521.5 612.4,521.7 607.6,521.9 602.9,521.8 598.3,521.3 593.8,520.2 589.4,518.4 585.4,516.2 581.6,513.6 578.2,510.8 575.1,507.8 572.2,504.9 569.5,501.9 567.1,498.9 564.8,495.9 562.7,493.0 560.7,490.0 559.0,487.1 557.3,484.1 555.9,481.1 554.6,478.0 553.5,474.9 552.7,471.8 552.0,468.6 551.5,465.5 551.1,462.3 550.9,459.2 550.8,456.0 550.8,452.8 550.9,449.7 551.2,446.5 551.7,443.3 552.3,440.1 553.0,436.9 553.9,433.6 554.9,430.3 556.0,427.0 557.3,423.5 558.7,420.0 560.4,416.4 562.3,412.9 564.7,409.6 567.5,406.6 570.7,404.2 574.2,402.1 577.9,400.4 581.8,398.9 585.7,397.6 589.7,396.4 593.9,395.3 598.1,394.4 602.5,394.0 607.0,393.7 611.5,393.7 616.2,393.9 620.9,394.5 625.4,395.6 629.7,397.7 633.4,400.5 636.6,404.0 639.3,407.9 641.5,412.1 643.4,416.3 645.0,420.4 646.5,424.5 647.8,428.4 649.1,432.3 650.4,436.2 651.5,440.1 652.6,444.0 653.5,447.9 654.2,451.9Z" fill="#c2ff00"/>
<path d="M653.1,456.0 653.2,460.0 653.1,464.0 652.8,468.1 652.0,472.1 651.0,476.0 649.5,479.8 647.7,483.5 645.5,487.0 643.2,490.3 640.7,493.5 638.3,496.8 636.0,500.4 634.1,504.8 632.4,510.0 629.9,514.7 626.0,517.4 621.4,518.8 616.6,519.5 611.9,519.9 607.3,520.2 602.7,520.2 598.2,519.8 593.8,518.8 589.6,517.1 585.6,514.9 581.9,512.4 578.6,509.6 575.5,506.7 572.7,503.8 570.1,500.9 567.7,498.0 565.4,495.1 563.4,492.2 561.5,489.3 559.7,486.4 558.1,483.5 556.7,480.5 555.5,477.5 554.5,474.5 553.6,471.4 552.9,468.3 552.4,465.3 552.1,462.2 551.9,459.1 551.7,456.0 551.8,452.9 551.9,449.8 552.2,446.7 552.6,443.6 553.2,440.4 553.9,437.2 554.7,434.1 555.7,430.8 556.9,427.6 558.1,424.2 559.6,420.8 561.3,417.4 563.2,414.1 565.6,410.9 568.3,408.0 571.4,405.6 574.8,403.6 578.4,401.8 582.1,400.3 585.9,398.9 589.9,397.6 593.9,396.5 598.1,395.8 602.4,395.3 606.7,395.1 611.2,395.1 615.7,395.3 620.2,396.0 624.6,397.3 628.7,399.4 632.3,402.2 635.3,405.7 637.9,409.5 640.0,413.5 641.9,417.5 643.5,421.5 645.0,425.4 646.3,429.2 647.6,433.0 648.8,436.8 650.0,440.5 651.1,444.3 652.0,448.1 652.7,452.0Z" fill="#deff00"/>
<path d="M651.6,456.0 651.8,459.9 651.8,463.8 651.4,467.8 650.8,471.7 649.7,475.6 648.3,479.3 646.4,482.8 644.2,486.1 641.9,489.3 639.4,492.4 637.0,495.6 634.7,498.9 632.7,503.0 631.0,507.8 628.4,512.2 624.7,514.9 620.4,516.5 616.0,517.5 611.5,518.2 607.0,518.5 602.6,518.6 598.2,518.2 593.9,517.3 589.7,515.8 585.8,513.7 582.2,511.2 579.0,508.4 576.0,505.6 573.2,502.8 570.6,499.9 568.3,497.1 566.1,494.3 564.1,491.5 562.2,488.6 560.5,485.8 558.9,482.9 557.6,480.0 556.4,477.1 555.4,474.1 554.6,471.1 553.9,468.1 553.4,465.0 553.1,462.0 552.9,459.0 552.7,456.0 552.7,453.0 552.9,449.9 553.1,446.9 553.5,443.8 554.1,440.7 554.7,437.6 555.6,434.5 556.6,431.4 557.7,428.2 559.0,424.9 560.5,421.7 562.2,418.4 564.1,415.2 566.4,412.2 569.1,409.4 572.1,407.0 575.4,405.0 578.8,403.2 582.4,401.6 586.1,400.1 590.0,398.8 594.0,397.8 598.1,397.1 602.2,396.7 606.5,396.5 610.8,396.5 615.2,396.8 619.6,397.5 623.8,399.0 627.7,401.1 631.1,403.9 634.0,407.3 636.5,411.0 638.6,414.9 640.4,418.7 642.0,422.6 643.5,426.3 644.8,430.0 646.1,433.7 647.3,437.3 648.5,441.0 649.5,444.6 650.4,448.4 651.1,452.1Z" fill="#faff00"/>
<path d="M650.1,456.0 650.3,459.8 650.4,463.6 650.1,467.5 649.5,471.3 648.5,475.1 647.0,478.7 645.1,482.1 642.9,485.3 640.6,488.4 638.1,491.3 635.7,494.3 633.3,497.5 631.3,501.2 629.5,505.7 627.0,509.7 623.5,512.4 619.5,514.3 615.4,515.6 611.1,516.4 606.7,516.8 602.4,516.9 598.1,516.7 593.9,515.9 589.9,514.5 586.0,512.4 582.5,510.0 579.3,507.3 576.4,504.5 573.7,501.7 571.2,499.0 568.9,496.2 566.8,493.4 564.8,490.7 562.9,487.9 561.3,485.1 559.8,482.3 558.4,479.5 557.3,476.6 556.3,473.7 555.5,470.7 554.9,467.8 554.4,464.8 554.1,461.9 553.8,458.9 553.7,456.0 553.7,453.0 553.8,450.1 554.1,447.1 554.4,444.1 554.9,441.1 555.6,438.0 556.4,435.0 557.4,431.9 558.5,428.8 559.8,425.7 561.3,422.5 563.1,419.4 565.0,416.4 567.3,413.4 569.9,410.8 572.8,408.5 576.0,406.4 579.3,404.6 582.8,403.0 586.4,401.4 590.1,400.1 594.0,399.0 598.0,398.4 602.1,398.1 606.2,397.9 610.5,397.9 614.8,398.3 619.0,399.1 623.0,400.6 626.7,402.8 630.0,405.7 632.8,409.0 635.1,412.5 637.2,416.3 638.9,420.0 640.5,423.7 642.0,427.3 643.3,430.8 644.6,434.4 645.8,437.9 646.9,441.4 648.0,445.0 648.9,448.6 649.6,452.3Z" fill="#ffe601"/>
<path d="M648.6,456.0 648.9,459.7 649.0,463.4 648.8,467.2 648.2,471.0 647.2,474.6 645.7,478.1 643.8,481.4 641.6,484.5 639.3,487.4 636.8,490.2 634.4,493.0 632.0,496.0 629.9,499.4 628.0,503.5 625.6,507.2 622.3,509.9 618.6,512.0 614.7,513.6 610.6,514.6 606.4,515.1 602.2,515.3 598.1,515.1 594.0,514.5 590.0,513.2 586.3,511.2 582.8,508.7 579.7,506.1 576.8,503.4 574.2,500.7 571.8,498.0 569.5,495.3 567.4,492.6 565.5,489.9 563.7,487.2 562.0,484.5 560.6,481.7 559.3,479.0 558.1,476.1 557.2,473.3 556.4,470.4 555.8,467.5 555.4,464.6 555.1,461.8 554.8,458.9 554.7,456.0 554.7,453.1 554.8,450.2 555.0,447.3 555.3,444.3 555.8,441.4 556.5,438.4 557.3,435.4 558.2,432.4 559.4,429.4 560.7,426.4 562.2,423.4 564.0,420.4 565.9,417.5 568.2,414.7 570.7,412.2 573.5,409.9 576.6,407.9 579.8,406.0 583.1,404.3 586.6,402.7 590.3,401.3 594.1,400.3 598.0,399.8 601.9,399.5 606.0,399.3 610.1,399.3 614.3,399.7 618.4,400.6 622.2,402.3 625.7,404.6 628.8,407.4 631.5,410.6 633.7,414.1 635.7,417.6 637.5,421.2 639.0,424.7 640.5,428.2 641.8,431.7 643.0,435.1 644.2,438.4 645.4,441.8 646.4,445.3 647.3,448.8 648.0,452.4Z" fill="#ffc509"/>
<path d="M647.1,456.0 647.4,459.6 647.6,463.3 647.5,466.9 647.0,470.6 646.0,474.2 644.5,477.6 642.6,480.8 640.3,483.7 638.0,486.5 635.5,489.1 633.1,491.8 630.7,494.5 628.6,497.7 626.6,501.3 624.1,504.7 621.1,507.4 617.7,509.7 614.1,511.6 610.2,512.8 606.1,513.4 602.1,513.7 598.0,513.6 594.0,513.0 590.1,511.8 586.5,509.9 583.1,507.5 580.1,504.9 577.3,502.3 574.7,499.6 572.3,497.0 570.1,494.4 568.1,491.8 566.2,489.1 564.4,486.5 562.8,483.9 561.4,481.2 560.1,478.4 559.0,475.7 558.1,472.9 557.4,470.1 556.8,467.2 556.4,464.4 556.0,461.6 555.8,458.8 555.7,456.0 555.7,453.2 555.8,450.3 556.0,447.5 556.3,444.6 556.7,441.7 557.3,438.8 558.1,435.8 559.1,432.9 560.2,430.0 561.6,427.1 563.1,424.2 564.9,421.4 566.8,418.7 569.0,416.0 571.5,413.6 574.2,411.3 577.1,409.3 580.2,407.4 583.4,405.6 586.8,404.0 590.4,402.5 594.1,401.6 597.9,401.1 601.8,400.8 605.8,400.7 609.8,400.7 613.8,401.2 617.7,402.2 621.4,403.9 624.7,406.3 627.6,409.1 630.2,412.3 632.4,415.6 634.3,419.0 636.0,422.5 637.5,425.8 638.9,429.2 640.3,432.5 641.5,435.7 642.7,439.0 643.8,442.3 644.9,445.6 645.8,449.0 646.5,452.5Z" fill="#ffa610"/>
<path d="M645.6,456.0 646.0,459.5 646.2,463.1 646.2,466.7 645.7,470.3 644.7,473.7 643.2,477.0 641.3,480.1 639.0,482.9 636.6,485.5 634.2,488.0 631.7,490.5 629.4,493.1 627.2,495.9 625.1,499.1 622.7,502.2 619.9,504.9 616.8,507.5 613.4,509.7 609.7,511.0 605.8,511.7 601.9,512.1 598.0,512.1 594.1,511.6 590.3,510.5 586.7,508.7 583.4,506.3 580.5,503.8 577.7,501.2 575.2,498.6 572.9,496.0 570.7,493.5 568.7,490.9 566.9,488.4 565.1,485.8 563.6,483.2 562.2,480.6 561.0,477.9 559.9,475.2 559.1,472.5 558.3,469.7 557.8,467.0 557.3,464.2 557.0,461.5 556.8,458.7 556.7,456.0 556.7,453.3 556.7,450.5 556.9,447.7 557.2,444.9 557.6,442.0 558.2,439.2 558.9,436.3 559.9,433.4 561.1,430.6 562.4,427.8 564.0,425.1 565.8,422.4 567.7,419.8 569.9,417.3 572.3,415.0 574.9,412.8 577.7,410.8 580.7,408.8 583.8,407.0 587.1,405.2 590.5,403.8 594.1,402.8 597.9,402.4 601.7,402.2 605.5,402.1 609.4,402.1 613.3,402.6 617.1,403.7 620.6,405.6 623.7,408.0 626.5,410.8 628.9,413.9 631.0,417.2 632.8,420.4 634.5,423.7 636.0,426.9 637.4,430.1 638.8,433.3 640.0,436.4 641.2,439.6 642.3,442.7 643.3,445.9 644.2,449.2 645.0,452.6Z" fill="#ff8c10"/>
<path d="M644.0,456.0 644.5,459.4 644.8,462.9 644.9,466.4 644.4,469.9 643.5,473.3 642.0,476.5 640.0,479.4 637.7,482.1 635.3,484.6 632.9,486.9 630.4,489.3 628.0,491.6 625.8,494.1 623.6,496.9 621.3,499.8 618.6,502.4 615.9,505.2 612.8,507.7 609.3,509.3 605.5,510.1 601.7,510.4 597.9,510.5 594.1,510.2 590.4,509.2 586.9,507.4 583.7,505.1 580.9,502.6 578.2,500.1 575.7,497.5 573.5,495.0 571.4,492.5 569.4,490.1 567.5,487.6 565.9,485.1 564.3,482.6 563.0,480.0 561.8,477.4 560.8,474.7 560.0,472.0 559.3,469.4 558.7,466.7 558.3,464.0 558.0,461.3 557.8,458.7 557.7,456.0 557.7,453.3 557.7,450.6 557.8,447.9 558.1,445.1 558.5,442.3 559.0,439.5 559.8,436.7 560.7,434.0 561.9,431.2 563.3,428.5 564.9,425.9 566.7,423.4 568.6,421.0 570.8,418.6 573.1,416.3 575.6,414.2 578.3,412.2 581.1,410.2 584.1,408.3 587.3,406.5 590.6,405.0 594.2,404.1 597.8,403.7 601.5,403.6 605.3,403.5 609.1,403.5 612.9,404.1 616.5,405.3 619.8,407.2 622.7,409.7 625.3,412.6 627.6,415.6 629.6,418.7 631.4,421.8 633.0,424.9 634.5,428.0 635.9,431.0 637.2,434.1 638.5,437.1 639.6,440.1 640.7,443.2 641.7,446.3 642.7,449.4 643.4,452.7Z" fill="#ff7210"/>
<path d="M642.5,456.0 643.1,459.3 643.5,462.7 643.6,466.1 643.2,469.5 642.2,472.8 640.7,475.9 638.7,478.7 636.4,481.3 634.0,483.6 631.6,485.9 629.1,488.0 626.7,490.1 624.4,492.4 622.1,494.8 619.8,497.3 617.4,499.9 615.0,503.0 612.2,505.7 608.8,507.5 605.2,508.4 601.6,508.8 597.8,509.0 594.2,508.7 590.5,507.9 587.2,506.2 584.0,503.9 581.2,501.5 578.6,499.0 576.3,496.5 574.0,494.0 572.0,491.6 570.0,489.2 568.2,486.8 566.6,484.4 565.1,481.9 563.8,479.4 562.7,476.8 561.7,474.2 560.9,471.6 560.2,469.0 559.7,466.4 559.3,463.8 559.0,461.2 558.8,458.6 558.7,456.0 558.7,453.4 558.7,450.8 558.8,448.1 559.0,445.4 559.4,442.7 559.9,439.9 560.6,437.2 561.6,434.5 562.7,431.8 564.1,429.3 565.7,426.8 567.6,424.4 569.5,422.1 571.6,419.9 573.9,417.7 576.3,415.7 578.9,413.6 581.6,411.6 584.5,409.7 587.5,407.8 590.8,406.3 594.2,405.3 597.8,405.1 601.4,405.0 605.0,404.9 608.7,404.9 612.4,405.5 615.9,406.8 619.0,408.9 621.7,411.5 624.1,414.3 626.3,417.2 628.2,420.2 630.0,423.2 631.6,426.2 633.0,429.1 634.4,432.0 635.7,434.9 637.0,437.8 638.1,440.7 639.2,443.6 640.2,446.6 641.1,449.7 641.9,452.8Z" fill="#ff5410"/>
<path d="M641.0,456.0 641.6,459.2 642.1,462.5 642.2,465.8 641.9,469.2 641.0,472.4 639.4,475.3 637.4,478.0 635.2,480.5 632.7,482.7 630.3,484.8 627.8,486.7 625.4,488.6 623.0,490.6 620.7,492.6 618.4,494.8 616.2,497.4 614.1,500.7 611.5,503.8 608.4,505.7 604.9,506.7 601.4,507.2 597.8,507.4 594.2,507.3 590.7,506.5 587.4,504.9 584.4,502.7 581.6,500.3 579.1,497.8 576.8,495.4 574.6,493.1 572.6,490.7 570.7,488.4 568.9,486.1 567.3,483.7 565.9,481.3 564.6,478.8 563.5,476.3 562.6,473.8 561.8,471.2 561.2,468.7 560.7,466.1 560.3,463.6 560.0,461.1 559.8,458.5 559.7,456.0 559.6,453.5 559.7,450.9 559.7,448.3 559.9,445.7 560.3,443.0 560.8,440.3 561.5,437.6 562.4,435.0 563.6,432.4 565.0,430.0 566.6,427.6 568.5,425.4 570.4,423.3 572.5,421.2 574.7,419.1 577.0,417.1 579.5,415.1 582.0,413.0 584.8,411.0 587.7,409.1 590.9,407.5 594.3,406.6 597.7,406.4 601.2,406.4 604.8,406.3 608.4,406.3 611.9,407.0 615.2,408.4 618.2,410.6 620.7,413.2 623.0,416.0 625.0,418.9 626.8,421.8 628.5,424.6 630.1,427.4 631.5,430.2 632.9,432.9 634.2,435.7 635.4,438.4 636.6,441.2 637.6,444.1 638.6,446.9 639.5,449.9 640.3,452.9Z" fill="#ff2e10"/>
<path d="M637.5,456.0 638.1,458.9 638.5,462.0 638.7,465.1 638.4,468.1 637.5,471.1 636.1,473.9 634.3,476.4 632.2,478.6 630.0,480.7 627.7,482.6 625.5,484.5 623.3,486.3 621.1,488.1 618.9,489.9 616.8,492.0 614.8,494.6 612.9,497.8 610.6,500.8 607.7,502.8 604.5,504.0 601.1,504.8 597.7,505.3 594.3,505.4 590.9,504.7 587.7,503.2 584.8,501.1 582.1,498.7 579.7,496.2 577.5,493.8 575.5,491.5 573.6,489.2 571.8,486.9 570.2,484.7 568.7,482.4 567.3,480.1 566.2,477.7 565.1,475.3 564.3,472.9 563.5,470.5 563.0,468.0 562.5,465.6 562.1,463.2 561.9,460.8 561.7,458.4 561.6,456.0 561.5,453.6 561.5,451.2 561.6,448.7 561.8,446.2 562.1,443.7 562.6,441.1 563.2,438.6 564.1,436.1 565.2,433.6 566.5,431.3 568.1,429.0 569.8,426.9 571.6,424.8 573.6,422.8 575.6,420.7 577.8,418.7 580.1,416.7 582.6,414.7 585.2,412.6 588.0,410.7 591.1,409.1 594.3,408.3 597.7,408.1 601.0,408.3 604.4,408.6 607.7,409.0 611.0,409.8 614.0,411.4 616.7,413.5 619.0,416.1 621.1,418.8 622.9,421.6 624.6,424.3 626.1,426.9 627.5,429.5 628.9,432.1 630.1,434.7 631.3,437.2 632.4,439.8 633.5,442.4 634.4,445.0 635.4,447.6 636.2,450.4 636.9,453.1Z" fill="#ff1010"/>
<path d="M633.4,456.0 633.9,458.6 634.2,461.4 634.4,464.2 634.1,466.9 633.4,469.6 632.1,472.1 630.5,474.4 628.7,476.4 626.8,478.3 624.8,480.2 622.8,481.9 620.9,483.6 618.9,485.3 617.0,487.1 615.1,489.1 613.4,491.6 611.6,494.6 609.5,497.6 606.9,499.7 603.9,501.1 600.8,502.1 597.6,502.9 594.3,503.3 591.1,502.8 588.0,501.3 585.2,499.2 582.7,496.9 580.5,494.5 578.4,492.1 576.5,489.8 574.7,487.5 573.1,485.3 571.6,483.1 570.2,480.9 569.0,478.6 567.9,476.4 567.0,474.1 566.2,471.8 565.5,469.6 565.0,467.3 564.6,465.0 564.2,462.8 564.0,460.5 563.8,458.3 563.7,456.0 563.7,453.7 563.7,451.5 563.8,449.1 563.9,446.8 564.2,444.4 564.7,442.1 565.3,439.7 566.1,437.3 567.1,435.0 568.3,432.8 569.7,430.6 571.2,428.5 572.9,426.5 574.7,424.4 576.6,422.4 578.6,420.4 580.8,418.4 583.1,416.4 585.6,414.4 588.3,412.5 591.3,410.9 594.4,410.1 597.6,410.1 600.8,410.5 603.9,411.1 607.0,411.9 609.9,413.1 612.7,414.8 615.0,417.0 617.1,419.4 618.9,422.0 620.6,424.6 622.0,427.1 623.4,429.5 624.7,431.9 625.8,434.3 627.0,436.7 628.0,439.0 629.0,441.3 629.9,443.7 630.7,446.0 631.5,448.5 632.2,450.9 632.9,453.4Z" fill="#ff1010"/>
<path d="M629.3,456.0 629.7,458.4 630.0,460.8 630.1,463.2 629.8,465.7 629.2,468.1 628.2,470.3 626.8,472.4 625.2,474.3 623.5,476.0 621.9,477.7 620.2,479.3 618.5,481.0 616.8,482.6 615.1,484.3 613.5,486.3 611.9,488.6 610.3,491.5 608.4,494.3 606.1,496.5 603.4,498.1 600.6,499.5 597.6,500.6 594.4,501.1 591.3,500.8 588.3,499.5 585.7,497.4 583.3,495.1 581.2,492.7 579.3,490.3 577.5,488.0 575.9,485.8 574.4,483.6 573.0,481.5 571.8,479.4 570.7,477.2 569.7,475.1 568.9,473.0 568.1,470.8 567.5,468.7 567.0,466.5 566.6,464.4 566.3,462.3 566.1,460.2 565.9,458.1 565.8,456.0 565.8,453.9 565.8,451.8 565.9,449.6 566.1,447.4 566.4,445.2 566.8,443.0 567.3,440.8 568.1,438.5 569.0,436.4 570.1,434.2 571.3,432.2 572.7,430.1 574.2,428.1 575.8,426.1 577.6,424.1 579.5,422.1 581.5,420.1 583.7,418.0 586.0,416.1 588.6,414.2 591.5,412.7 594.5,411.9 597.5,412.0 600.6,412.7 603.5,413.7 606.2,414.9 608.9,416.4 611.3,418.2 613.4,420.4 615.2,422.7 616.8,425.2 618.2,427.6 619.5,429.9 620.7,432.2 621.8,434.4 622.8,436.5 623.8,438.6 624.7,440.8 625.5,442.9 626.3,445.0 627.0,447.1 627.7,449.3 628.3,451.5 628.8,453.7Z" fill="#ff1010"/>
<path d="M625.2,456.0 625.5,458.1 625.7,460.2 625.8,462.3 625.6,464.5 625.0,466.6 624.2,468.5 623.0,470.4 621.7,472.1 620.3,473.7 618.9,475.2 617.5,476.8 616.1,478.3 614.7,479.9 613.2,481.5 611.8,483.4 610.4,485.6 609.1,488.3 607.4,491.0 605.3,493.3 602.9,495.2 600.3,496.8 597.5,498.2 594.5,499.0 591.5,498.9 588.7,497.6 586.1,495.6 583.9,493.3 581.9,490.9 580.1,488.6 578.5,486.3 577.0,484.1 575.7,482.0 574.5,479.9 573.4,477.9 572.4,475.8 571.5,473.8 570.7,471.8 570.1,469.8 569.5,467.8 569.1,465.8 568.7,463.8 568.4,461.9 568.2,459.9 568.1,458.0 568.0,456.0 568.0,454.0 568.0,452.1 568.1,450.1 568.3,448.0 568.5,446.0 568.9,443.9 569.4,441.9 570.1,439.8 570.9,437.7 571.8,435.7 572.9,433.7 574.2,431.8 575.5,429.8 577.0,427.8 578.6,425.8 580.3,423.8 582.2,421.7 584.2,419.7 586.5,417.8 588.9,416.0 591.6,414.5 594.5,413.7 597.5,413.9 600.3,414.8 603.0,416.3 605.5,417.9 607.8,419.7 609.9,421.6 611.7,423.8 613.3,426.1 614.7,428.3 615.9,430.6 617.0,432.7 618.0,434.8 618.9,436.8 619.8,438.7 620.6,440.6 621.3,442.5 622.0,444.4 622.7,446.3 623.3,448.2 623.9,450.1 624.4,452.0 624.8,454.0Z" fill="#ff1010"/>
<path d="M621.0,456.0 621.3,457.8 621.5,459.6 621.5,461.4 621.3,463.3 620.9,465.1 620.2,466.8 619.3,468.4 618.2,469.9 617.1,471.4 616.0,472.8 614.8,474.2 613.7,475.7 612.5,477.2 611.3,478.7 610.2,480.5 609.0,482.6 607.8,485.2 606.3,487.8 604.5,490.1 602.4,492.2 600.0,494.2 597.4,495.9 594.6,496.9 591.7,496.9 589.0,495.8 586.6,493.8 584.5,491.5 582.6,489.2 581.0,486.8 579.5,484.6 578.2,482.4 577.0,480.3 575.9,478.3 574.9,476.4 574.0,474.4 573.3,472.5 572.6,470.6 572.0,468.8 571.5,466.9 571.1,465.1 570.8,463.2 570.5,461.4 570.3,459.6 570.2,457.8 570.1,456.0 570.1,454.2 570.1,452.4 570.2,450.5 570.4,448.7 570.7,446.8 571.0,444.9 571.5,443.0 572.0,441.0 572.7,439.1 573.6,437.2 574.6,435.3 575.6,433.4 576.8,431.5 578.1,429.5 579.5,427.5 581.1,425.5 582.8,423.4 584.8,421.4 586.9,419.5 589.3,417.7 591.8,416.3 594.6,415.5 597.4,415.8 600.1,417.0 602.5,418.9 604.7,420.9 606.7,422.9 608.5,425.0 610.1,427.2 611.4,429.4 612.5,431.5 613.5,433.6 614.5,435.5 615.3,437.4 616.0,439.2 616.8,440.9 617.4,442.6 618.0,444.3 618.6,445.9 619.1,447.6 619.6,449.2 620.0,450.9 620.4,452.6 620.8,454.3Z" fill="#ff1010"/>
<path d="M616.9,456.0 617.1,457.5 617.2,459.0 617.2,460.5 617.1,462.0 616.7,463.5 616.2,465.0 615.5,466.4 614.7,467.7 613.9,469.0 613.1,470.3 612.2,471.6 611.3,473.0 610.4,474.4 609.5,476.0 608.5,477.7 607.5,479.6 606.5,482.0 605.3,484.5 603.7,486.9 601.9,489.2 599.7,491.5 597.3,493.5 594.6,494.8 591.9,494.9 589.3,493.9 587.0,492.0 585.0,489.8 583.3,487.4 581.8,485.1 580.5,482.8 579.3,480.7 578.3,478.7 577.3,476.7 576.5,474.9 575.7,473.0 575.0,471.2 574.4,469.5 573.9,467.7 573.5,466.0 573.1,464.3 572.8,462.6 572.6,461.0 572.4,459.3 572.3,457.7 572.3,456.0 572.3,454.3 572.3,452.7 572.4,451.0 572.6,449.3 572.8,447.6 573.1,445.8 573.5,444.1 574.0,442.3 574.6,440.5 575.3,438.7 576.2,436.9 577.1,435.0 578.1,433.1 579.3,431.2 580.5,429.2 581.9,427.1 583.5,425.1 585.3,423.1 587.3,421.2 589.6,419.5 592.0,418.1 594.6,417.3 597.3,417.7 599.9,419.2 602.1,421.5 604.0,423.9 605.7,426.2 607.1,428.4 608.4,430.6 609.5,432.7 610.4,434.7 611.2,436.5 611.9,438.3 612.6,440.0 613.2,441.6 613.7,443.1 614.2,444.6 614.7,446.1 615.1,447.5 615.5,448.9 615.9,450.3 616.2,451.7 616.5,453.1 616.7,454.6Z" fill="#ff1010"/>
<path d="M612.8,456.0 612.9,457.2 612.9,458.4 612.9,459.6 612.8,460.8 612.6,462.0 612.2,463.2 611.8,464.4 611.3,465.5 610.7,466.7 610.1,467.9 609.5,469.1 608.9,470.3 608.3,471.7 607.6,473.2 606.8,474.8 606.1,476.7 605.2,478.9 604.2,481.2 602.9,483.7 601.3,486.3 599.5,488.9 597.2,491.2 594.7,492.7 592.1,493.0 589.6,492.0 587.5,490.2 585.6,488.0 584.0,485.6 582.7,483.3 581.5,481.1 580.5,479.0 579.6,477.0 578.8,475.1 578.0,473.3 577.4,471.6 576.8,469.9 576.3,468.3 575.9,466.7 575.5,465.1 575.2,463.6 574.9,462.0 574.7,460.5 574.5,459.0 574.4,457.5 574.4,456.0 574.4,454.5 574.5,453.0 574.6,451.4 574.7,449.9 575.0,448.3 575.2,446.8 575.6,445.1 576.0,443.5 576.5,441.8 577.1,440.2 577.8,438.4 578.6,436.6 579.4,434.8 580.4,432.9 581.5,430.9 582.7,428.8 584.2,426.8 585.9,424.8 587.8,422.9 589.9,421.2 592.2,419.9 594.7,419.1 597.3,419.6 599.6,421.3 601.6,424.0 603.3,426.9 604.6,429.5 605.8,431.8 606.7,434.0 607.5,436.0 608.2,437.8 608.9,439.5 609.4,441.1 609.9,442.6 610.3,444.0 610.7,445.3 611.0,446.6 611.4,447.8 611.6,449.0 611.9,450.2 612.1,451.4 612.4,452.5 612.5,453.7 612.7,454.8Z" fill="#fc1010"/>
<path d="M608.7,456.0 608.7,456.9 608.7,457.8 608.6,458.7 608.5,459.6 608.4,460.5 608.2,461.4 608.0,462.4 607.8,463.4 607.5,464.4 607.2,465.4 606.9,466.5 606.5,467.7 606.1,469.0 605.7,470.4 605.2,471.9 604.6,473.7 604.0,475.7 603.1,478.0 602.1,480.5 600.8,483.3 599.2,486.2 597.1,488.8 594.8,490.6 592.3,491.0 590.0,490.2 587.9,488.4 586.2,486.2 584.7,483.9 583.5,481.6 582.5,479.4 581.6,477.3 580.9,475.4 580.2,473.6 579.6,471.8 579.1,470.2 578.6,468.6 578.2,467.1 577.8,465.7 577.5,464.2 577.2,462.8 577.0,461.5 576.8,460.1 576.6,458.7 576.6,457.4 576.5,456.0 576.5,454.6 576.6,453.3 576.7,451.9 576.9,450.5 577.1,449.1 577.3,447.7 577.6,446.2 578.0,444.8 578.4,443.2 578.9,441.6 579.4,440.0 580.0,438.3 580.7,436.5 581.5,434.5 582.5,432.6 583.6,430.5 584.9,428.5 586.4,426.5 588.2,424.6 590.2,423.0 592.4,421.6 594.8,421.0 597.2,421.5 599.4,423.5 601.2,426.6 602.5,429.9 603.5,432.8 604.4,435.3 605.1,437.4 605.6,439.3 606.1,441.0 606.5,442.5 606.9,443.9 607.2,445.2 607.4,446.4 607.7,447.5 607.9,448.6 608.0,449.6 608.2,450.6 608.3,451.5 608.4,452.4 608.5,453.3 608.6,454.2 608.6,455.1Z" fill="#ed1010"/>
<path d="M605.8,456.0 605.8,456.7 605.7,457.4 605.7,458.1 605.6,458.8 605.6,459.5 605.5,460.2 605.4,461.0 605.2,461.8 605.1,462.6 604.9,463.5 604.7,464.4 604.5,465.4 604.3,466.6 603.9,467.8 603.6,469.1 603.2,470.7 602.6,472.4 602.0,474.4 601.2,476.7 600.1,479.3 598.7,481.9 597.0,484.4 595.0,486.0 592.8,486.5 590.8,485.7 589.0,484.2 587.5,482.2 586.2,480.2 585.2,478.1 584.4,476.2 583.6,474.3 583.0,472.6 582.4,471.1 582.0,469.6 581.5,468.1 581.1,466.8 580.8,465.5 580.5,464.2 580.2,463.0 580.0,461.8 579.8,460.6 579.7,459.5 579.5,458.3 579.5,457.2 579.4,456.0 579.5,454.8 579.5,453.7 579.6,452.5 579.8,451.3 579.9,450.2 580.2,448.9 580.4,447.7 580.7,446.4 581.0,445.1 581.4,443.7 581.8,442.3 582.3,440.8 582.9,439.2 583.5,437.5 584.3,435.7 585.2,433.9 586.3,432.1 587.7,430.3 589.2,428.7 590.9,427.2 592.9,426.1 594.9,425.5 597.0,425.9 599.0,427.9 600.4,430.8 601.5,433.8 602.3,436.5 603.0,438.8 603.5,440.7 603.9,442.3 604.2,443.8 604.5,445.1 604.8,446.3 605.0,447.3 605.1,448.3 605.3,449.3 605.4,450.1 605.5,450.9 605.6,451.7 605.7,452.5 605.7,453.2 605.8,453.9 605.8,454.6 605.8,455.3Z" fill="#db1010"/>
<path d="M603.3,456.0 603.3,456.5 603.3,457.0 603.3,457.5 603.2,458.1 603.2,458.6 603.1,459.2 603.0,459.7 602.9,460.3 602.8,460.9 602.7,461.6 602.5,462.3 602.4,463.1 602.2,463.9 602.0,464.8 601.7,465.8 601.4,467.0 601.0,468.3 600.5,469.8 599.9,471.5 599.1,473.4 598.0,475.4 596.7,477.3 595.2,478.5 593.6,478.8 592.1,478.3 590.7,477.1 589.6,475.7 588.7,474.1 587.9,472.6 587.3,471.1 586.7,469.7 586.3,468.5 585.8,467.3 585.5,466.2 585.2,465.1 584.9,464.1 584.6,463.1 584.4,462.2 584.2,461.3 584.0,460.4 583.9,459.5 583.8,458.6 583.7,457.7 583.6,456.9 583.6,456.0 583.6,455.1 583.7,454.3 583.7,453.4 583.8,452.5 584.0,451.6 584.1,450.7 584.3,449.8 584.5,448.8 584.8,447.8 585.1,446.8 585.4,445.7 585.7,444.6 586.2,443.4 586.7,442.1 587.2,440.8 587.9,439.5 588.8,438.1 589.8,436.8 590.9,435.6 592.2,434.5 593.6,433.6 595.2,433.1 596.8,433.5 598.2,434.9 599.3,437.1 600.1,439.4 600.7,441.4 601.2,443.1 601.6,444.5 601.9,445.8 602.2,446.9 602.4,447.8 602.6,448.7 602.7,449.5 602.8,450.3 603.0,450.9 603.1,451.6 603.1,452.2 603.2,452.8 603.3,453.4 603.3,453.9 603.3,454.4 603.3,455.0 603.4,455.5Z" fill="#ca1010"/>
<path d="M599.4,456.0 599.4,456.2 599.4,456.5 599.4,456.7 599.4,457.0 599.3,457.2 599.3,457.5 599.3,457.7 599.2,458.0 599.2,458.3 599.1,458.6 599.1,459.0 599.0,459.3 598.9,459.7 598.8,460.1 598.7,460.6 598.5,461.1 598.3,461.7 598.1,462.4 597.8,463.3 597.4,464.2 597.0,465.1 596.3,465.9 595.6,466.5 594.9,466.7 594.2,466.4 593.5,465.9 593.0,465.2 592.6,464.5 592.2,463.8 591.9,463.1 591.7,462.4 591.4,461.8 591.3,461.3 591.1,460.8 590.9,460.3 590.8,459.8 590.7,459.3 590.6,458.9 590.5,458.5 590.4,458.0 590.3,457.6 590.3,457.2 590.2,456.8 590.2,456.4 590.2,456.0 590.2,455.6 590.2,455.2 590.3,454.8 590.3,454.4 590.4,454.0 590.4,453.5 590.5,453.1 590.6,452.6 590.8,452.2 590.9,451.7 591.0,451.2 591.2,450.7 591.4,450.1 591.6,449.5 591.9,448.9 592.2,448.3 592.6,447.6 593.1,447.0 593.6,446.4 594.2,445.9 594.9,445.5 595.6,445.3 596.4,445.5 597.0,446.1 597.6,447.2 597.9,448.2 598.2,449.2 598.4,450.0 598.6,450.6 598.8,451.2 598.9,451.7 599.0,452.2 599.1,452.6 599.1,453.0 599.2,453.3 599.3,453.6 599.3,453.9 599.3,454.2 599.4,454.5 599.4,454.8 599.4,455.0 599.4,455.3 599.4,455.5 599.4,455.8Z" fill="#bd0f0f"/>
</g>
<rect x="496.7" y="348.8" width="230" height="230" fill="none" stroke="#111" stroke-width="1.4"/>
<path d="M515.9,348.8v3.2M515.9,578.8v-3.2M496.7,368.0h3.2M726.7,368.0h-3.2M535.0,348.8v6.0M535.0,578.8v-6.0M496.7,387.1h6.0M726.7,387.1h-6.0M554.2,348.8v3.2M554.2,578.8v-3.2M496.7,406.3h3.2M726.7,406.3h-3.2M573.4,348.8v6.0M573.4,578.8v-6.0M496.7,425.5h6.0M726.7,425.5h-6.0M592.5,348.8v3.2M592.5,578.8v-3.2M496.7,444.6h3.2M726.7,444.6h-3.2M611.7,348.8v6.0M611.7,578.8v-6.0M496.7,463.8h6.0M726.7,463.8h-6.0M630.9,348.8v3.2M630.9,578.8v-3.2M496.7,483.0h3.2M726.7,483.0h-3.2M650.0,348.8v6.0M650.0,578.8v-6.0M496.7,502.1h6.0M726.7,502.1h-6.0M669.2,348.8v3.2M669.2,578.8v-3.2M496.7,521.3h3.2M726.7,521.3h-3.2M688.4,348.8v6.0M688.4,578.8v-6.0M496.7,540.5h6.0M726.7,540.5h-6.0M707.5,348.8v3.2M707.5,578.8v-3.2M496.7,559.6h3.2M726.7,559.6h-3.2" stroke="#111" stroke-width="1.3" fill="none"/>
<text x="489.2" y="354.4" text-anchor="end" font-size="18.0">0</text>
<text x="489.2" y="392.7" text-anchor="end" font-size="18.0">20</text>
<text x="489.2" y="431.1" text-anchor="end" font-size="18.0">40</text>
<text x="489.2" y="469.4" text-anchor="end" font-size="18.0">60</text>
<text x="489.2" y="507.7" text-anchor="end" font-size="18.0">80</text>
<text x="489.2" y="546.1" text-anchor="end" font-size="18.0">100</text>
<text x="489.2" y="584.4" text-anchor="end" font-size="18.0">120</text>
<text x="441.2" y="353.0" font-size="18.0">(d)</text>
<text transform="translate(455.4,462.0) rotate(-90)" text-anchor="middle" font-size="18.0">Position (<tspan font-family="Liberation Serif">μ</tspan>m)</text>
<text x="504.4" y="374.3" font-size="18.0">986 nm</text>
<text x="745.9" y="358.4" font-size="18.0"><tspan font-family="Liberation Serif" font-size="16">Δμ</tspan><tspan font-size="11" dy="6.5">eff</tspan><tspan dy="-6.5"> (eV)</tspan></text>
<rect x="741.3" y="378.0" width="16.5" height="193.2" fill="url(#cb3)"/>
<text x="764.4" y="385.0" font-size="18.0">1.130</text>
<text x="764.4" y="423.8" font-size="18.0">1.110</text>
<text x="764.4" y="462.6" font-size="18.0">1.090</text>
<text x="764.4" y="501.4" font-size="18.0">1.070</text>
<text x="764.4" y="540.2" font-size="18.0">1.050</text>
<text x="764.4" y="579.0" font-size="18.0">1.030</text>
<text x="503.9" y="561.6" font-size="18.0">InAs/Al<tspan font-size="11" dy="6.5">0.4</tspan><tspan dy="-6.5">Ga</tspan><tspan font-size="11" dy="6.5">0.6</tspan><tspan dy="-6.5">As QDSC</tspan></text>
</svg></body></html>
